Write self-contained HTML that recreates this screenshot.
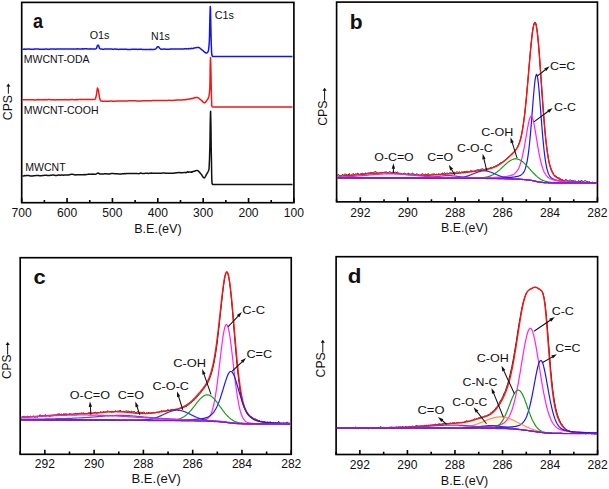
<!DOCTYPE html>
<html><head><meta charset="utf-8"><title>XPS</title>
<style>html,body{margin:0;padding:0;background:#fff;width:609px;height:489px;overflow:hidden}
svg{display:block;font-family:"Liberation Sans",sans-serif}</style></head>
<body>
<svg width="609" height="489" viewBox="0 0 609 489" font-family="Liberation Sans, sans-serif">
<rect x="21.70" y="2.40" width="272.20" height="200.30" fill="none" stroke="#000" stroke-width="1.65"/>
<path d="M21.70 202.70V198.10M67.07 202.70V198.10M112.43 202.70V198.10M157.80 202.70V198.10M203.17 202.70V198.10M248.53 202.70V198.10M293.90 202.70V198.10M44.38 202.70V200.00M89.75 202.70V200.00M135.12 202.70V200.00M180.48 202.70V200.00M225.85 202.70V200.00M271.22 202.70V200.00" stroke="#000" stroke-width="1.6" fill="none"/>
<text x="21.70" y="216.70" font-size="12.10" text-anchor="middle" fill="#111" >700</text>
<text x="67.07" y="216.70" font-size="12.10" text-anchor="middle" fill="#111" >600</text>
<text x="112.43" y="216.70" font-size="12.10" text-anchor="middle" fill="#111" >500</text>
<text x="157.80" y="216.70" font-size="12.10" text-anchor="middle" fill="#111" >400</text>
<text x="203.17" y="216.70" font-size="12.10" text-anchor="middle" fill="#111" >300</text>
<text x="248.53" y="216.70" font-size="12.10" text-anchor="middle" fill="#111" >200</text>
<text x="293.90" y="216.70" font-size="12.10" text-anchor="middle" fill="#111" >100</text>
<text x="134.17" y="232.90" font-size="12.20" textLength="47.51" lengthAdjust="spacingAndGlyphs" fill="#111">B.E.(eV)</text>
<text x="33.07" y="27.60" font-size="20.00" textLength="10.01" lengthAdjust="spacingAndGlyphs" font-weight="bold" fill="#111">a</text>
<text transform="translate(11.50 120.20) rotate(-90)" font-size="11.9" textLength="25.20" lengthAdjust="spacingAndGlyphs" fill="#111">CPS</text>
<path d="M8.35 93.70V85.40" stroke="#111" stroke-width="1.0"/>
<path d="M8.35 83.40L6.25 86.40L10.45 86.40Z" fill="#111"/>
<text x="214.65" y="18.60" font-size="10.80" textLength="19.14" lengthAdjust="spacingAndGlyphs" fill="#111">C1s</text>
<text x="89.69" y="39.30" font-size="10.80" textLength="19.80" lengthAdjust="spacingAndGlyphs" fill="#111">O1s</text>
<text x="151.04" y="40.00" font-size="10.60" textLength="18.75" lengthAdjust="spacingAndGlyphs" fill="#111">N1s</text>
<text x="23.75" y="62.50" font-size="10.20" textLength="65.87" lengthAdjust="spacingAndGlyphs" fill="#111">MWCNT-ODA</text>
<text x="23.74" y="113.70" font-size="10.20" textLength="74.81" lengthAdjust="spacingAndGlyphs" fill="#111">MWCNT-COOH</text>
<text x="25.34" y="170.60" font-size="10.20" textLength="40.30" lengthAdjust="spacingAndGlyphs" fill="#111">MWCNT</text>
<path d="M22.5 49.2L23.5 49.2L24.5 49.1L25.5 49.2L26.5 49.2L27.5 49.1L28.5 49.1L29.5 49.1L30.5 49.3L31.5 49.3L32.5 49.3L33.5 49.2L34.5 49.1L35.5 49.1L36.5 49.1L37.5 49.1L38.5 49.1L39.5 49.2L40.5 49.2L41.5 49.2L42.5 49.2L43.5 49.2L44.5 49.2L45.5 49.1L46.5 49.1L47.5 49.2L48.5 49.2L49.5 49.2L50.5 49.1L51.5 49.1L52.5 49.1L53.5 49.1L54.5 49.1L55.5 49.2L56.5 49.1L57.5 49.0L58.5 49.0L59.5 48.9L60.0 49.0L60.5 48.9L61.5 49.0L62.5 49.1L63.5 49.0L64.5 49.0L65.5 49.0L66.5 49.1L67.5 49.1L68.5 49.1L69.5 49.1L70.5 49.1L71.5 49.0L72.5 49.0L73.5 49.0L74.5 49.0L75.5 49.0L76.5 48.9L77.5 48.8L78.5 48.9L79.5 48.9L80.5 48.9L81.5 48.9L82.5 48.8L83.5 49.0L84.5 48.8L85.5 48.8L86.5 48.8L87.5 49.0L88.5 48.9L89.5 48.9L90.0 48.8L90.5 48.9L91.5 49.0L92.5 48.9L93.5 49.0L94.5 49.0L95.5 49.0L96.5 48.3L97.5 45.3L98.5 45.3L99.5 48.3L100.5 49.0L101.5 49.0L102.5 49.2L103.5 49.2L104.5 49.1L105.5 49.0L106.5 49.0L107.5 49.1L108.5 49.1L109.5 49.1L110.5 49.0L111.5 49.1L112.5 49.2L113.5 49.2L114.5 49.1L115.5 49.1L116.5 49.2L117.5 49.3L118.5 49.4L119.5 49.3L120.0 49.3L120.5 49.2L121.5 49.3L122.5 49.3L123.5 49.3L124.5 49.2L125.5 49.3L126.5 49.3L127.5 49.5L128.5 49.5L129.5 49.6L130.5 49.4L131.5 49.3L132.5 49.2L133.5 49.3L134.5 49.2L135.5 49.3L136.5 49.3L137.5 49.4L138.5 49.3L139.5 49.2L140.5 49.3L141.5 49.3L142.5 49.5L143.5 49.5L144.5 49.5L145.5 49.4L146.5 49.5L147.5 49.5L148.5 49.5L149.5 49.4L150.0 49.4L150.5 49.3L151.5 49.4L152.5 49.4L153.5 49.4L154.5 49.3L155.5 49.0L156.5 48.0L157.5 46.7L158.5 46.7L159.5 48.0L160.5 49.0L161.5 49.2L162.5 49.2L163.5 49.1L164.5 49.1L165.5 49.2L166.5 49.3L167.5 49.3L168.5 49.2L169.5 49.2L170.5 49.1L171.5 49.0L172.5 49.0L173.5 49.0L174.5 49.0L175.5 48.9L176.5 48.9L177.5 49.0L178.5 49.0L179.5 49.0L180.0 49.0L180.5 49.0L181.5 49.1L182.5 48.9L183.5 48.9L184.5 48.7L185.0 48.8L185.2 48.8L185.5 48.9L185.7 48.9L186.0 48.9L186.2 48.9L186.5 48.8L186.7 48.8L187.0 48.8L187.2 48.7L187.5 48.8L187.7 48.8L188.0 49.0L188.2 48.8L188.5 48.8L188.7 48.6L189.0 48.7L189.2 48.6L189.5 48.6L189.7 48.6L190.0 48.7L190.2 48.6L190.5 48.7L190.7 48.5L191.0 48.5L191.2 48.4L191.5 48.3L191.7 48.4L192.0 48.5L192.2 48.5L192.5 48.5L192.7 48.5L193.0 48.5L193.2 48.4L193.5 48.3L193.7 48.1L194.0 48.1L194.2 48.0L194.5 48.0L194.7 47.9L195.0 47.9L195.2 47.9L195.5 47.8L195.7 47.8L196.0 47.7L196.2 47.7L196.5 47.6L196.7 47.6L197.0 47.6L197.2 47.5L197.5 47.5L197.7 47.5L198.0 47.5L198.2 47.5L198.3 47.5L198.5 47.5L198.7 47.5L199.0 47.6L199.2 47.7L199.5 47.8L199.7 48.0L200.0 48.2L200.2 48.4L200.5 48.6L200.7 48.8L201.0 49.0L201.2 49.2L201.5 49.5L201.7 49.7L202.0 49.9L202.2 50.1L202.5 50.3L202.7 50.4L203.0 50.6L203.2 50.9L203.5 51.1L203.7 51.3L204.0 51.5L204.2 51.8L204.5 52.0L204.7 52.2L205.0 52.4L205.2 52.6L205.5 52.7L205.7 52.9L206.0 53.0L206.2 53.0L206.5 53.1L206.7 53.0L207.0 52.9L207.2 52.7L207.5 52.4L207.7 52.0L208.0 51.6L208.2 51.1L208.3 51.0L208.5 50.2L208.7 48.4L209.0 45.8L209.2 42.7L209.3 42.0L209.5 36.7L209.7 25.9L210.0 14.6L210.2 7.3L210.3 6.6L210.5 8.9L210.7 20.0L211.0 33.8L211.2 42.0L211.2 43.3L211.5 50.0L211.7 54.2L211.8 54.6L212.0 55.3L212.2 56.0L212.5 56.3L212.6 56.4L212.7 56.4L213.0 56.4L213.2 56.4L213.5 56.4L213.7 56.4L214.0 56.4L214.2 56.4L214.5 56.4L214.7 56.4L215.5 56.4L216.5 56.4L217.5 56.4L218.5 56.4L219.5 56.4L220.5 56.4L221.5 56.4L222.5 56.4L223.5 56.4L224.5 56.4L225.5 56.4L226.5 56.4L227.5 56.4L228.5 56.4L229.5 56.4L230.5 56.4L231.5 56.4L232.5 56.4L233.5 56.4L234.5 56.4L235.5 56.4L236.5 56.4L237.5 56.4L238.5 56.4L239.5 56.4L240.5 56.4L241.5 56.4L242.5 56.4L243.5 56.4L244.5 56.4L245.5 56.4L246.5 56.4L247.5 56.4L248.5 56.4L249.5 56.4L250.5 56.4L251.5 56.4L252.5 56.4L253.5 56.4L254.5 56.4L255.5 56.4L256.5 56.4L257.5 56.4L258.5 56.4L259.5 56.4L260.5 56.4L261.5 56.4L262.5 56.4L263.5 56.4L264.5 56.4L265.5 56.4L266.5 56.4L267.5 56.4L268.5 56.4L269.5 56.4L270.5 56.4L271.5 56.4L272.5 56.4L273.5 56.4L274.5 56.4L275.5 56.4L276.5 56.4L277.5 56.4L278.5 56.4L279.5 56.4L280.5 56.4L281.5 56.4L282.5 56.4L283.5 56.4L284.5 56.4L285.5 56.4L286.5 56.4L287.5 56.4L288.5 56.4L289.5 56.4L290.5 56.4L291.5 56.4L292.5 56.4" stroke="#1414f0" stroke-width="1.5" fill="none" stroke-linejoin="round"/>
<path d="M22.5 99.8L23.5 99.8L24.5 99.8L25.5 99.8L26.5 99.8L27.5 99.8L28.5 99.7L29.5 99.7L30.5 99.7L31.5 99.7L32.5 99.8L33.5 99.8L34.5 99.9L35.5 99.9L36.5 99.8L37.5 99.7L38.5 99.6L39.5 99.7L40.5 99.8L41.5 99.8L42.5 99.7L43.5 99.7L44.5 99.6L45.5 99.7L46.5 99.7L47.5 99.7L48.5 99.6L49.5 99.6L50.5 99.7L51.5 99.8L52.5 99.7L53.5 99.7L54.5 99.8L55.5 99.9L56.5 99.8L57.5 99.8L58.5 99.8L59.5 99.8L60.0 99.7L60.5 99.7L61.5 99.7L62.5 99.8L63.5 99.7L64.5 99.7L65.5 99.6L66.5 99.7L67.5 99.7L68.5 99.7L69.5 99.7L70.5 99.7L71.5 99.6L72.5 99.6L73.5 99.7L74.5 99.7L75.5 99.7L76.5 99.6L77.5 99.7L78.5 99.6L79.5 99.5L80.5 99.5L81.5 99.5L82.5 99.5L83.5 99.5L84.5 99.6L85.5 99.5L86.5 99.6L87.5 99.5L88.5 99.5L89.5 99.4L90.5 99.4L91.5 99.4L92.5 99.5L93.5 99.5L93.9 99.5L94.5 99.5L95.5 98.8L96.5 94.4L97.0 90.7L97.5 88.0L98.5 90.6L99.5 97.8L100.5 100.8L101.5 101.1L102.5 101.3L103.5 101.3L104.5 101.2L105.5 101.2L106.5 101.2L107.5 101.2L108.5 101.2L109.5 101.2L110.5 101.1L111.5 101.1L112.5 101.2L113.5 101.3L114.5 101.3L115.5 101.2L116.5 100.9L117.5 100.9L118.5 100.9L119.5 101.0L120.5 101.0L121.5 100.9L122.5 100.9L123.5 100.9L124.5 100.9L125.5 100.9L126.5 101.0L127.5 101.0L128.5 100.8L129.5 100.8L130.5 100.8L131.5 100.8L132.5 100.8L133.5 100.8L134.5 100.8L135.5 100.8L136.5 100.9L137.5 100.9L138.5 101.0L139.5 101.0L140.0 100.9L140.5 100.9L141.5 100.9L142.5 100.8L143.5 100.7L144.5 100.7L145.5 100.8L146.5 100.8L147.5 100.8L148.5 100.7L149.5 100.8L150.5 100.7L151.5 100.7L152.5 100.6L153.5 100.6L154.5 100.6L155.5 100.6L156.5 100.6L157.5 100.6L158.5 100.5L159.5 100.5L160.5 100.5L161.5 100.5L162.5 100.4L163.5 100.4L164.5 100.4L165.5 100.4L166.5 100.4L167.5 100.4L168.5 100.3L169.5 100.3L170.5 100.4L171.5 100.4L172.5 100.4L173.5 100.3L174.5 100.2L175.5 100.2L176.5 100.1L177.5 100.1L178.5 100.1L179.5 100.0L180.0 100.0L180.5 100.1L181.5 100.1L182.5 100.0L183.5 99.8L184.5 99.8L185.0 99.6L185.2 99.7L185.5 99.6L185.7 99.7L186.0 99.6L186.2 99.5L186.5 99.4L186.7 99.4L187.0 99.4L187.2 99.3L187.5 99.2L187.7 99.2L188.0 99.2L188.2 99.2L188.5 99.3L188.7 99.2L189.0 99.1L189.2 99.1L189.5 99.1L189.7 99.1L190.0 99.0L190.2 98.7L190.5 98.5L190.7 98.7L191.0 98.7L191.2 98.7L191.5 98.6L191.7 98.6L192.0 98.5L192.2 98.4L192.5 98.4L192.7 98.4L193.0 98.2L193.2 98.2L193.5 98.1L193.7 98.1L194.0 98.1L194.2 98.0L194.5 97.8L194.7 97.6L195.0 97.7L195.2 97.7L195.5 97.6L195.7 97.6L196.0 97.5L196.2 97.5L196.5 97.5L196.7 97.5L197.0 97.5L197.1 97.5L197.2 97.5L197.5 97.5L197.7 97.6L198.0 97.7L198.2 97.8L198.5 98.0L198.7 98.1L199.0 98.3L199.2 98.5L199.5 98.7L199.7 98.9L200.0 99.1L200.2 99.4L200.5 99.6L200.7 99.8L201.0 100.0L201.2 100.2L201.5 100.4L201.7 100.6L202.0 100.9L202.2 101.2L202.5 101.4L202.7 101.7L203.0 102.0L203.2 102.2L203.5 102.4L203.7 102.6L204.0 102.7L204.2 102.7L204.4 102.8L204.5 102.7L204.7 102.7L205.0 102.6L205.2 102.4L205.5 102.2L205.7 101.9L206.0 101.6L206.2 101.3L206.5 100.9L206.7 100.6L207.0 100.2L207.2 99.8L207.5 99.5L207.7 99.1L208.0 98.7L208.2 98.3L208.5 97.7L208.7 97.0L208.9 96.6L209.0 96.2L209.2 94.7L209.5 92.5L209.7 89.4L209.8 88.7L210.0 81.0L210.2 65.8L210.5 57.6L210.7 62.8L211.0 74.6L211.2 86.7L211.3 88.7L211.5 97.1L211.7 105.3L211.8 105.8L212.0 106.3L212.2 106.7L212.5 106.9L212.6 107.0L212.7 107.0L213.0 107.0L213.2 107.0L213.5 107.0L213.7 107.0L214.0 107.0L214.2 107.0L214.5 107.0L214.7 107.0L215.5 107.0L216.5 107.0L217.5 107.0L218.5 107.0L219.5 107.0L220.5 107.0L221.5 107.0L222.5 107.0L223.5 107.0L224.5 107.0L225.5 107.0L226.5 107.0L227.5 107.0L228.5 107.0L229.5 107.0L230.5 107.0L231.5 107.0L232.5 107.0L233.5 107.0L234.5 107.0L235.5 107.0L236.5 107.0L237.5 107.0L238.5 107.0L239.5 107.0L240.5 107.0L241.5 107.0L242.5 107.0L243.5 107.0L244.5 107.0L245.5 107.0L246.5 107.0L247.5 107.0L248.5 107.0L249.5 107.0L250.5 107.0L251.5 107.0L252.5 107.0L253.5 107.0L254.5 107.0L255.5 107.0L256.5 107.0L257.5 107.0L258.5 107.0L259.5 107.0L260.5 107.0L261.5 107.0L262.5 107.0L263.5 107.0L264.5 107.0L265.5 107.0L266.5 107.0L267.5 107.0L268.5 107.0L269.5 107.0L270.5 107.0L271.5 107.0L272.5 107.0L273.5 107.0L274.5 107.0L275.5 107.0L276.5 107.0L277.5 107.0L278.5 107.0L279.5 107.0L280.5 107.0L281.5 107.0L282.5 107.0L283.5 107.0L284.5 107.0L285.5 107.0L286.5 107.0L287.5 107.0L288.5 107.0L289.5 107.0L290.5 107.0L291.5 107.0L292.5 107.0" stroke="#f01818" stroke-width="1.5" fill="none" stroke-linejoin="round"/>
<path d="M22.5 176.0L23.5 176.0L24.5 175.6L25.5 175.7L26.5 175.5L27.5 175.6L28.5 175.6L29.5 175.7L30.5 175.9L31.5 176.0L32.5 176.0L33.5 175.8L34.5 175.7L35.5 175.6L36.5 175.4L37.5 175.4L38.5 175.6L39.5 175.8L40.5 175.7L41.5 175.7L42.5 175.6L43.5 175.6L44.5 175.3L45.5 175.2L46.5 175.2L47.5 175.5L48.5 175.6L49.5 175.5L50.5 175.2L51.5 175.2L52.5 175.1L53.5 175.1L54.5 175.2L55.5 175.4L56.5 175.4L57.5 175.2L58.5 175.0L59.5 175.0L60.0 175.2L60.5 175.2L61.5 175.1L62.5 175.0L63.5 175.2L64.5 175.1L65.5 175.0L66.5 175.0L67.5 175.0L68.5 175.0L69.5 174.7L70.5 174.4L71.5 174.3L72.5 174.3L73.5 174.6L74.5 174.7L75.5 174.9L76.5 174.8L77.5 174.7L78.5 174.8L79.5 174.7L80.5 174.8L81.5 174.7L82.5 174.8L83.5 174.8L84.5 174.6L85.5 174.7L86.5 174.4L87.5 174.4L88.5 174.1L89.5 174.3L90.5 174.2L91.5 174.3L92.5 174.1L93.5 174.3L94.5 174.3L95.5 174.2L96.5 173.9L97.5 173.2L98.5 173.1L99.5 173.8L100.0 174.0L100.5 174.1L101.5 174.1L102.5 174.1L103.5 173.9L104.5 173.7L105.5 173.8L106.5 173.7L107.5 174.0L108.5 174.1L109.5 174.0L110.5 173.7L111.5 173.6L112.5 173.5L113.5 173.6L114.5 173.7L115.5 173.8L116.5 173.7L117.5 173.7L118.5 174.0L119.5 174.1L120.5 174.1L121.5 174.0L122.5 173.8L123.5 173.8L124.5 173.6L125.5 173.7L126.5 173.5L127.5 173.5L128.5 173.4L129.5 173.6L130.5 173.5L131.5 173.5L132.5 173.4L133.5 173.5L134.5 173.5L135.5 173.5L136.5 173.4L137.5 173.6L138.5 173.7L139.5 173.5L140.0 173.2L140.5 173.1L141.5 173.3L142.5 173.6L143.5 173.6L144.5 173.4L145.5 173.3L146.5 173.2L147.5 173.3L148.5 173.5L149.5 173.3L150.5 173.3L151.5 173.1L152.5 173.3L153.5 173.2L154.5 173.3L155.5 173.2L156.5 173.2L157.5 173.2L158.5 173.2L159.5 173.2L160.5 173.2L161.5 173.2L162.5 173.0L163.5 173.0L164.5 172.9L165.5 173.2L166.5 173.2L167.5 173.2L168.5 173.2L169.5 173.3L170.5 173.2L171.5 173.3L172.5 173.2L173.5 173.3L174.5 173.0L175.5 173.0L176.5 172.7L177.5 172.7L178.5 172.6L179.5 172.6L180.0 172.8L180.5 172.6L181.5 172.8L182.5 172.7L183.5 172.6L184.5 172.4L185.0 172.5L185.2 172.5L185.5 172.5L185.7 172.6L186.0 172.8L186.2 172.7L186.5 172.4L186.7 172.4L187.0 172.2L187.2 171.9L187.5 171.8L187.7 171.8L188.0 172.2L188.2 172.3L188.5 172.3L188.7 172.0L189.0 172.0L189.2 172.0L189.5 172.0L189.7 171.9L190.0 172.0L190.2 172.0L190.5 172.0L190.7 172.1L191.0 172.2L191.2 172.0L191.5 172.1L191.7 171.9L192.0 172.2L192.2 171.8L192.5 171.8L192.7 171.6L193.0 171.6L193.2 171.6L193.5 171.6L193.7 171.4L194.0 171.2L194.2 171.2L194.5 171.3L194.7 171.2L195.0 170.9L195.2 170.9L195.5 170.8L195.7 170.7L196.0 170.7L196.2 170.6L196.5 170.6L196.7 170.6L197.0 170.6L197.2 170.6L197.2 170.6L197.5 170.6L197.7 170.7L198.0 170.8L198.2 171.0L198.5 171.2L198.7 171.4L199.0 171.7L199.2 171.9L199.5 172.2L199.7 172.5L200.0 172.8L200.2 173.1L200.5 173.4L200.7 173.7L201.0 174.0L201.2 174.2L201.5 174.6L201.7 175.0L202.0 175.3L202.2 175.8L202.5 176.2L202.7 176.6L203.0 176.9L203.2 177.2L203.5 177.5L203.7 177.7L204.0 177.8L204.2 177.9L204.2 177.9L204.5 177.8L204.7 177.5L205.0 177.2L205.2 176.8L205.5 176.3L205.7 175.9L206.0 175.4L206.2 174.9L206.5 174.5L206.7 174.0L207.0 173.6L207.2 173.2L207.5 172.8L207.7 172.3L208.0 171.8L208.2 171.3L208.5 170.8L208.7 170.1L209.0 169.2L209.2 165.9L209.5 159.5L209.7 151.6L209.8 150.0L210.0 140.3L210.2 124.2L210.5 112.5L210.6 111.2L210.7 114.3L211.0 129.1L211.2 147.8L211.4 157.0L211.5 162.3L211.7 176.1L212.0 183.3L212.2 183.8L212.5 184.2L212.7 184.4L212.8 184.4L213.0 184.4L213.2 184.4L213.5 184.4L213.7 184.4L214.0 184.4L214.2 184.4L214.5 184.4L214.7 184.4L215.5 184.4L216.5 184.4L217.5 184.4L218.5 184.4L219.5 184.4L220.5 184.4L221.5 184.4L222.5 184.4L223.5 184.4L224.5 184.4L225.5 184.4L226.5 184.4L227.5 184.4L228.5 184.4L229.5 184.4L230.5 184.4L231.5 184.4L232.5 184.4L233.5 184.4L234.5 184.4L235.5 184.4L236.5 184.4L237.5 184.4L238.5 184.4L239.5 184.4L240.5 184.4L241.5 184.4L242.5 184.4L243.5 184.4L244.5 184.4L245.5 184.4L246.5 184.4L247.5 184.4L248.5 184.4L249.5 184.4L250.5 184.4L251.5 184.4L252.5 184.4L253.5 184.4L254.5 184.4L255.5 184.4L256.5 184.4L257.5 184.4L258.5 184.4L259.5 184.4L260.5 184.4L261.5 184.4L262.5 184.4L263.5 184.4L264.5 184.4L265.5 184.4L266.5 184.4L267.5 184.4L268.5 184.4L269.5 184.4L270.5 184.4L271.5 184.4L272.5 184.4L273.5 184.4L274.5 184.4L275.5 184.4L276.5 184.4L277.5 184.4L278.5 184.4L279.5 184.4L280.5 184.4L281.5 184.4L282.5 184.4L283.5 184.4L284.5 184.4L285.5 184.4L286.5 184.4L287.5 184.4L288.5 184.4L289.5 184.4L290.5 184.4L291.5 184.4L292.5 184.4" stroke="#111111" stroke-width="1.5" fill="none" stroke-linejoin="round"/>
<rect x="336.60" y="2.10" width="260.85" height="199.75" fill="none" stroke="#000" stroke-width="1.65"/>
<path d="M360.31 201.85V197.25M407.74 201.85V197.25M455.17 201.85V197.25M502.60 201.85V197.25M550.02 201.85V197.25M597.45 201.85V197.25M336.60 201.85V199.15M384.03 201.85V199.15M431.45 201.85V199.15M478.88 201.85V199.15M526.31 201.85V199.15M573.74 201.85V199.15" stroke="#000" stroke-width="1.6" fill="none"/>
<text x="360.31" y="216.70" font-size="12.10" text-anchor="middle" fill="#111" >292</text>
<text x="407.74" y="216.70" font-size="12.10" text-anchor="middle" fill="#111" >290</text>
<text x="455.17" y="216.70" font-size="12.10" text-anchor="middle" fill="#111" >288</text>
<text x="502.60" y="216.70" font-size="12.10" text-anchor="middle" fill="#111" >286</text>
<text x="550.02" y="216.70" font-size="12.10" text-anchor="middle" fill="#111" >284</text>
<text x="597.45" y="216.70" font-size="12.10" text-anchor="middle" fill="#111" >282</text>
<text x="441.08" y="231.90" font-size="12.20" textLength="46.78" lengthAdjust="spacingAndGlyphs" fill="#111">B.E.(eV)</text>
<text x="349.71" y="28.80" font-size="20.00" textLength="12.85" lengthAdjust="spacingAndGlyphs" font-weight="bold" fill="#111">b</text>
<text transform="translate(326.60 125.80) rotate(-90)" font-size="11.9" textLength="25.30" lengthAdjust="spacingAndGlyphs" fill="#111">CPS</text>
<path d="M324.60 100.60V89.80" stroke="#111" stroke-width="1.0"/>
<path d="M324.60 87.80L322.50 90.80L326.70 90.80Z" fill="#111"/>
<path d="M337.4 175.5L337.9 175.1L338.4 174.5L338.9 174.7L339.4 175.5L339.9 176.0L340.4 176.0L340.9 175.9L341.4 175.6L341.9 174.8L342.4 174.5L342.9 174.9L343.4 175.2L343.9 174.8L344.4 174.2L344.9 174.0L345.4 174.2L345.9 174.4L346.4 174.4L346.9 174.5L347.4 174.9L347.9 175.1L348.4 175.0L348.9 174.0L349.4 173.7L349.9 174.8L350.4 175.6L350.9 175.4L351.4 175.0L351.9 174.7L352.4 174.3L352.9 173.7L353.4 173.9L353.9 174.3L354.4 174.5L354.9 174.6L355.4 173.8L355.9 173.9L356.4 174.3L356.9 173.8L357.4 173.2L357.9 173.1L358.4 173.7L358.9 174.4L359.4 174.4L359.9 174.0L360.4 173.8L360.9 174.0L361.4 173.7L361.9 173.2L362.4 173.3L362.9 173.7L363.4 174.0L363.9 173.7L364.4 174.0L364.9 174.1L365.4 173.1L365.9 172.8L366.4 173.4L366.9 173.5L367.4 173.2L367.9 173.1L368.4 173.0L368.9 173.0L369.4 173.0L369.9 172.9L370.4 172.4L370.9 172.3L371.4 172.6L371.9 172.7L372.4 172.8L372.9 172.6L373.4 172.4L373.9 172.4L374.4 172.1L374.9 171.6L375.4 171.6L375.9 171.8L376.4 172.1L376.9 172.5L377.4 172.8L377.9 173.0L378.4 173.3L378.9 173.0L379.4 172.7L379.9 173.0L380.4 172.8L380.9 172.3L381.4 172.4L381.9 172.7L382.4 172.6L382.9 172.6L383.4 172.6L383.9 172.4L384.4 172.2L384.9 172.2L385.4 172.2L385.9 172.0L386.4 171.7L386.9 172.2L387.4 172.8L387.9 172.6L388.4 172.4L388.9 172.3L389.4 171.9L389.9 171.8L390.4 172.0L390.9 172.4L391.4 172.6L391.9 172.5L392.4 172.4L392.9 172.0L393.4 171.9L393.9 172.6L394.4 172.9L394.9 172.2L395.4 171.9L395.9 172.5L396.4 172.6L396.9 172.2L397.4 172.1L397.9 172.5L398.4 173.0L398.9 173.0L399.4 173.0L399.9 173.7L400.4 173.5L400.9 173.2L401.4 173.4L401.9 173.9L402.4 174.4L402.9 174.2L403.4 173.4L403.9 173.2L404.4 173.2L404.9 173.5L405.4 173.7L405.9 173.8L406.4 174.2L406.9 174.0L407.4 173.9L407.9 173.8L408.4 173.1L408.9 173.3L409.4 174.0L409.9 174.1L410.4 174.1L410.9 174.1L411.4 173.9L411.9 173.6L412.4 173.2L412.9 173.4L413.4 174.1L413.9 173.9L414.4 174.0L414.9 174.9L415.4 174.9L415.9 174.2L416.4 174.0L416.9 174.0L417.4 174.1L417.9 174.4L418.4 174.6L418.9 174.6L419.4 174.9L419.9 175.2L420.4 175.6L420.9 175.1L421.4 174.2L421.9 174.2L422.4 173.9L422.9 173.8L423.4 174.3L423.9 174.2L424.4 174.4L424.9 174.6L425.4 174.2L425.9 174.0L426.4 174.6L426.9 175.0L427.4 174.5L427.9 173.7L428.4 173.7L428.9 174.5L429.4 175.2L429.9 175.2L430.4 175.0L430.9 174.8L431.4 174.4L431.9 174.4L432.4 174.2L432.9 173.8L433.4 174.0L433.9 174.1L434.4 173.9L434.9 174.3L435.4 174.6L435.9 174.4L436.4 173.9L436.9 174.1L437.4 174.6L437.9 174.3L438.4 173.7L438.9 174.0L439.4 174.3L439.9 174.0L440.4 174.3L440.9 174.7L441.4 174.1L441.9 173.3L442.4 173.0L442.9 173.4L443.4 173.9L443.9 173.4L444.4 172.8L444.9 172.8L445.4 173.3L445.9 173.5L446.4 173.3L446.9 173.3L447.4 173.2L447.9 173.3L448.4 173.5L448.9 173.4L449.4 173.0L449.9 173.0L450.4 172.9L450.9 172.6L451.4 172.9L451.9 173.3L452.4 173.3L452.9 173.0L453.4 172.8L453.9 172.6L454.4 172.4L454.9 172.6L455.4 172.8L455.9 172.6L456.4 172.2L456.9 171.8L457.4 171.8L457.9 172.3L458.4 172.4L458.9 172.2L459.4 172.0L459.9 172.1L460.4 172.5L460.9 172.4L461.4 172.0L461.9 172.1L462.4 172.0L462.9 171.8L463.4 171.9L463.9 171.8L464.4 171.5L464.9 171.5L465.4 171.7L465.9 171.7L466.4 171.4L466.9 171.1L467.4 171.2L467.9 171.7L468.4 171.8L468.9 171.7L469.4 171.7L469.9 171.2L470.4 170.8L470.9 170.9L471.4 170.8L471.9 171.1L472.4 171.2L472.9 170.8L473.4 171.0L473.9 171.5L474.4 171.1L474.9 170.8L475.4 170.7L475.9 170.5L476.4 170.3L476.9 170.0L477.4 169.7L477.9 170.0L478.4 169.8L478.9 169.6L479.4 169.9L479.9 169.7L480.4 169.4L480.9 169.4L481.4 169.2L481.9 168.9L482.4 168.8L482.9 169.0L483.4 169.3L483.9 169.4L484.4 169.4L484.9 169.4L485.4 169.0L485.9 168.7L486.4 168.9L486.9 169.1L487.4 168.9L487.9 168.6L488.4 168.4L488.9 168.4L489.4 168.3L489.9 168.0L490.4 167.7L490.9 167.4L491.4 167.3L491.9 167.5L492.4 167.6L492.9 167.4L493.4 166.9L493.9 166.6L494.4 166.7L494.9 166.4L495.4 165.9L495.9 166.0L496.4 166.1L496.9 165.7L497.4 164.9L497.9 164.6L498.4 164.5L498.9 164.0L499.4 163.6L499.9 163.3L500.4 162.9L500.9 162.6L501.4 162.6L501.9 162.6L502.4 162.2L502.9 161.7L503.4 161.4L503.9 161.1L504.4 160.8L504.9 160.2L505.4 159.6L505.9 159.2L506.4 158.8L506.9 158.4L507.4 158.0L507.9 157.4L508.4 157.1L508.9 156.8L509.4 156.3L509.9 155.8L510.4 155.2L510.9 154.6L511.4 154.2L511.9 153.9L512.4 153.5L512.9 153.0L513.4 152.3L513.9 151.7L514.4 151.3L514.9 150.6L515.4 149.8L515.9 149.1L516.4 148.6L516.9 147.9L517.4 147.2L517.9 146.2L518.4 144.9L518.9 143.9L519.4 142.6L519.9 141.0L520.4 139.3L520.9 137.5L521.4 135.4L521.9 132.8L522.4 130.0L522.9 127.0L523.4 123.8L523.9 120.2L524.4 116.2L524.9 112.0L525.4 107.3L525.9 102.3L526.4 97.1L526.9 91.7L527.4 86.1L527.9 80.4L528.4 74.5L528.9 68.5L529.4 62.6L529.9 56.9L530.4 51.2L530.9 45.8L531.4 41.0L531.9 36.3L532.4 31.9L532.9 28.6L533.4 26.0L533.9 23.9L534.4 22.6L534.9 22.1L535.4 22.4L535.9 23.6L536.4 25.8L536.9 28.9L537.4 32.8L537.9 37.5L538.4 42.8L538.9 48.7L539.4 55.0L539.9 61.9L540.4 69.2L540.9 76.4L541.4 83.7L541.9 90.9L542.4 98.1L542.9 105.1L543.4 111.8L543.9 118.2L544.4 124.3L544.9 130.1L545.4 135.5L545.9 140.3L546.4 144.7L546.9 148.7L547.4 152.1L547.9 155.4L548.4 158.6L548.9 161.3L549.4 163.4L549.9 165.3L550.4 166.7L550.9 168.1L551.4 169.5L551.9 170.7L552.4 171.8L552.9 172.7L553.4 173.8L553.9 175.1L554.4 175.6L554.9 175.7L555.4 175.9L555.9 175.9L556.4 176.2L556.9 177.2L557.4 177.7L557.9 177.6L558.4 177.9L558.9 177.9L559.4 177.8L559.9 178.5L560.4 179.2L560.9 179.2L561.4 179.4L561.9 179.5L562.4 179.5L562.9 180.2L563.4 180.8L563.9 181.0L564.4 180.7L564.9 180.0L565.4 179.6L565.9 179.6L566.4 179.6L566.9 180.1L567.4 181.1L567.9 181.3L568.4 180.9L568.9 180.7L569.4 180.3L569.9 180.2L570.4 180.0L570.9 180.0L571.4 180.7L571.9 181.0L572.4 180.8L572.9 180.6L573.4 180.6L573.9 180.8L574.4 181.0L574.9 181.0L575.4 180.9L575.9 181.3L576.4 181.9L576.9 182.2L577.4 182.2L577.9 181.6L578.4 180.8L578.9 180.5L579.4 181.4L579.9 182.5L580.4 182.0L580.9 180.6L581.4 180.5L581.9 181.0L582.4 181.0L582.9 181.4L583.4 181.5L583.9 181.3L584.4 181.1L584.9 180.7L585.4 180.6L585.9 181.2L586.4 181.4L586.9 181.0L587.4 181.3L587.9 181.9L588.4 182.0L588.9 181.8L589.4 181.6L589.9 181.9L590.4 182.6L590.9 183.0L591.4 182.8L591.9 182.5L592.4 182.0L592.9 182.1L593.4 182.5L593.9 182.6L594.4 182.6L594.9 182.8L595.4 183.3L595.9 183.1L596.4 181.9" stroke="#111" stroke-width="1.00" fill="none"/>
<path d="M337.4 176.2L337.9 176.1L338.4 176.1L338.9 176.1L339.4 176.1L339.9 176.1L340.4 176.0L340.9 176.0L341.4 176.0L341.9 176.0L342.4 175.9L342.9 175.9L343.4 175.9L343.9 175.8L344.4 175.8L344.9 175.8L345.4 175.8L345.9 175.7L346.4 175.7L346.9 175.7L347.4 175.6L347.9 175.6L348.4 175.6L348.9 175.5L349.4 175.5L349.9 175.5L350.4 175.4L350.9 175.4L351.4 175.4L351.9 175.3L352.4 175.3L352.9 175.2L353.4 175.2L353.9 175.2L354.4 175.1L354.9 175.1L355.4 175.0L355.9 175.0L356.4 175.0L356.9 174.9L357.4 174.9L357.9 174.8L358.4 174.8L358.9 174.7L359.4 174.7L359.9 174.7L360.4 174.6L360.9 174.6L361.4 174.5L361.9 174.5L362.4 174.4L362.9 174.4L363.4 174.3L363.9 174.3L364.4 174.2L364.9 174.2L365.4 174.1L365.9 174.1L366.4 174.0L366.9 174.0L367.4 173.9L367.9 173.9L368.4 173.8L368.9 173.8L369.4 173.8L369.9 173.7L370.4 173.7L370.9 173.6L371.4 173.6L371.9 173.5L372.4 173.5L372.9 173.4L373.4 173.4L373.9 173.4L374.4 173.3L374.9 173.3L375.4 173.3L375.9 173.2L376.4 173.2L376.9 173.2L377.4 173.1L377.9 173.1L378.4 173.1L378.9 173.0L379.4 173.0L379.9 173.0L380.4 173.0L380.9 173.0L381.4 173.0L381.9 172.9L382.4 172.9L382.9 172.9L383.4 172.9L383.9 172.9L384.4 172.9L384.9 172.9L385.4 172.9L385.9 172.9L386.4 173.0L386.9 173.0L387.4 173.0L387.9 173.0L388.4 173.0L388.9 173.0L389.4 173.1L389.9 173.1L390.4 173.1L390.9 173.2L391.4 173.2L391.9 173.2L392.4 173.3L392.9 173.3L393.4 173.3L393.9 173.4L394.4 173.4L394.9 173.5L395.4 173.5L395.9 173.5L396.4 173.6L396.9 173.6L397.4 173.7L397.9 173.7L398.4 173.8L398.9 173.8L399.4 173.9L399.9 173.9L400.4 174.0L400.9 174.0L401.4 174.1L401.9 174.1L402.4 174.2L402.9 174.2L403.4 174.3L403.9 174.3L404.4 174.3L404.9 174.4L405.4 174.4L405.9 174.5L406.4 174.5L406.9 174.6L407.4 174.6L407.9 174.7L408.4 174.7L408.9 174.7L409.4 174.8L409.9 174.8L410.4 174.8L410.9 174.9L411.4 174.9L411.9 174.9L412.4 175.0L412.9 175.0L413.4 175.0L413.9 175.1L414.4 175.1L414.9 175.1L415.4 175.1L415.9 175.2L416.4 175.2L416.9 175.2L417.4 175.2L417.9 175.2L418.4 175.2L418.9 175.3L419.4 175.3L419.9 175.3L420.4 175.3L420.9 175.3L421.4 175.3L421.9 175.3L422.4 175.3L422.9 175.3L423.4 175.3L423.9 175.3L424.4 175.3L424.9 175.3L425.4 175.3L425.9 175.3L426.4 175.2L426.9 175.2L427.4 175.2L427.9 175.2L428.4 175.2L428.9 175.2L429.4 175.2L429.9 175.1L430.4 175.1L430.9 175.1L431.4 175.1L431.9 175.0L432.4 175.0L432.9 175.0L433.4 175.0L433.9 174.9L434.4 174.9L434.9 174.9L435.4 174.8L435.9 174.8L436.4 174.8L436.9 174.7L437.4 174.7L437.9 174.7L438.4 174.6L438.9 174.6L439.4 174.6L439.9 174.5L440.4 174.5L440.9 174.5L441.4 174.4L441.9 174.4L442.4 174.4L442.9 174.3L443.4 174.3L443.9 174.3L444.4 174.2L444.9 174.2L445.4 174.2L445.9 174.1L446.4 174.1L446.9 174.1L447.4 174.0L447.9 174.0L448.4 174.0L448.9 173.9L449.4 173.9L449.9 173.9L450.4 173.8L450.9 173.8L451.4 173.8L451.9 173.7L452.4 173.7L452.9 173.7L453.4 173.6L453.9 173.6L454.4 173.6L454.9 173.5L455.4 173.5L455.9 173.4L456.4 173.4L456.9 173.4L457.4 173.3L457.9 173.3L458.4 173.2L458.9 173.2L459.4 173.1L459.9 173.1L460.4 173.0L460.9 173.0L461.4 172.9L461.9 172.9L462.4 172.8L462.9 172.8L463.4 172.7L463.9 172.7L464.4 172.6L464.9 172.6L465.4 172.5L465.9 172.5L466.4 172.4L466.9 172.3L467.4 172.3L467.9 172.2L468.4 172.1L468.9 172.1L469.4 172.0L469.9 171.9L470.4 171.9L470.9 171.8L471.4 171.7L471.9 171.7L472.4 171.6L472.9 171.5L473.4 171.5L473.9 171.4L474.4 171.3L474.9 171.3L475.4 171.2L475.9 171.1L476.4 171.1L476.9 171.0L477.4 170.9L477.9 170.9L478.4 170.8L478.9 170.7L479.4 170.6L479.9 170.6L480.4 170.5L480.9 170.4L481.4 170.3L481.9 170.3L482.4 170.2L482.9 170.1L483.4 170.0L483.9 169.9L484.4 169.9L484.9 169.8L485.4 169.7L485.9 169.6L486.4 169.5L486.9 169.4L487.4 169.3L487.9 169.2L488.4 169.1L488.9 168.9L489.4 168.8L489.9 168.7L490.4 168.5L490.9 168.4L491.4 168.2L491.9 168.1L492.4 167.9L492.9 167.7L493.4 167.5L493.9 167.3L494.4 167.1L494.9 166.9L495.4 166.7L495.9 166.5L496.4 166.2L496.9 166.0L497.4 165.7L497.9 165.4L498.4 165.1L498.9 164.8L499.4 164.5L499.9 164.2L500.4 163.9L500.9 163.5L501.4 163.2L501.9 162.8L502.4 162.5L502.9 162.1L503.4 161.7L503.9 161.3L504.4 160.9L504.9 160.5L505.4 160.1L505.9 159.6L506.4 159.2L506.9 158.8L507.4 158.3L507.9 157.9L508.4 157.4L508.9 157.0L509.4 156.5L509.9 156.1L510.4 155.6L510.9 155.1L511.4 154.7L511.9 154.2L512.4 153.7L512.9 153.2L513.4 152.7L513.9 152.2L514.4 151.7L514.9 151.1L515.4 150.5L515.9 149.8L516.4 149.1L516.9 148.3L517.4 147.5L517.9 146.5L518.4 145.5L518.9 144.3L519.4 142.9L519.9 141.4L520.4 139.7L520.9 137.8L521.4 135.6L521.9 133.2L522.4 130.5L522.9 127.5L523.4 124.2L523.9 120.5L524.4 116.6L524.9 112.3L525.4 107.8L525.9 102.9L526.4 97.7L526.9 92.3L527.4 86.7L527.9 81.0L528.4 75.1L528.9 69.2L529.4 63.3L529.9 57.6L530.4 52.0L530.9 46.6L531.4 41.7L531.9 37.1L532.4 33.0L532.9 29.6L533.4 26.8L533.9 24.7L534.4 23.4L534.9 22.9L535.4 23.2L535.9 24.5L536.4 26.6L536.9 29.7L537.4 33.5L537.9 38.1L538.4 43.4L538.9 49.4L539.4 55.8L539.9 62.6L540.4 69.7L540.9 76.9L541.4 84.3L541.9 91.5L542.4 98.7L542.9 105.7L543.4 112.4L543.9 118.8L544.4 124.8L544.9 130.5L545.4 135.7L545.9 140.6L546.4 145.0L546.9 149.0L547.4 152.6L547.9 155.9L548.4 158.8L548.9 161.4L549.4 163.7L549.9 165.7L550.4 167.4L550.9 169.0L551.4 170.3L551.9 171.5L552.4 172.5L552.9 173.4L553.4 174.2L553.9 174.9L554.4 175.5L554.9 176.0L555.4 176.5L555.9 176.9L556.4 177.3L556.9 177.7L557.4 178.0L557.9 178.3L558.4 178.6L558.9 178.9L559.4 179.1L559.9 179.3L560.4 179.5L560.9 179.7L561.4 179.9L561.9 180.1L562.4 180.2L562.9 180.4L563.4 180.5L563.9 180.7L564.4 180.8L564.9 180.9L565.4 181.0L565.9 181.1L566.4 181.2L566.9 181.3L567.4 181.4L567.9 181.5L568.4 181.6L568.9 181.7L569.4 181.7L569.9 181.8L570.4 181.8L570.9 181.9L571.4 181.9L571.9 182.0L572.4 182.0L572.9 182.1L573.4 182.1L573.9 182.2L574.4 182.2L574.9 182.2L575.4 182.2L575.9 182.3L576.4 182.3L576.9 182.3L577.4 182.3L577.9 182.4L578.4 182.4L578.9 182.4L579.4 182.4L579.9 182.4L580.4 182.5L580.9 182.5L581.4 182.5L581.9 182.5L582.4 182.5L582.9 182.5L583.4 182.5L583.9 182.5L584.4 182.6L584.9 182.6L585.4 182.6L585.9 182.6L586.4 182.6L586.9 182.6L587.4 182.6L587.9 182.6L588.4 182.6L588.9 182.6L589.4 182.6L589.9 182.6L590.4 182.6L590.9 182.6L591.4 182.6L591.9 182.7L592.4 182.7L592.9 182.7L593.4 182.7L593.9 182.7L594.4 182.7L594.9 182.7L595.4 182.7L595.9 182.7L596.4 182.7" stroke="#ff1212" stroke-width="1.4" fill="none"/>
<path d="M337.4 177.7L337.9 177.7L338.4 177.7L338.9 177.7L339.4 177.7L339.9 177.7L340.4 177.7L340.9 177.7L341.4 177.7L341.9 177.7L342.4 177.7L342.9 177.7L343.4 177.7L343.9 177.7L344.4 177.7L344.9 177.7L345.4 177.7L345.9 177.7L346.4 177.7L346.9 177.7L347.4 177.7L347.9 177.7L348.4 177.7L348.9 177.7L349.4 177.7L349.9 177.7L350.4 177.7L350.9 177.7L351.4 177.7L351.9 177.7L352.4 177.7L352.9 177.7L353.4 177.7L353.9 177.7L354.4 177.7L354.9 177.7L355.4 177.7L355.9 177.7L356.4 177.8L356.9 177.8L357.4 177.8L357.9 177.8L358.4 177.8L358.9 177.8L359.4 177.8L359.9 177.8L360.4 177.8L360.9 177.8L361.4 177.8L361.9 177.8L362.4 177.8L362.9 177.8L363.4 177.8L363.9 177.8L364.4 177.8L364.9 177.8L365.4 177.8L365.9 177.8L366.4 177.8L366.9 177.8L367.4 177.8L367.9 177.8L368.4 177.8L368.9 177.8L369.4 177.8L369.9 177.8L370.4 177.8L370.9 177.8L371.4 177.8L371.9 177.8L372.4 177.8L372.9 177.8L373.4 177.8L373.9 177.8L374.4 177.8L374.9 177.8L375.4 177.8L375.9 177.8L376.4 177.8L376.9 177.8L377.4 177.8L377.9 177.8L378.4 177.8L378.9 177.8L379.4 177.8L379.9 177.8L380.4 177.8L380.9 177.8L381.4 177.8L381.9 177.8L382.4 177.8L382.9 177.8L383.4 177.8L383.9 177.8L384.4 177.9L384.9 177.9L385.4 177.9L385.9 177.9L386.4 177.9L386.9 177.9L387.4 177.9L387.9 177.9L388.4 177.9L388.9 177.9L389.4 177.9L389.9 177.9L390.4 177.9L390.9 177.9L391.4 177.9L391.9 177.9L392.4 177.9L392.9 177.9L393.4 177.9L393.9 177.9L394.4 177.9L394.9 177.9L395.4 177.9L395.9 177.9L396.4 177.9L396.9 177.9L397.4 177.9L397.9 177.9L398.4 177.9L398.9 177.9L399.4 177.9L399.9 177.9L400.4 177.9L400.9 177.9L401.4 177.9L401.9 177.9L402.4 177.9L402.9 177.9L403.4 177.9L403.9 177.9L404.4 177.9L404.9 178.0L405.4 178.0L405.9 178.0L406.4 178.0L406.9 178.0L407.4 178.0L407.9 178.0L408.4 178.0L408.9 178.0L409.4 178.0L409.9 178.0L410.4 178.0L410.9 178.0L411.4 178.0L411.9 178.0L412.4 178.0L412.9 178.0L413.4 178.0L413.9 178.0L414.4 178.0L414.9 178.0L415.4 178.0L415.9 178.0L416.4 178.0L416.9 178.0L417.4 178.0L417.9 178.0L418.4 178.0L418.9 178.0L419.4 178.0L419.9 178.0L420.4 178.0L420.9 178.0L421.4 178.0L421.9 178.0L422.4 178.0L422.9 178.0L423.4 178.0L423.9 178.0L424.4 178.0L424.9 178.0L425.4 178.0L425.9 178.0L426.4 178.0L426.9 178.0L427.4 178.0L427.9 178.0L428.4 178.0L428.9 178.0L429.4 178.0L429.9 178.0L430.4 178.0L430.9 178.0L431.4 178.0L431.9 178.0L432.4 178.0L432.9 178.0L433.4 178.0L433.9 178.0L434.4 178.0L434.9 178.0L435.4 178.0L435.9 178.0L436.4 178.0L436.9 178.0L437.4 178.0L437.9 178.0L438.4 178.0L438.9 178.0L439.4 178.0L439.9 178.0L440.4 178.0L440.9 178.0L441.4 178.0L441.9 178.0L442.4 178.0L442.9 178.0L443.4 178.0L443.9 178.0L444.4 178.0L444.9 178.0L445.4 178.0L445.9 178.0L446.4 178.0L446.9 178.0L447.4 178.0L447.9 178.0L448.4 178.0L448.9 178.0L449.4 178.1L449.9 178.1L450.4 178.1L450.9 178.1L451.4 178.1L451.9 178.1L452.4 178.1L452.9 178.1L453.4 178.1L453.9 178.1L454.4 178.1L454.9 178.1L455.4 178.1L455.9 178.1L456.4 178.1L456.9 178.1L457.4 178.1L457.9 178.1L458.4 178.1L458.9 178.1L459.4 178.1L459.9 178.1L460.4 178.1L460.9 178.1L461.4 178.1L461.9 178.1L462.4 178.1L462.9 178.1L463.4 178.1L463.9 178.0L464.4 178.0L464.9 178.0L465.4 178.0L465.9 178.0L466.4 178.0L466.9 178.0L467.4 178.0L467.9 178.0L468.4 178.0L468.9 178.0L469.4 178.0L469.9 178.0L470.4 178.0L470.9 178.0L471.4 178.0L471.9 178.0L472.4 178.0L472.9 178.0L473.4 178.0L473.9 178.0L474.4 178.0L474.9 178.0L475.4 178.0L475.9 178.0L476.4 178.0L476.9 178.0L477.4 178.0L477.9 178.0L478.4 178.0L478.9 178.0L479.4 178.0L479.9 178.0L480.4 178.0L480.9 178.0L481.4 178.0L481.9 178.0L482.4 178.0L482.9 178.0L483.4 178.0L483.9 178.0L484.4 178.0L484.9 178.0L485.4 178.0L485.9 178.0L486.4 178.0L486.9 178.0L487.4 178.0L487.9 178.0L488.4 178.0L488.9 178.0L489.4 178.0L489.9 178.0L490.4 178.0L490.9 178.0L491.4 178.0L491.9 178.0L492.4 178.0L492.9 178.0L493.4 178.0L493.9 178.0L494.4 178.0L494.9 178.0L495.4 178.0L495.9 177.9L496.4 177.9L496.9 177.9L497.4 177.9L497.9 177.9L498.4 177.9L498.9 177.9L499.4 177.9L499.9 177.9L500.4 177.9L500.9 177.8L501.4 177.8L501.9 177.8L502.4 177.8L502.9 177.8L503.4 177.8L503.9 177.7L504.4 177.7L504.9 177.7L505.4 177.7L505.9 177.7L506.4 177.6L506.9 177.6L507.4 177.6L507.9 177.6L508.4 177.5L508.9 177.5L509.4 177.5L509.9 177.4L510.4 177.4L510.9 177.4L511.4 177.3L511.9 177.3L512.4 177.2L512.9 177.2L513.4 177.1L513.9 177.0L514.4 177.0L514.9 176.9L515.4 176.8L515.9 176.7L516.4 176.6L516.9 176.5L517.4 176.4L517.9 176.3L518.4 176.1L518.9 176.0L519.4 175.8L519.9 175.6L520.4 175.4L520.9 175.1L521.4 174.8L521.9 174.4L522.4 173.9L522.9 173.4L523.4 172.7L523.9 171.9L524.4 171.0L524.9 169.8L525.4 168.4L525.9 166.8L526.4 164.8L526.9 162.5L527.4 159.8L527.9 156.7L528.4 153.1L528.9 149.1L529.4 144.7L529.9 139.7L530.4 134.4L530.9 128.6L531.4 122.6L531.9 116.3L532.4 109.8L532.9 103.4L533.4 97.2L533.9 91.3L534.4 86.0L534.9 81.5L535.4 77.9L535.9 75.6L536.4 74.5L536.9 74.9L537.4 76.6L537.9 79.7L538.4 83.8L538.9 88.8L539.4 94.6L539.9 100.8L540.4 107.3L540.9 113.9L541.4 120.4L541.9 126.8L542.4 132.9L542.9 138.6L543.4 143.9L543.9 148.8L544.4 153.2L544.9 157.1L545.4 160.6L545.9 163.6L546.4 166.3L546.9 168.5L547.4 170.4L547.9 172.0L548.4 173.4L548.9 174.5L549.4 175.5L549.9 176.3L550.4 176.9L550.9 177.5L551.4 177.9L551.9 178.3L552.4 178.7L552.9 178.9L553.4 179.2L553.9 179.4L554.4 179.6L554.9 179.8L555.4 180.0L555.9 180.1L556.4 180.2L556.9 180.4L557.4 180.5L557.9 180.6L558.4 180.7L558.9 180.8L559.4 180.9L559.9 181.0L560.4 181.0L560.9 181.1L561.4 181.2L561.9 181.2L562.4 181.3L562.9 181.4L563.4 181.4L563.9 181.5L564.4 181.5L564.9 181.6L565.4 181.6L565.9 181.7L566.4 181.7L566.9 181.7L567.4 181.8L567.9 181.8L568.4 181.8L568.9 181.9L569.4 181.9L569.9 181.9L570.4 182.0L570.9 182.0L571.4 182.0L571.9 182.1L572.4 182.1L572.9 182.1L573.4 182.1L573.9 182.1L574.4 182.2L574.9 182.2L575.4 182.2L575.9 182.2L576.4 182.2L576.9 182.3L577.4 182.3L577.9 182.3L578.4 182.3L578.9 182.3L579.4 182.3L579.9 182.4L580.4 182.4L580.9 182.4L581.4 182.4L581.9 182.4L582.4 182.4L582.9 182.4L583.4 182.4L583.9 182.5L584.4 182.5L584.9 182.5L585.4 182.5L585.9 182.5L586.4 182.5L586.9 182.5L587.4 182.5L587.9 182.5L588.4 182.5L588.9 182.5L589.4 182.6L589.9 182.6L590.4 182.6L590.9 182.6L591.4 182.6L591.9 182.6L592.4 182.6L592.9 182.6L593.4 182.6L593.9 182.6L594.4 182.6L594.9 182.6L595.4 182.6L595.9 182.6L596.4 182.6" stroke="#1a1aee" stroke-width="1.2" fill="none"/>
<path d="M337.4 177.7L337.9 177.7L338.4 177.7L338.9 177.7L339.4 177.7L339.9 177.7L340.4 177.7L340.9 177.7L341.4 177.7L341.9 177.7L342.4 177.7L342.9 177.7L343.4 177.7L343.9 177.7L344.4 177.7L344.9 177.7L345.4 177.7L345.9 177.7L346.4 177.7L346.9 177.7L347.4 177.7L347.9 177.7L348.4 177.7L348.9 177.7L349.4 177.7L349.9 177.7L350.4 177.7L350.9 177.7L351.4 177.7L351.9 177.7L352.4 177.7L352.9 177.7L353.4 177.7L353.9 177.7L354.4 177.7L354.9 177.7L355.4 177.7L355.9 177.7L356.4 177.7L356.9 177.7L357.4 177.7L357.9 177.7L358.4 177.7L358.9 177.7L359.4 177.7L359.9 177.7L360.4 177.7L360.9 177.7L361.4 177.7L361.9 177.7L362.4 177.7L362.9 177.7L363.4 177.7L363.9 177.7L364.4 177.8L364.9 177.8L365.4 177.8L365.9 177.8L366.4 177.8L366.9 177.8L367.4 177.8L367.9 177.8L368.4 177.8L368.9 177.8L369.4 177.8L369.9 177.8L370.4 177.8L370.9 177.8L371.4 177.8L371.9 177.8L372.4 177.8L372.9 177.8L373.4 177.8L373.9 177.8L374.4 177.8L374.9 177.8L375.4 177.8L375.9 177.8L376.4 177.8L376.9 177.8L377.4 177.8L377.9 177.8L378.4 177.8L378.9 177.8L379.4 177.8L379.9 177.8L380.4 177.8L380.9 177.8L381.4 177.8L381.9 177.8L382.4 177.8L382.9 177.8L383.4 177.8L383.9 177.8L384.4 177.8L384.9 177.8L385.4 177.8L385.9 177.8L386.4 177.8L386.9 177.8L387.4 177.8L387.9 177.8L388.4 177.8L388.9 177.8L389.4 177.8L389.9 177.9L390.4 177.9L390.9 177.9L391.4 177.9L391.9 177.9L392.4 177.9L392.9 177.9L393.4 177.9L393.9 177.9L394.4 177.9L394.9 177.9L395.4 177.9L395.9 177.9L396.4 177.9L396.9 177.9L397.4 177.9L397.9 177.9L398.4 177.9L398.9 177.9L399.4 177.9L399.9 177.9L400.4 177.9L400.9 177.9L401.4 177.9L401.9 177.9L402.4 177.9L402.9 177.9L403.4 177.9L403.9 177.9L404.4 177.9L404.9 177.9L405.4 177.9L405.9 177.9L406.4 177.9L406.9 177.9L407.4 177.9L407.9 177.9L408.4 177.9L408.9 177.9L409.4 177.9L409.9 177.9L410.4 177.9L410.9 177.9L411.4 177.9L411.9 177.9L412.4 177.9L412.9 177.9L413.4 177.9L413.9 177.9L414.4 177.9L414.9 177.9L415.4 177.9L415.9 177.9L416.4 177.9L416.9 177.9L417.4 177.9L417.9 178.0L418.4 178.0L418.9 178.0L419.4 178.0L419.9 178.0L420.4 178.0L420.9 178.0L421.4 178.0L421.9 178.0L422.4 178.0L422.9 178.0L423.4 178.0L423.9 178.0L424.4 178.0L424.9 178.0L425.4 178.0L425.9 178.0L426.4 178.0L426.9 178.0L427.4 178.0L427.9 178.0L428.4 178.0L428.9 178.0L429.4 178.0L429.9 178.0L430.4 178.0L430.9 178.0L431.4 178.0L431.9 178.0L432.4 178.0L432.9 178.0L433.4 178.0L433.9 178.0L434.4 178.0L434.9 178.0L435.4 178.0L435.9 178.0L436.4 178.0L436.9 178.0L437.4 178.0L437.9 178.0L438.4 178.0L438.9 178.0L439.4 178.0L439.9 178.0L440.4 178.0L440.9 178.0L441.4 178.0L441.9 178.0L442.4 178.0L442.9 178.0L443.4 178.0L443.9 178.0L444.4 178.0L444.9 178.0L445.4 178.0L445.9 178.0L446.4 178.0L446.9 178.0L447.4 178.0L447.9 178.0L448.4 178.0L448.9 178.0L449.4 178.0L449.9 178.0L450.4 178.0L450.9 178.0L451.4 178.0L451.9 178.0L452.4 178.0L452.9 178.0L453.4 178.0L453.9 178.0L454.4 178.0L454.9 178.0L455.4 178.0L455.9 178.0L456.4 177.9L456.9 177.9L457.4 177.9L457.9 177.9L458.4 177.9L458.9 177.9L459.4 177.9L459.9 177.9L460.4 177.9L460.9 177.9L461.4 177.9L461.9 177.9L462.4 177.9L462.9 177.9L463.4 177.9L463.9 177.9L464.4 177.9L464.9 177.9L465.4 177.9L465.9 177.9L466.4 177.9L466.9 177.9L467.4 177.9L467.9 177.9L468.4 177.9L468.9 177.9L469.4 177.9L469.9 177.9L470.4 177.9L470.9 177.9L471.4 177.9L471.9 177.9L472.4 177.9L472.9 177.9L473.4 177.8L473.9 177.8L474.4 177.8L474.9 177.8L475.4 177.8L475.9 177.8L476.4 177.8L476.9 177.8L477.4 177.8L477.9 177.8L478.4 177.8L478.9 177.8L479.4 177.8L479.9 177.8L480.4 177.8L480.9 177.8L481.4 177.8L481.9 177.8L482.4 177.8L482.9 177.8L483.4 177.7L483.9 177.7L484.4 177.7L484.9 177.7L485.4 177.7L485.9 177.7L486.4 177.7L486.9 177.7L487.4 177.7L487.9 177.7L488.4 177.7L488.9 177.6L489.4 177.6L489.9 177.6L490.4 177.6L490.9 177.6L491.4 177.6L491.9 177.6L492.4 177.5L492.9 177.5L493.4 177.5L493.9 177.5L494.4 177.5L494.9 177.4L495.4 177.4L495.9 177.4L496.4 177.4L496.9 177.3L497.4 177.3L497.9 177.3L498.4 177.3L498.9 177.2L499.4 177.2L499.9 177.2L500.4 177.1L500.9 177.1L501.4 177.0L501.9 177.0L502.4 176.9L502.9 176.9L503.4 176.8L503.9 176.8L504.4 176.7L504.9 176.7L505.4 176.6L505.9 176.5L506.4 176.5L506.9 176.4L507.4 176.3L507.9 176.2L508.4 176.1L508.9 176.0L509.4 175.9L509.9 175.8L510.4 175.6L510.9 175.5L511.4 175.3L511.9 175.1L512.4 174.9L512.9 174.7L513.4 174.4L513.9 174.1L514.4 173.8L514.9 173.4L515.4 172.9L515.9 172.4L516.4 171.9L516.9 171.2L517.4 170.5L517.9 169.6L518.4 168.7L518.9 167.7L519.4 166.5L519.9 165.2L520.4 163.7L520.9 162.1L521.4 160.3L521.9 158.4L522.4 156.3L522.9 154.1L523.4 151.7L523.9 149.2L524.4 146.5L524.9 143.7L525.4 140.9L525.9 137.9L526.4 135.0L526.9 132.0L527.4 129.1L527.9 126.4L528.4 123.8L528.9 121.5L529.4 119.5L529.9 118.0L530.4 116.8L530.9 116.2L531.4 116.2L531.9 116.6L532.4 117.6L532.9 119.1L533.4 121.1L533.9 123.4L534.4 125.9L534.9 128.8L535.4 131.7L535.9 134.8L536.4 137.9L536.9 141.0L537.4 144.1L537.9 147.1L538.4 149.9L538.9 152.7L539.4 155.3L539.9 157.7L540.4 160.0L540.9 162.1L541.4 164.0L541.9 165.8L542.4 167.4L542.9 168.9L543.4 170.2L543.9 171.4L544.4 172.5L544.9 173.4L545.4 174.3L545.9 175.0L546.4 175.7L546.9 176.2L547.4 176.7L547.9 177.2L548.4 177.6L548.9 177.9L549.4 178.3L549.9 178.5L550.4 178.8L550.9 179.0L551.4 179.2L551.9 179.4L552.4 179.6L552.9 179.7L553.4 179.9L553.9 180.0L554.4 180.1L554.9 180.2L555.4 180.3L555.9 180.4L556.4 180.5L556.9 180.6L557.4 180.7L557.9 180.8L558.4 180.9L558.9 180.9L559.4 181.0L559.9 181.1L560.4 181.1L560.9 181.2L561.4 181.2L561.9 181.3L562.4 181.3L562.9 181.4L563.4 181.4L563.9 181.5L564.4 181.5L564.9 181.6L565.4 181.6L565.9 181.6L566.4 181.7L566.9 181.7L567.4 181.7L567.9 181.8L568.4 181.8L568.9 181.8L569.4 181.9L569.9 181.9L570.4 181.9L570.9 181.9L571.4 182.0L571.9 182.0L572.4 182.0L572.9 182.0L573.4 182.1L573.9 182.1L574.4 182.1L574.9 182.1L575.4 182.1L575.9 182.2L576.4 182.2L576.9 182.2L577.4 182.2L577.9 182.2L578.4 182.2L578.9 182.3L579.4 182.3L579.9 182.3L580.4 182.3L580.9 182.3L581.4 182.3L581.9 182.3L582.4 182.3L582.9 182.4L583.4 182.4L583.9 182.4L584.4 182.4L584.9 182.4L585.4 182.4L585.9 182.4L586.4 182.4L586.9 182.4L587.4 182.5L587.9 182.5L588.4 182.5L588.9 182.5L589.4 182.5L589.9 182.5L590.4 182.5L590.9 182.5L591.4 182.5L591.9 182.5L592.4 182.5L592.9 182.5L593.4 182.5L593.9 182.6L594.4 182.6L594.9 182.6L595.4 182.6L595.9 182.6L596.4 182.6" stroke="#ff20ff" stroke-width="1.2" fill="none"/>
<path d="M337.4 177.8L337.9 177.8L338.4 177.8L338.9 177.8L339.4 177.8L339.9 177.8L340.4 177.8L340.9 177.8L341.4 177.8L341.9 177.8L342.4 177.8L342.9 177.8L343.4 177.8L343.9 177.8L344.4 177.8L344.9 177.8L345.4 177.8L345.9 177.8L346.4 177.8L346.9 177.8L347.4 177.8L347.9 177.8L348.4 177.8L348.9 177.8L349.4 177.8L349.9 177.8L350.4 177.8L350.9 177.8L351.4 177.8L351.9 177.8L352.4 177.8L352.9 177.8L353.4 177.8L353.9 177.8L354.4 177.8L354.9 177.8L355.4 177.8L355.9 177.8L356.4 177.8L356.9 177.8L357.4 177.8L357.9 177.8L358.4 177.8L358.9 177.8L359.4 177.8L359.9 177.8L360.4 177.8L360.9 177.8L361.4 177.8L361.9 177.8L362.4 177.8L362.9 177.8L363.4 177.8L363.9 177.8L364.4 177.8L364.9 177.8L365.4 177.8L365.9 177.8L366.4 177.8L366.9 177.8L367.4 177.8L367.9 177.8L368.4 177.8L368.9 177.8L369.4 177.8L369.9 177.8L370.4 177.8L370.9 177.8L371.4 177.8L371.9 177.8L372.4 177.8L372.9 177.8L373.4 177.8L373.9 177.8L374.4 177.8L374.9 177.8L375.4 177.9L375.9 177.9L376.4 177.9L376.9 177.9L377.4 177.9L377.9 177.9L378.4 177.9L378.9 177.9L379.4 177.9L379.9 177.9L380.4 177.9L380.9 177.9L381.4 177.9L381.9 177.9L382.4 177.9L382.9 177.9L383.4 177.9L383.9 177.9L384.4 177.9L384.9 177.9L385.4 177.9L385.9 177.9L386.4 177.9L386.9 177.9L387.4 177.9L387.9 177.9L388.4 177.9L388.9 177.9L389.4 177.9L389.9 177.9L390.4 177.9L390.9 177.9L391.4 177.9L391.9 177.9L392.4 177.9L392.9 177.9L393.4 177.9L393.9 178.0L394.4 178.0L394.9 178.0L395.4 178.0L395.9 178.0L396.4 178.0L396.9 178.0L397.4 178.0L397.9 178.0L398.4 178.0L398.9 178.0L399.4 178.0L399.9 178.0L400.4 178.0L400.9 178.0L401.4 178.0L401.9 178.0L402.4 178.0L402.9 178.0L403.4 178.0L403.9 178.0L404.4 178.0L404.9 178.0L405.4 178.0L405.9 178.0L406.4 178.0L406.9 178.0L407.4 178.0L407.9 178.0L408.4 178.0L408.9 178.0L409.4 178.0L409.9 178.0L410.4 178.0L410.9 178.0L411.4 178.0L411.9 178.0L412.4 178.1L412.9 178.1L413.4 178.1L413.9 178.1L414.4 178.1L414.9 178.1L415.4 178.1L415.9 178.1L416.4 178.1L416.9 178.1L417.4 178.1L417.9 178.1L418.4 178.1L418.9 178.1L419.4 178.1L419.9 178.1L420.4 178.1L420.9 178.1L421.4 178.1L421.9 178.1L422.4 178.1L422.9 178.1L423.4 178.1L423.9 178.1L424.4 178.1L424.9 178.1L425.4 178.1L425.9 178.1L426.4 178.1L426.9 178.1L427.4 178.1L427.9 178.1L428.4 178.1L428.9 178.1L429.4 178.1L429.9 178.1L430.4 178.1L430.9 178.1L431.4 178.1L431.9 178.1L432.4 178.1L432.9 178.1L433.4 178.1L433.9 178.1L434.4 178.1L434.9 178.1L435.4 178.1L435.9 178.1L436.4 178.1L436.9 178.1L437.4 178.1L437.9 178.1L438.4 178.1L438.9 178.1L439.4 178.1L439.9 178.2L440.4 178.2L440.9 178.2L441.4 178.2L441.9 178.2L442.4 178.2L442.9 178.2L443.4 178.2L443.9 178.2L444.4 178.2L444.9 178.2L445.4 178.2L445.9 178.2L446.4 178.2L446.9 178.2L447.4 178.2L447.9 178.2L448.4 178.2L448.9 178.2L449.4 178.2L449.9 178.2L450.4 178.2L450.9 178.2L451.4 178.2L451.9 178.2L452.4 178.2L452.9 178.2L453.4 178.2L453.9 178.2L454.4 178.2L454.9 178.2L455.4 178.2L455.9 178.2L456.4 178.2L456.9 178.2L457.4 178.2L457.9 178.2L458.4 178.2L458.9 178.2L459.4 178.2L459.9 178.2L460.4 178.2L460.9 178.2L461.4 178.2L461.9 178.2L462.4 178.2L462.9 178.2L463.4 178.3L463.9 178.3L464.4 178.3L464.9 178.3L465.4 178.3L465.9 178.3L466.4 178.3L466.9 178.3L467.4 178.3L467.9 178.3L468.4 178.3L468.9 178.3L469.4 178.3L469.9 178.3L470.4 178.3L470.9 178.3L471.4 178.3L471.9 178.3L472.4 178.2L472.9 178.2L473.4 178.2L473.9 178.2L474.4 178.2L474.9 178.2L475.4 178.2L475.9 178.2L476.4 178.2L476.9 178.2L477.4 178.2L477.9 178.1L478.4 178.1L478.9 178.1L479.4 178.1L479.9 178.0L480.4 178.0L480.9 177.9L481.4 177.9L481.9 177.9L482.4 177.8L482.9 177.7L483.4 177.7L483.9 177.6L484.4 177.5L484.9 177.4L485.4 177.3L485.9 177.2L486.4 177.1L486.9 177.0L487.4 176.9L487.9 176.7L488.4 176.6L488.9 176.4L489.4 176.3L489.9 176.1L490.4 175.9L490.9 175.7L491.4 175.4L491.9 175.2L492.4 175.0L492.9 174.7L493.4 174.4L493.9 174.1L494.4 173.8L494.9 173.5L495.4 173.2L495.9 172.8L496.4 172.5L496.9 172.1L497.4 171.7L497.9 171.3L498.4 170.9L498.9 170.5L499.4 170.0L499.9 169.6L500.4 169.1L500.9 168.7L501.4 168.2L501.9 167.8L502.4 167.3L502.9 166.8L503.4 166.3L503.9 165.9L504.4 165.4L504.9 164.9L505.4 164.5L505.9 164.0L506.4 163.6L506.9 163.1L507.4 162.7L507.9 162.3L508.4 161.9L508.9 161.5L509.4 161.2L509.9 160.8L510.4 160.5L510.9 160.2L511.4 160.0L511.9 159.7L512.4 159.5L512.9 159.3L513.4 159.2L513.9 159.0L514.4 158.9L514.9 158.9L515.4 158.8L515.9 158.8L516.4 158.9L516.9 158.9L517.4 159.0L517.9 159.2L518.4 159.3L518.9 159.5L519.4 159.7L519.9 160.0L520.4 160.3L520.9 160.6L521.4 160.9L521.9 161.3L522.4 161.6L522.9 162.0L523.4 162.5L523.9 162.9L524.4 163.4L524.9 163.8L525.4 164.3L525.9 164.8L526.4 165.3L526.9 165.9L527.4 166.4L527.9 166.9L528.4 167.5L528.9 168.0L529.4 168.6L529.9 169.1L530.4 169.7L530.9 170.3L531.4 170.8L531.9 171.4L532.4 171.9L532.9 172.5L533.4 173.0L533.9 173.5L534.4 174.0L534.9 174.5L535.4 175.0L535.9 175.5L536.4 176.0L536.9 176.4L537.4 176.9L537.9 177.3L538.4 177.7L538.9 178.0L539.4 178.4L539.9 178.7L540.4 179.1L540.9 179.4L541.4 179.7L541.9 179.9L542.4 180.2L542.9 180.4L543.4 180.6L543.9 180.8L544.4 181.0L544.9 181.1L545.4 181.3L545.9 181.4L546.4 181.6L546.9 181.7L547.4 181.8L547.9 181.9L548.4 182.0L548.9 182.1L549.4 182.2L549.9 182.2L550.4 182.3L550.9 182.3L551.4 182.4L551.9 182.5L552.4 182.5L552.9 182.5L553.4 182.6L553.9 182.6L554.4 182.6L554.9 182.7L555.4 182.7L555.9 182.7L556.4 182.7L556.9 182.7L557.4 182.8L557.9 182.8L558.4 182.8L558.9 182.8L559.4 182.8L559.9 182.8L560.4 182.8L560.9 182.8L561.4 182.8L561.9 182.9L562.4 182.9L562.9 182.9L563.4 182.9L563.9 182.9L564.4 182.9L564.9 182.9L565.4 182.9L565.9 182.9L566.4 182.9L566.9 182.9L567.4 182.9L567.9 182.9L568.4 182.9L568.9 182.9L569.4 182.9L569.9 182.9L570.4 182.9L570.9 182.9L571.4 182.9L571.9 182.9L572.4 182.9L572.9 182.9L573.4 182.9L573.9 182.9L574.4 182.9L574.9 182.9L575.4 182.9L575.9 182.9L576.4 182.9L576.9 182.9L577.4 182.9L577.9 182.9L578.4 182.9L578.9 182.9L579.4 182.9L579.9 182.9L580.4 182.9L580.9 182.9L581.4 182.9L581.9 182.9L582.4 182.9L582.9 182.9L583.4 182.9L583.9 182.9L584.4 182.9L584.9 182.9L585.4 182.9L585.9 182.9L586.4 182.9L586.9 182.9L587.4 182.9L587.9 182.9L588.4 182.9L588.9 182.9L589.4 182.9L589.9 182.9L590.4 182.9L590.9 182.9L591.4 182.9L591.9 182.9L592.4 183.0L592.9 183.0L593.4 183.0L593.9 183.0L594.4 183.0L594.9 183.0L595.4 183.0L595.9 183.0L596.4 183.0" stroke="#1a9a1a" stroke-width="1.2" fill="none"/>
<path d="M337.4 177.8L337.9 177.8L338.4 177.8L338.9 177.8L339.4 177.8L339.9 177.8L340.4 177.8L340.9 177.8L341.4 177.8L341.9 177.8L342.4 177.8L342.9 177.8L343.4 177.8L343.9 177.8L344.4 177.8L344.9 177.8L345.4 177.8L345.9 177.8L346.4 177.8L346.9 177.8L347.4 177.8L347.9 177.8L348.4 177.8L348.9 177.8L349.4 177.8L349.9 177.8L350.4 177.8L350.9 177.8L351.4 177.8L351.9 177.8L352.4 177.8L352.9 177.8L353.4 177.8L353.9 177.8L354.4 177.8L354.9 177.8L355.4 177.8L355.9 177.8L356.4 177.8L356.9 177.8L357.4 177.8L357.9 177.8L358.4 177.8L358.9 177.8L359.4 177.8L359.9 177.8L360.4 177.8L360.9 177.8L361.4 177.8L361.9 177.8L362.4 177.8L362.9 177.8L363.4 177.8L363.9 177.8L364.4 177.8L364.9 177.8L365.4 177.8L365.9 177.8L366.4 177.8L366.9 177.8L367.4 177.8L367.9 177.8L368.4 177.8L368.9 177.8L369.4 177.8L369.9 177.8L370.4 177.8L370.9 177.8L371.4 177.8L371.9 177.8L372.4 177.8L372.9 177.8L373.4 177.8L373.9 177.8L374.4 177.8L374.9 177.8L375.4 177.9L375.9 177.9L376.4 177.9L376.9 177.9L377.4 177.9L377.9 177.9L378.4 177.9L378.9 177.9L379.4 177.9L379.9 177.9L380.4 177.9L380.9 177.9L381.4 177.9L381.9 177.9L382.4 177.9L382.9 177.9L383.4 177.9L383.9 177.9L384.4 177.9L384.9 177.9L385.4 177.9L385.9 177.9L386.4 177.9L386.9 177.9L387.4 177.9L387.9 177.9L388.4 177.9L388.9 177.9L389.4 177.9L389.9 177.9L390.4 177.9L390.9 177.9L391.4 177.9L391.9 177.9L392.4 177.9L392.9 177.9L393.4 177.9L393.9 178.0L394.4 178.0L394.9 178.0L395.4 178.0L395.9 178.0L396.4 178.0L396.9 178.0L397.4 178.0L397.9 178.0L398.4 178.0L398.9 178.0L399.4 178.0L399.9 178.0L400.4 178.0L400.9 178.0L401.4 178.0L401.9 178.0L402.4 178.0L402.9 178.0L403.4 178.0L403.9 178.0L404.4 178.0L404.9 178.0L405.4 178.0L405.9 178.0L406.4 178.0L406.9 178.0L407.4 178.0L407.9 178.0L408.4 178.0L408.9 178.0L409.4 178.0L409.9 178.0L410.4 178.0L410.9 178.0L411.4 178.0L411.9 178.0L412.4 178.1L412.9 178.1L413.4 178.1L413.9 178.1L414.4 178.1L414.9 178.1L415.4 178.1L415.9 178.1L416.4 178.1L416.9 178.1L417.4 178.1L417.9 178.1L418.4 178.1L418.9 178.1L419.4 178.1L419.9 178.1L420.4 178.1L420.9 178.1L421.4 178.1L421.9 178.1L422.4 178.1L422.9 178.1L423.4 178.1L423.9 178.1L424.4 178.1L424.9 178.1L425.4 178.1L425.9 178.1L426.4 178.1L426.9 178.1L427.4 178.1L427.9 178.1L428.4 178.1L428.9 178.1L429.4 178.1L429.9 178.1L430.4 178.1L430.9 178.1L431.4 178.1L431.9 178.1L432.4 178.1L432.9 178.1L433.4 178.1L433.9 178.1L434.4 178.1L434.9 178.1L435.4 178.1L435.9 178.1L436.4 178.1L436.9 178.1L437.4 178.1L437.9 178.1L438.4 178.1L438.9 178.1L439.4 178.1L439.9 178.2L440.4 178.2L440.9 178.2L441.4 178.2L441.9 178.2L442.4 178.2L442.9 178.2L443.4 178.2L443.9 178.2L444.4 178.2L444.9 178.2L445.4 178.2L445.9 178.2L446.4 178.2L446.9 178.2L447.4 178.2L447.9 178.2L448.4 178.2L448.9 178.2L449.4 178.2L449.9 178.2L450.4 178.1L450.9 178.1L451.4 178.1L451.9 178.1L452.4 178.1L452.9 178.1L453.4 178.1L453.9 178.1L454.4 178.1L454.9 178.0L455.4 178.0L455.9 178.0L456.4 178.0L456.9 177.9L457.4 177.9L457.9 177.9L458.4 177.8L458.9 177.8L459.4 177.7L459.9 177.7L460.4 177.6L460.9 177.5L461.4 177.5L461.9 177.4L462.4 177.3L462.9 177.2L463.4 177.1L463.9 177.0L464.4 176.9L464.9 176.8L465.4 176.7L465.9 176.5L466.4 176.4L466.9 176.2L467.4 176.1L467.9 175.9L468.4 175.8L468.9 175.6L469.4 175.4L469.9 175.2L470.4 175.0L470.9 174.8L471.4 174.6L471.9 174.4L472.4 174.2L472.9 174.0L473.4 173.8L473.9 173.6L474.4 173.4L474.9 173.2L475.4 173.0L475.9 172.8L476.4 172.6L476.9 172.4L477.4 172.2L477.9 172.0L478.4 171.9L478.9 171.7L479.4 171.6L479.9 171.4L480.4 171.3L480.9 171.2L481.4 171.1L481.9 171.0L482.4 171.0L482.9 170.9L483.4 170.9L483.9 170.9L484.4 170.9L484.9 170.9L485.4 170.9L485.9 170.9L486.4 171.0L486.9 171.1L487.4 171.2L487.9 171.3L488.4 171.4L488.9 171.5L489.4 171.7L489.9 171.9L490.4 172.0L490.9 172.2L491.4 172.4L491.9 172.6L492.4 172.8L492.9 173.0L493.4 173.2L493.9 173.4L494.4 173.6L494.9 173.9L495.4 174.1L495.9 174.3L496.4 174.5L496.9 174.7L497.4 175.0L497.9 175.2L498.4 175.4L498.9 175.6L499.4 175.8L499.9 176.0L500.4 176.2L500.9 176.3L501.4 176.5L501.9 176.7L502.4 176.8L502.9 177.0L503.4 177.1L503.9 177.3L504.4 177.4L504.9 177.5L505.4 177.7L505.9 177.8L506.4 177.9L506.9 178.0L507.4 178.1L507.9 178.2L508.4 178.2L508.9 178.3L509.4 178.4L509.9 178.5L510.4 178.5L510.9 178.6L511.4 178.6L511.9 178.7L512.4 178.7L512.9 178.8L513.4 178.8L513.9 178.9L514.4 178.9L514.9 179.0L515.4 179.0L515.9 179.0L516.4 179.1L516.9 179.1L517.4 179.1L517.9 179.2L518.4 179.2L518.9 179.2L519.4 179.2L519.9 179.3L520.4 179.3L520.9 179.3L521.4 179.4L521.9 179.4L522.4 179.4L522.9 179.5L523.4 179.5L523.9 179.5L524.4 179.6L524.9 179.6L525.4 179.7L525.9 179.7L526.4 179.8L526.9 179.8L527.4 179.9L527.9 179.9L528.4 180.0L528.9 180.1L529.4 180.1L529.9 180.2L530.4 180.3L530.9 180.4L531.4 180.4L531.9 180.5L532.4 180.6L532.9 180.7L533.4 180.8L533.9 180.9L534.4 181.0L534.9 181.1L535.4 181.3L535.9 181.4L536.4 181.5L536.9 181.6L537.4 181.7L537.9 181.8L538.4 181.9L538.9 182.0L539.4 182.1L539.9 182.1L540.4 182.2L540.9 182.3L541.4 182.3L541.9 182.4L542.4 182.4L542.9 182.5L543.4 182.5L543.9 182.6L544.4 182.6L544.9 182.6L545.4 182.7L545.9 182.7L546.4 182.7L546.9 182.7L547.4 182.7L547.9 182.7L548.4 182.8L548.9 182.8L549.4 182.8L549.9 182.8L550.4 182.8L550.9 182.8L551.4 182.8L551.9 182.8L552.4 182.8L552.9 182.8L553.4 182.8L553.9 182.8L554.4 182.8L554.9 182.8L555.4 182.8L555.9 182.8L556.4 182.9L556.9 182.9L557.4 182.9L557.9 182.9L558.4 182.9L558.9 182.9L559.4 182.9L559.9 182.9L560.4 182.9L560.9 182.9L561.4 182.9L561.9 182.9L562.4 182.9L562.9 182.9L563.4 182.9L563.9 182.9L564.4 182.9L564.9 182.9L565.4 182.9L565.9 182.9L566.4 182.9L566.9 182.9L567.4 182.9L567.9 182.9L568.4 182.9L568.9 182.9L569.4 182.9L569.9 182.9L570.4 182.9L570.9 182.9L571.4 182.9L571.9 182.9L572.4 182.9L572.9 182.9L573.4 182.9L573.9 182.9L574.4 182.9L574.9 182.9L575.4 182.9L575.9 182.9L576.4 182.9L576.9 182.9L577.4 182.9L577.9 182.9L578.4 182.9L578.9 182.9L579.4 182.9L579.9 182.9L580.4 182.9L580.9 182.9L581.4 182.9L581.9 182.9L582.4 182.9L582.9 182.9L583.4 182.9L583.9 182.9L584.4 182.9L584.9 182.9L585.4 182.9L585.9 182.9L586.4 182.9L586.9 182.9L587.4 182.9L587.9 182.9L588.4 182.9L588.9 182.9L589.4 182.9L589.9 182.9L590.4 182.9L590.9 182.9L591.4 182.9L591.9 182.9L592.4 183.0L592.9 183.0L593.4 183.0L593.9 183.0L594.4 183.0L594.9 183.0L595.4 183.0L595.9 183.0L596.4 183.0" stroke="#3030d8" stroke-width="1.2" fill="none"/>
<path d="M337.4 177.7L337.9 177.7L338.4 177.7L338.9 177.7L339.4 177.7L339.9 177.7L340.4 177.7L340.9 177.7L341.4 177.7L341.9 177.7L342.4 177.7L342.9 177.7L343.4 177.7L343.9 177.7L344.4 177.7L344.9 177.7L345.4 177.8L345.9 177.8L346.4 177.8L346.9 177.8L347.4 177.8L347.9 177.8L348.4 177.8L348.9 177.8L349.4 177.8L349.9 177.8L350.4 177.8L350.9 177.8L351.4 177.8L351.9 177.8L352.4 177.8L352.9 177.8L353.4 177.8L353.9 177.8L354.4 177.8L354.9 177.8L355.4 177.8L355.9 177.8L356.4 177.8L356.9 177.8L357.4 177.8L357.9 177.8L358.4 177.8L358.9 177.8L359.4 177.8L359.9 177.8L360.4 177.8L360.9 177.8L361.4 177.8L361.9 177.8L362.4 177.8L362.9 177.8L363.4 177.8L363.9 177.8L364.4 177.8L364.9 177.8L365.4 177.8L365.9 177.8L366.4 177.8L366.9 177.8L367.4 177.8L367.9 177.8L368.4 177.8L368.9 177.8L369.4 177.8L369.9 177.8L370.4 177.8L370.9 177.8L371.4 177.8L371.9 177.8L372.4 177.8L372.9 177.8L373.4 177.8L373.9 177.8L374.4 177.8L374.9 177.8L375.4 177.8L375.9 177.8L376.4 177.8L376.9 177.8L377.4 177.8L377.9 177.8L378.4 177.8L378.9 177.8L379.4 177.8L379.9 177.8L380.4 177.8L380.9 177.8L381.4 177.8L381.9 177.9L382.4 177.9L382.9 177.9L383.4 177.9L383.9 177.9L384.4 177.9L384.9 177.9L385.4 177.9L385.9 177.9L386.4 177.9L386.9 177.9L387.4 177.9L387.9 177.9L388.4 177.9L388.9 177.9L389.4 177.9L389.9 177.9L390.4 177.9L390.9 177.9L391.4 177.9L391.9 177.9L392.4 177.9L392.9 177.9L393.4 177.9L393.9 177.9L394.4 177.9L394.9 177.9L395.4 177.9L395.9 177.9L396.4 177.9L396.9 177.9L397.4 177.9L397.9 177.9L398.4 177.9L398.9 177.9L399.4 177.9L399.9 177.9L400.4 177.9L400.9 177.9L401.4 177.9L401.9 177.9L402.4 177.9L402.9 177.9L403.4 177.9L403.9 177.9L404.4 177.9L404.9 177.9L405.4 177.9L405.9 177.9L406.4 177.9L406.9 177.9L407.4 177.9L407.9 177.9L408.4 177.9L408.9 177.9L409.4 177.9L409.9 177.9L410.4 177.9L410.9 177.9L411.4 177.9L411.9 177.9L412.4 177.9L412.9 177.9L413.4 177.9L413.9 177.9L414.4 177.9L414.9 177.9L415.4 177.9L415.9 177.9L416.4 177.9L416.9 177.9L417.4 177.9L417.9 177.9L418.4 177.9L418.9 177.8L419.4 177.8L419.9 177.8L420.4 177.8L420.9 177.8L421.4 177.8L421.9 177.8L422.4 177.7L422.9 177.7L423.4 177.7L423.9 177.7L424.4 177.7L424.9 177.6L425.4 177.6L425.9 177.6L426.4 177.6L426.9 177.5L427.4 177.5L427.9 177.4L428.4 177.4L428.9 177.4L429.4 177.3L429.9 177.3L430.4 177.2L430.9 177.2L431.4 177.2L431.9 177.1L432.4 177.1L432.9 177.0L433.4 176.9L433.9 176.9L434.4 176.8L434.9 176.8L435.4 176.7L435.9 176.7L436.4 176.6L436.9 176.5L437.4 176.5L437.9 176.4L438.4 176.4L438.9 176.3L439.4 176.3L439.9 176.2L440.4 176.1L440.9 176.1L441.4 176.0L441.9 176.0L442.4 175.9L442.9 175.9L443.4 175.8L443.9 175.8L444.4 175.8L444.9 175.7L445.4 175.7L445.9 175.7L446.4 175.7L446.9 175.7L447.4 175.6L447.9 175.6L448.4 175.6L448.9 175.6L449.4 175.7L449.9 175.7L450.4 175.7L450.9 175.7L451.4 175.7L451.9 175.8L452.4 175.8L452.9 175.9L453.4 175.9L453.9 176.0L454.4 176.0L454.9 176.1L455.4 176.1L455.9 176.2L456.4 176.2L456.9 176.3L457.4 176.4L457.9 176.4L458.4 176.5L458.9 176.5L459.4 176.6L459.9 176.7L460.4 176.7L460.9 176.8L461.4 176.9L461.9 176.9L462.4 177.0L462.9 177.0L463.4 177.1L463.9 177.2L464.4 177.2L464.9 177.3L465.4 177.3L465.9 177.4L466.4 177.4L466.9 177.5L467.4 177.5L467.9 177.6L468.4 177.6L468.9 177.6L469.4 177.7L469.9 177.7L470.4 177.8L470.9 177.8L471.4 177.8L471.9 177.8L472.4 177.9L472.9 177.9L473.4 177.9L473.9 178.0L474.4 178.0L474.9 178.0L475.4 178.0L475.9 178.1L476.4 178.1L476.9 178.1L477.4 178.1L477.9 178.1L478.4 178.1L478.9 178.2L479.4 178.2L479.9 178.2L480.4 178.2L480.9 178.2L481.4 178.2L481.9 178.3L482.4 178.3L482.9 178.3L483.4 178.3L483.9 178.3L484.4 178.3L484.9 178.3L485.4 178.3L485.9 178.3L486.4 178.4L486.9 178.4L487.4 178.4L487.9 178.4L488.4 178.4L488.9 178.4L489.4 178.4L489.9 178.4L490.4 178.4L490.9 178.4L491.4 178.5L491.9 178.5L492.4 178.5L492.9 178.5L493.4 178.5L493.9 178.5L494.4 178.5L494.9 178.5L495.4 178.5L495.9 178.5L496.4 178.5L496.9 178.6L497.4 178.6L497.9 178.6L498.4 178.6L498.9 178.6L499.4 178.6L499.9 178.6L500.4 178.6L500.9 178.6L501.4 178.7L501.9 178.7L502.4 178.7L502.9 178.7L503.4 178.7L503.9 178.7L504.4 178.7L504.9 178.7L505.4 178.7L505.9 178.8L506.4 178.8L506.9 178.8L507.4 178.8L507.9 178.8L508.4 178.8L508.9 178.9L509.4 178.9L509.9 178.9L510.4 178.9L510.9 178.9L511.4 178.9L511.9 179.0L512.4 179.0L512.9 179.0L513.4 179.0L513.9 179.0L514.4 179.0L514.9 179.1L515.4 179.1L515.9 179.1L516.4 179.1L516.9 179.1L517.4 179.2L517.9 179.2L518.4 179.2L518.9 179.2L519.4 179.3L519.9 179.3L520.4 179.3L520.9 179.3L521.4 179.4L521.9 179.4L522.4 179.4L522.9 179.5L523.4 179.5L523.9 179.5L524.4 179.6L524.9 179.6L525.4 179.6L525.9 179.7L526.4 179.7L526.9 179.8L527.4 179.8L527.9 179.9L528.4 180.0L528.9 180.0L529.4 180.1L529.9 180.2L530.4 180.3L530.9 180.3L531.4 180.4L531.9 180.5L532.4 180.6L532.9 180.7L533.4 180.8L533.9 180.9L534.4 181.0L534.9 181.1L535.4 181.2L535.9 181.3L536.4 181.4L536.9 181.6L537.4 181.7L537.9 181.8L538.4 181.9L538.9 181.9L539.4 182.0L539.9 182.1L540.4 182.2L540.9 182.3L541.4 182.3L541.9 182.4L542.4 182.4L542.9 182.5L543.4 182.5L543.9 182.6L544.4 182.6L544.9 182.6L545.4 182.6L545.9 182.7L546.4 182.7L546.9 182.7L547.4 182.7L547.9 182.7L548.4 182.7L548.9 182.7L549.4 182.8L549.9 182.8L550.4 182.8L550.9 182.8L551.4 182.8L551.9 182.8L552.4 182.8L552.9 182.8L553.4 182.8L553.9 182.8L554.4 182.8L554.9 182.8L555.4 182.8L555.9 182.8L556.4 182.8L556.9 182.8L557.4 182.8L557.9 182.8L558.4 182.9L558.9 182.9L559.4 182.9L559.9 182.9L560.4 182.9L560.9 182.9L561.4 182.9L561.9 182.9L562.4 182.9L562.9 182.9L563.4 182.9L563.9 182.9L564.4 182.9L564.9 182.9L565.4 182.9L565.9 182.9L566.4 182.9L566.9 182.9L567.4 182.9L567.9 182.9L568.4 182.9L568.9 182.9L569.4 182.9L569.9 182.9L570.4 182.9L570.9 182.9L571.4 182.9L571.9 182.9L572.4 182.9L572.9 182.9L573.4 182.9L573.9 182.9L574.4 182.9L574.9 182.9L575.4 182.9L575.9 182.9L576.4 182.9L576.9 182.9L577.4 182.9L577.9 182.9L578.4 182.9L578.9 182.9L579.4 182.9L579.9 182.9L580.4 182.9L580.9 182.9L581.4 182.9L581.9 182.9L582.4 182.9L582.9 182.9L583.4 182.9L583.9 182.9L584.4 182.9L584.9 182.9L585.4 182.9L585.9 182.9L586.4 182.9L586.9 182.9L587.4 182.9L587.9 182.9L588.4 182.9L588.9 182.9L589.4 182.9L589.9 182.9L590.4 182.9L590.9 182.9L591.4 182.9L591.9 182.9L592.4 182.9L592.9 182.9L593.4 182.9L593.9 182.9L594.4 182.9L594.9 182.9L595.4 182.9L595.9 182.9L596.4 182.9" stroke="#8a30e0" stroke-width="1.2" fill="none"/>
<path d="M337.4 177.1L337.9 177.1L338.4 177.1L338.9 177.1L339.4 177.1L339.9 177.1L340.4 177.0L340.9 177.0L341.4 177.0L341.9 177.0L342.4 177.0L342.9 176.9L343.4 176.9L343.9 176.9L344.4 176.9L344.9 176.8L345.4 176.8L345.9 176.8L346.4 176.8L346.9 176.7L347.4 176.7L347.9 176.7L348.4 176.7L348.9 176.6L349.4 176.6L349.9 176.6L350.4 176.5L350.9 176.5L351.4 176.5L351.9 176.4L352.4 176.4L352.9 176.4L353.4 176.3L353.9 176.3L354.4 176.3L354.9 176.2L355.4 176.2L355.9 176.2L356.4 176.1L356.9 176.1L357.4 176.0L357.9 176.0L358.4 176.0L358.9 175.9L359.4 175.9L359.9 175.9L360.4 175.8L360.9 175.8L361.4 175.7L361.9 175.7L362.4 175.6L362.9 175.6L363.4 175.6L363.9 175.5L364.4 175.5L364.9 175.4L365.4 175.4L365.9 175.3L366.4 175.3L366.9 175.3L367.4 175.2L367.9 175.2L368.4 175.1L368.9 175.1L369.4 175.0L369.9 175.0L370.4 174.9L370.9 174.9L371.4 174.9L371.9 174.8L372.4 174.8L372.9 174.7L373.4 174.7L373.9 174.7L374.4 174.6L374.9 174.6L375.4 174.5L375.9 174.5L376.4 174.5L376.9 174.4L377.4 174.4L377.9 174.3L378.4 174.3L378.9 174.3L379.4 174.2L379.9 174.2L380.4 174.2L380.9 174.1L381.4 174.1L381.9 174.1L382.4 174.1L382.9 174.0L383.4 174.0L383.9 174.0L384.4 174.0L384.9 173.9L385.4 173.9L385.9 173.9L386.4 173.9L386.9 173.9L387.4 173.9L387.9 173.9L388.4 173.9L388.9 173.8L389.4 173.8L389.9 173.8L390.4 173.8L390.9 173.8L391.4 173.8L391.9 173.8L392.4 173.8L392.9 173.9L393.4 173.9L393.9 173.9L394.4 173.9L394.9 173.9L395.4 173.9L395.9 173.9L396.4 174.0L396.9 174.0L397.4 174.0L397.9 174.0L398.4 174.0L398.9 174.1L399.4 174.1L399.9 174.1L400.4 174.2L400.9 174.2L401.4 174.2L401.9 174.3L402.4 174.3L402.9 174.3L403.4 174.4L403.9 174.4L404.4 174.4L404.9 174.5L405.4 174.5L405.9 174.6L406.4 174.6L406.9 174.7L407.4 174.7L407.9 174.7L408.4 174.8L408.9 174.8L409.4 174.9L409.9 174.9L410.4 175.0L410.9 175.0L411.4 175.1L411.9 175.1L412.4 175.2L412.9 175.2L413.4 175.3L413.9 175.3L414.4 175.4L414.9 175.4L415.4 175.4L415.9 175.5L416.4 175.5L416.9 175.6L417.4 175.6L417.9 175.7L418.4 175.7L418.9 175.8L419.4 175.8L419.9 175.9L420.4 175.9L420.9 176.0L421.4 176.0L421.9 176.1L422.4 176.1L422.9 176.1L423.4 176.2L423.9 176.2L424.4 176.3L424.9 176.3L425.4 176.4L425.9 176.4L426.4 176.4L426.9 176.5L427.4 176.5L427.9 176.6L428.4 176.6L428.9 176.6L429.4 176.7L429.9 176.7L430.4 176.7L430.9 176.8L431.4 176.8L431.9 176.8L432.4 176.9L432.9 176.9L433.4 176.9L433.9 177.0L434.4 177.0L434.9 177.0L435.4 177.1L435.9 177.1L436.4 177.1L436.9 177.2L437.4 177.2L437.9 177.2L438.4 177.2L438.9 177.3L439.4 177.3L439.9 177.3L440.4 177.3L440.9 177.4L441.4 177.4L441.9 177.4L442.4 177.4L442.9 177.5L443.4 177.5L443.9 177.5L444.4 177.5L444.9 177.5L445.4 177.6L445.9 177.6L446.4 177.6L446.9 177.6L447.4 177.6L447.9 177.7L448.4 177.7L448.9 177.7L449.4 177.7L449.9 177.7L450.4 177.7L450.9 177.8L451.4 177.8L451.9 177.8L452.4 177.8L452.9 177.8L453.4 177.8L453.9 177.8L454.4 177.8L454.9 177.9L455.4 177.9L455.9 177.9L456.4 177.9L456.9 177.9L457.4 177.9L457.9 177.9L458.4 177.9L458.9 177.9L459.4 177.9L459.9 178.0L460.4 178.0L460.9 178.0L461.4 178.0L461.9 178.0L462.4 178.0L462.9 178.0L463.4 178.0L463.9 178.0L464.4 178.0L464.9 178.0L465.4 178.0L465.9 178.0L466.4 178.1L466.9 178.1L467.4 178.1L467.9 178.1L468.4 178.1L468.9 178.1L469.4 178.1L469.9 178.1L470.4 178.1L470.9 178.1L471.4 178.1L471.9 178.1L472.4 178.1L472.9 178.1L473.4 178.1L473.9 178.2L474.4 178.2L474.9 178.2L475.4 178.2L475.9 178.2L476.4 178.2L476.9 178.2L477.4 178.2L477.9 178.2L478.4 178.2L478.9 178.2L479.4 178.2L479.9 178.2L480.4 178.2L480.9 178.3L481.4 178.3L481.9 178.3L482.4 178.3L482.9 178.3L483.4 178.3L483.9 178.3L484.4 178.3L484.9 178.3L485.4 178.3L485.9 178.3L486.4 178.3L486.9 178.4L487.4 178.4L487.9 178.4L488.4 178.4L488.9 178.4L489.4 178.4L489.9 178.4L490.4 178.4L490.9 178.4L491.4 178.4L491.9 178.4L492.4 178.4L492.9 178.5L493.4 178.5L493.9 178.5L494.4 178.5L494.9 178.5L495.4 178.5L495.9 178.5L496.4 178.5L496.9 178.5L497.4 178.5L497.9 178.5L498.4 178.6L498.9 178.6L499.4 178.6L499.9 178.6L500.4 178.6L500.9 178.6L501.4 178.6L501.9 178.6L502.4 178.6L502.9 178.6L503.4 178.7L503.9 178.7L504.4 178.7L504.9 178.7L505.4 178.7L505.9 178.7L506.4 178.7L506.9 178.8L507.4 178.8L507.9 178.8L508.4 178.8L508.9 178.8L509.4 178.8L509.9 178.8L510.4 178.9L510.9 178.9L511.4 178.9L511.9 178.9L512.4 178.9L512.9 179.0L513.4 179.0L513.9 179.0L514.4 179.0L514.9 179.0L515.4 179.0L515.9 179.1L516.4 179.1L516.9 179.1L517.4 179.1L517.9 179.2L518.4 179.2L518.9 179.2L519.4 179.2L519.9 179.2L520.4 179.3L520.9 179.3L521.4 179.3L521.9 179.4L522.4 179.4L522.9 179.4L523.4 179.5L523.9 179.5L524.4 179.5L524.9 179.6L525.4 179.6L525.9 179.7L526.4 179.7L526.9 179.8L527.4 179.8L527.9 179.9L528.4 179.9L528.9 180.0L529.4 180.1L529.9 180.1L530.4 180.2L530.9 180.3L531.4 180.4L531.9 180.5L532.4 180.6L532.9 180.7L533.4 180.8L533.9 180.9L534.4 181.0L534.9 181.1L535.4 181.2L535.9 181.3L536.4 181.4L536.9 181.5L537.4 181.6L537.9 181.7L538.4 181.8L538.9 181.9L539.4 182.0L539.9 182.1L540.4 182.2L540.9 182.2L541.4 182.3L541.9 182.3L542.4 182.4L542.9 182.4L543.4 182.5L543.9 182.5L544.4 182.6L544.9 182.6L545.4 182.6L545.9 182.6L546.4 182.7L546.9 182.7L547.4 182.7L547.9 182.7L548.4 182.7L548.9 182.7L549.4 182.7L549.9 182.7L550.4 182.7L550.9 182.8L551.4 182.8L551.9 182.8L552.4 182.8L552.9 182.8L553.4 182.8L553.9 182.8L554.4 182.8L554.9 182.8L555.4 182.8L555.9 182.8L556.4 182.8L556.9 182.8L557.4 182.8L557.9 182.8L558.4 182.8L558.9 182.8L559.4 182.8L559.9 182.8L560.4 182.8L560.9 182.8L561.4 182.8L561.9 182.8L562.4 182.8L562.9 182.8L563.4 182.9L563.9 182.9L564.4 182.9L564.9 182.9L565.4 182.9L565.9 182.9L566.4 182.9L566.9 182.9L567.4 182.9L567.9 182.9L568.4 182.9L568.9 182.9L569.4 182.9L569.9 182.9L570.4 182.9L570.9 182.9L571.4 182.9L571.9 182.9L572.4 182.9L572.9 182.9L573.4 182.9L573.9 182.9L574.4 182.9L574.9 182.9L575.4 182.9L575.9 182.9L576.4 182.9L576.9 182.9L577.4 182.9L577.9 182.9L578.4 182.9L578.9 182.9L579.4 182.9L579.9 182.9L580.4 182.9L580.9 182.9L581.4 182.9L581.9 182.9L582.4 182.9L582.9 182.9L583.4 182.9L583.9 182.9L584.4 182.9L584.9 182.9L585.4 182.9L585.9 182.9L586.4 182.9L586.9 182.9L587.4 182.9L587.9 182.9L588.4 182.9L588.9 182.9L589.4 182.9L589.9 182.9L590.4 182.9L590.9 182.9L591.4 182.9L591.9 182.9L592.4 182.9L592.9 182.9L593.4 182.9L593.9 182.9L594.4 182.9L594.9 182.9L595.4 182.9L595.9 182.9L596.4 182.9" stroke="#d030e0" stroke-width="1.2" fill="none"/>
<path d="M337.4 177.8L337.9 177.8L338.4 177.8L338.9 177.8L339.4 177.8L339.9 177.8L340.4 177.8L340.9 177.8L341.4 177.8L341.9 177.8L342.4 177.8L342.9 177.8L343.4 177.8L343.9 177.8L344.4 177.8L344.9 177.8L345.4 177.8L345.9 177.8L346.4 177.8L346.9 177.8L347.4 177.8L347.9 177.8L348.4 177.8L348.9 177.8L349.4 177.8L349.9 177.8L350.4 177.8L350.9 177.8L351.4 177.8L351.9 177.8L352.4 177.8L352.9 177.8L353.4 177.8L353.9 177.8L354.4 177.8L354.9 177.8L355.4 177.8L355.9 177.8L356.4 177.8L356.9 177.8L357.4 177.8L357.9 177.8L358.4 177.8L358.9 177.8L359.4 177.8L359.9 177.8L360.4 177.8L360.9 177.8L361.4 177.8L361.9 177.8L362.4 177.8L362.9 177.8L363.4 177.8L363.9 177.8L364.4 177.8L364.9 177.8L365.4 177.8L365.9 177.8L366.4 177.8L366.9 177.8L367.4 177.8L367.9 177.8L368.4 177.8L368.9 177.8L369.4 177.8L369.9 177.8L370.4 177.8L370.9 177.8L371.4 177.8L371.9 177.8L372.4 177.8L372.9 177.8L373.4 177.8L373.9 177.8L374.4 177.8L374.9 177.8L375.4 177.9L375.9 177.9L376.4 177.9L376.9 177.9L377.4 177.9L377.9 177.9L378.4 177.9L378.9 177.9L379.4 177.9L379.9 177.9L380.4 177.9L380.9 177.9L381.4 177.9L381.9 177.9L382.4 177.9L382.9 177.9L383.4 177.9L383.9 177.9L384.4 177.9L384.9 177.9L385.4 177.9L385.9 177.9L386.4 177.9L386.9 177.9L387.4 177.9L387.9 177.9L388.4 177.9L388.9 177.9L389.4 177.9L389.9 177.9L390.4 177.9L390.9 177.9L391.4 177.9L391.9 177.9L392.4 177.9L392.9 177.9L393.4 177.9L393.9 178.0L394.4 178.0L394.9 178.0L395.4 178.0L395.9 178.0L396.4 178.0L396.9 178.0L397.4 178.0L397.9 178.0L398.4 178.0L398.9 178.0L399.4 178.0L399.9 178.0L400.4 178.0L400.9 178.0L401.4 178.0L401.9 178.0L402.4 178.0L402.9 178.0L403.4 178.0L403.9 178.0L404.4 178.0L404.9 178.0L405.4 178.0L405.9 178.0L406.4 178.0L406.9 178.0L407.4 178.0L407.9 178.0L408.4 178.0L408.9 178.0L409.4 178.0L409.9 178.0L410.4 178.0L410.9 178.0L411.4 178.0L411.9 178.0L412.4 178.1L412.9 178.1L413.4 178.1L413.9 178.1L414.4 178.1L414.9 178.1L415.4 178.1L415.9 178.1L416.4 178.1L416.9 178.1L417.4 178.1L417.9 178.1L418.4 178.1L418.9 178.1L419.4 178.1L419.9 178.1L420.4 178.1L420.9 178.1L421.4 178.1L421.9 178.1L422.4 178.1L422.9 178.1L423.4 178.1L423.9 178.1L424.4 178.1L424.9 178.1L425.4 178.1L425.9 178.1L426.4 178.1L426.9 178.1L427.4 178.1L427.9 178.1L428.4 178.1L428.9 178.1L429.4 178.1L429.9 178.1L430.4 178.1L430.9 178.1L431.4 178.1L431.9 178.1L432.4 178.1L432.9 178.1L433.4 178.1L433.9 178.1L434.4 178.1L434.9 178.1L435.4 178.1L435.9 178.1L436.4 178.1L436.9 178.1L437.4 178.1L437.9 178.1L438.4 178.1L438.9 178.1L439.4 178.1L439.9 178.2L440.4 178.2L440.9 178.2L441.4 178.2L441.9 178.2L442.4 178.2L442.9 178.2L443.4 178.2L443.9 178.2L444.4 178.2L444.9 178.2L445.4 178.2L445.9 178.2L446.4 178.2L446.9 178.2L447.4 178.2L447.9 178.2L448.4 178.2L448.9 178.2L449.4 178.2L449.9 178.2L450.4 178.2L450.9 178.2L451.4 178.2L451.9 178.2L452.4 178.2L452.9 178.2L453.4 178.2L453.9 178.2L454.4 178.2L454.9 178.2L455.4 178.2L455.9 178.2L456.4 178.2L456.9 178.2L457.4 178.2L457.9 178.2L458.4 178.2L458.9 178.2L459.4 178.2L459.9 178.2L460.4 178.2L460.9 178.2L461.4 178.2L461.9 178.2L462.4 178.3L462.9 178.3L463.4 178.3L463.9 178.3L464.4 178.3L464.9 178.3L465.4 178.3L465.9 178.3L466.4 178.3L466.9 178.3L467.4 178.3L467.9 178.3L468.4 178.3L468.9 178.3L469.4 178.3L469.9 178.3L470.4 178.3L470.9 178.3L471.4 178.3L471.9 178.3L472.4 178.3L472.9 178.3L473.4 178.3L473.9 178.3L474.4 178.3L474.9 178.3L475.4 178.3L475.9 178.3L476.4 178.3L476.9 178.3L477.4 178.3L477.9 178.4L478.4 178.4L478.9 178.4L479.4 178.4L479.9 178.4L480.4 178.4L480.9 178.4L481.4 178.4L481.9 178.4L482.4 178.4L482.9 178.4L483.4 178.4L483.9 178.4L484.4 178.4L484.9 178.4L485.4 178.4L485.9 178.5L486.4 178.5L486.9 178.5L487.4 178.5L487.9 178.5L488.4 178.5L488.9 178.5L489.4 178.5L489.9 178.5L490.4 178.5L490.9 178.5L491.4 178.5L491.9 178.5L492.4 178.5L492.9 178.6L493.4 178.6L493.9 178.6L494.4 178.6L494.9 178.6L495.4 178.6L495.9 178.6L496.4 178.6L496.9 178.6L497.4 178.6L497.9 178.6L498.4 178.6L498.9 178.7L499.4 178.7L499.9 178.7L500.4 178.7L500.9 178.7L501.4 178.7L501.9 178.7L502.4 178.7L502.9 178.7L503.4 178.7L503.9 178.8L504.4 178.8L504.9 178.8L505.4 178.8L505.9 178.8L506.4 178.8L506.9 178.8L507.4 178.8L507.9 178.9L508.4 178.9L508.9 178.9L509.4 178.9L509.9 178.9L510.4 178.9L510.9 179.0L511.4 179.0L511.9 179.0L512.4 179.0L512.9 179.0L513.4 179.0L513.9 179.1L514.4 179.1L514.9 179.1L515.4 179.1L515.9 179.1L516.4 179.2L516.9 179.2L517.4 179.2L517.9 179.2L518.4 179.2L518.9 179.3L519.4 179.3L519.9 179.3L520.4 179.3L520.9 179.4L521.4 179.4L521.9 179.4L522.4 179.5L522.9 179.5L523.4 179.5L523.9 179.6L524.4 179.6L524.9 179.6L525.4 179.7L525.9 179.7L526.4 179.8L526.9 179.8L527.4 179.9L527.9 179.9L528.4 180.0L528.9 180.1L529.4 180.1L529.9 180.2L530.4 180.3L530.9 180.4L531.4 180.4L531.9 180.5L532.4 180.6L532.9 180.7L533.4 180.8L533.9 180.9L534.4 181.0L534.9 181.1L535.4 181.3L535.9 181.4L536.4 181.5L536.9 181.6L537.4 181.7L537.9 181.8L538.4 181.9L538.9 182.0L539.4 182.1L539.9 182.1L540.4 182.2L540.9 182.3L541.4 182.3L541.9 182.4L542.4 182.4L542.9 182.5L543.4 182.5L543.9 182.6L544.4 182.6L544.9 182.6L545.4 182.7L545.9 182.7L546.4 182.7L546.9 182.7L547.4 182.7L547.9 182.7L548.4 182.8L548.9 182.8L549.4 182.8L549.9 182.8L550.4 182.8L550.9 182.8L551.4 182.8L551.9 182.8L552.4 182.8L552.9 182.8L553.4 182.8L553.9 182.8L554.4 182.8L554.9 182.8L555.4 182.8L555.9 182.8L556.4 182.9L556.9 182.9L557.4 182.9L557.9 182.9L558.4 182.9L558.9 182.9L559.4 182.9L559.9 182.9L560.4 182.9L560.9 182.9L561.4 182.9L561.9 182.9L562.4 182.9L562.9 182.9L563.4 182.9L563.9 182.9L564.4 182.9L564.9 182.9L565.4 182.9L565.9 182.9L566.4 182.9L566.9 182.9L567.4 182.9L567.9 182.9L568.4 182.9L568.9 182.9L569.4 182.9L569.9 182.9L570.4 182.9L570.9 182.9L571.4 182.9L571.9 182.9L572.4 182.9L572.9 182.9L573.4 182.9L573.9 182.9L574.4 182.9L574.9 182.9L575.4 182.9L575.9 182.9L576.4 182.9L576.9 182.9L577.4 182.9L577.9 182.9L578.4 182.9L578.9 182.9L579.4 182.9L579.9 182.9L580.4 182.9L580.9 182.9L581.4 182.9L581.9 182.9L582.4 182.9L582.9 182.9L583.4 182.9L583.9 182.9L584.4 182.9L584.9 182.9L585.4 182.9L585.9 182.9L586.4 182.9L586.9 182.9L587.4 182.9L587.9 182.9L588.4 182.9L588.9 182.9L589.4 182.9L589.9 182.9L590.4 182.9L590.9 182.9L591.4 182.9L591.9 182.9L592.4 183.0L592.9 183.0L593.4 183.0L593.9 183.0L594.4 183.0L594.9 183.0L595.4 183.0L595.9 183.0L596.4 183.0" stroke="#8418cc" stroke-width="1.25" fill="none"/>
<text x="550.07" y="70.00" font-size="11.20" textLength="25.31" lengthAdjust="spacingAndGlyphs" fill="#111">C=C</text>
<text x="554.07" y="110.60" font-size="11.20" textLength="22.00" lengthAdjust="spacingAndGlyphs" fill="#111">C-C</text>
<text x="481.26" y="135.70" font-size="11.20" textLength="31.95" lengthAdjust="spacingAndGlyphs" fill="#111">C-OH</text>
<text x="457.07" y="152.10" font-size="11.20" textLength="35.60" lengthAdjust="spacingAndGlyphs" fill="#111">C-O-C</text>
<text x="427.37" y="161.20" font-size="11.20" textLength="25.82" lengthAdjust="spacingAndGlyphs" fill="#111">C=O</text>
<text x="374.32" y="160.70" font-size="11.20" textLength="39.37" lengthAdjust="spacingAndGlyphs" fill="#111">O-C=O</text>
<path d="M537.20 76.20L545.61 69.48" stroke="#111" stroke-width="1.05" fill="none"/>
<path d="M549.60 66.30L546.28 71.12L544.16 68.47Z" fill="#111"/>
<path d="M533.90 121.90L548.60 111.03" stroke="#111" stroke-width="1.05" fill="none"/>
<path d="M552.70 108.00L549.21 112.70L547.19 109.96Z" fill="#111"/>
<path d="M517.10 158.20L512.04 142.16" stroke="#111" stroke-width="1.05" fill="none"/>
<path d="M510.50 137.30L513.81 142.13L510.57 143.15Z" fill="#111"/>
<path d="M486.80 170.90L483.88 158.66" stroke="#111" stroke-width="1.05" fill="none"/>
<path d="M482.70 153.70L485.65 158.75L482.34 159.54Z" fill="#111"/>
<path d="M454.80 175.00L451.39 169.20" stroke="#111" stroke-width="1.05" fill="none"/>
<path d="M448.80 164.80L453.10 168.76L450.17 170.49Z" fill="#111"/>
<path d="M393.40 172.90L393.40 168.30" stroke="#111" stroke-width="1.05" fill="none"/>
<path d="M393.40 163.20L395.10 168.80L391.70 168.80Z" fill="#111"/>
<rect x="20.20" y="257.70" width="271.05" height="196.60" fill="none" stroke="#000" stroke-width="1.65"/>
<path d="M44.84 454.30V449.70M94.12 454.30V449.70M143.40 454.30V449.70M192.69 454.30V449.70M241.97 454.30V449.70M291.25 454.30V449.70M20.20 454.30V451.60M69.48 454.30V451.60M118.76 454.30V451.60M168.05 454.30V451.60M217.33 454.30V451.60M266.61 454.30V451.60" stroke="#000" stroke-width="1.6" fill="none"/>
<text x="44.84" y="468.40" font-size="12.10" text-anchor="middle" fill="#111" >292</text>
<text x="94.12" y="468.40" font-size="12.10" text-anchor="middle" fill="#111" >290</text>
<text x="143.40" y="468.40" font-size="12.10" text-anchor="middle" fill="#111" >288</text>
<text x="192.69" y="468.40" font-size="12.10" text-anchor="middle" fill="#111" >286</text>
<text x="241.97" y="468.40" font-size="12.10" text-anchor="middle" fill="#111" >284</text>
<text x="291.25" y="468.40" font-size="12.10" text-anchor="middle" fill="#111" >282</text>
<text x="131.53" y="482.70" font-size="12.20" textLength="49.28" lengthAdjust="spacingAndGlyphs" fill="#111">B.E.(eV)</text>
<text x="33.64" y="284.30" font-size="20.00" textLength="12.20" lengthAdjust="spacingAndGlyphs" font-weight="bold" fill="#111">c</text>
<text transform="translate(10.50 379.00) rotate(-90)" font-size="11.9" textLength="24.40" lengthAdjust="spacingAndGlyphs" fill="#111">CPS</text>
<path d="M7.65 354.70V344.10" stroke="#111" stroke-width="1.0"/>
<path d="M7.65 342.10L5.55 345.10L9.75 345.10Z" fill="#111"/>
<path d="M21.0 417.5L21.5 417.4L22.0 417.0L22.5 416.9L23.0 416.8L23.5 416.3L24.0 416.0L24.5 416.3L25.0 416.9L25.5 417.3L26.0 417.3L26.5 416.9L27.0 416.2L27.5 416.0L28.0 416.6L28.5 417.0L29.0 417.2L29.5 417.4L30.0 416.9L30.5 416.2L31.0 415.9L31.5 416.5L32.0 416.6L32.5 416.4L33.0 416.4L33.5 416.1L34.0 416.5L34.5 417.3L35.0 417.3L35.5 417.1L36.0 417.0L36.5 416.8L37.0 417.0L37.5 417.2L38.0 416.8L38.5 416.4L39.0 416.2L39.5 415.5L40.0 414.7L40.5 415.2L41.0 416.5L41.5 416.8L42.0 416.1L42.5 415.9L43.0 415.9L43.5 415.9L44.0 416.1L44.5 415.6L45.0 414.7L45.5 414.8L46.0 415.7L46.5 416.2L47.0 416.0L47.5 415.5L48.0 415.5L48.5 415.6L49.0 415.9L49.5 416.6L50.0 416.8L50.5 416.2L51.0 415.5L51.5 415.7L52.0 416.0L52.5 415.7L53.0 415.5L53.5 415.2L54.0 414.9L54.5 415.2L55.0 415.4L55.5 414.9L56.0 414.9L56.5 414.9L57.0 414.5L57.5 414.2L58.0 414.0L58.5 414.0L59.0 413.9L59.5 414.0L60.0 414.2L60.5 414.4L61.0 414.0L61.5 413.9L62.0 414.6L62.5 414.5L63.0 413.9L63.5 414.0L64.0 414.2L64.5 414.0L65.0 413.9L65.5 414.1L66.0 414.2L66.5 414.1L67.0 414.3L67.5 414.3L68.0 414.4L68.5 414.5L69.0 414.1L69.5 413.7L70.0 413.9L70.5 414.1L71.0 414.0L71.5 414.4L72.0 414.8L72.5 414.5L73.0 414.0L73.5 414.1L74.0 414.2L74.5 413.9L75.0 413.3L75.5 413.3L76.0 413.8L76.5 413.8L77.0 413.2L77.5 413.3L78.0 413.9L78.5 413.9L79.0 413.3L79.5 413.4L80.0 413.7L80.5 413.4L81.0 413.2L81.5 413.0L82.0 413.0L82.5 413.3L83.0 413.3L83.5 413.0L84.0 413.4L84.5 413.8L85.0 413.8L85.5 413.6L86.0 413.5L86.5 413.6L87.0 413.6L87.5 413.7L88.0 413.3L88.5 412.8L89.0 412.7L89.5 412.8L90.0 412.8L90.5 412.8L91.0 413.0L91.5 413.4L92.0 413.4L92.5 413.3L93.0 413.2L93.5 412.7L94.0 412.3L94.5 412.5L95.0 412.7L95.5 412.3L96.0 412.4L96.5 413.3L97.0 413.7L97.5 413.2L98.0 412.5L98.5 412.6L99.0 412.9L99.5 412.5L100.0 412.0L100.5 411.9L101.0 411.7L101.5 412.1L102.0 413.0L102.5 412.7L103.0 411.7L103.5 411.7L104.0 412.1L104.5 412.2L105.0 412.1L105.5 412.0L106.0 411.9L106.5 411.9L107.0 411.4L107.5 411.0L108.0 411.1L108.5 411.4L109.0 411.6L109.5 411.7L110.0 411.8L110.5 411.7L111.0 411.6L111.5 412.2L112.0 412.4L112.5 411.9L113.0 411.8L113.5 411.9L114.0 411.8L114.5 411.5L115.0 411.2L115.5 410.9L116.0 410.9L116.5 411.4L117.0 411.5L117.5 411.0L118.0 411.0L118.5 411.1L119.0 410.9L119.5 410.8L120.0 410.6L120.5 410.5L121.0 410.8L121.5 411.3L122.0 411.8L122.5 411.7L123.0 411.2L123.5 411.3L124.0 411.9L124.5 411.9L125.0 411.5L125.5 411.0L126.0 410.7L126.5 410.9L127.0 411.1L127.5 411.3L128.0 411.5L128.5 411.1L129.0 411.2L129.5 411.6L130.0 412.0L130.5 411.9L131.0 411.3L131.5 411.2L132.0 411.6L132.5 411.8L133.0 411.6L133.5 411.7L134.0 412.0L134.5 411.7L135.0 411.9L135.5 412.7L136.0 413.1L136.5 412.6L137.0 412.0L137.5 411.8L138.0 411.8L138.5 411.8L139.0 412.4L139.5 412.9L140.0 412.7L140.5 412.3L141.0 412.1L141.5 412.4L142.0 412.6L142.5 412.4L143.0 412.3L143.5 412.2L144.0 412.0L144.5 412.4L145.0 413.0L145.5 413.5L146.0 413.7L146.5 412.9L147.0 412.5L147.5 413.1L148.0 413.2L148.5 412.6L149.0 412.5L149.5 413.2L150.0 413.4L150.5 413.0L151.0 412.8L151.5 412.8L152.0 412.7L152.5 412.7L153.0 412.9L153.5 413.0L154.0 412.6L154.5 412.6L155.0 412.8L155.5 412.7L156.0 412.4L156.5 412.4L157.0 412.4L157.5 412.2L158.0 412.5L158.5 412.8L159.0 412.3L159.5 411.6L160.0 411.4L160.5 411.4L161.0 411.1L161.5 410.8L162.0 410.9L162.5 411.1L163.0 411.2L163.5 411.2L164.0 411.3L164.5 411.2L165.0 411.1L165.5 411.2L166.0 411.1L166.5 410.9L167.0 410.3L167.5 409.9L168.0 410.0L168.5 410.0L169.0 410.2L169.5 410.5L170.0 410.3L170.5 409.9L171.0 409.7L171.5 409.8L172.0 409.7L172.5 409.5L173.0 409.6L173.5 409.6L174.0 409.6L174.5 409.7L175.0 409.8L175.5 409.8L176.0 409.5L176.5 409.3L177.0 409.4L177.5 409.6L178.0 409.4L178.5 409.1L179.0 409.0L179.5 408.8L180.0 408.4L180.5 408.2L181.0 408.2L181.5 408.2L182.0 407.9L182.5 407.6L183.0 407.3L183.5 407.3L184.0 407.5L184.5 407.2L185.0 406.6L185.5 406.6L186.0 406.9L186.5 406.5L187.0 405.8L187.5 405.3L188.0 404.9L188.5 404.8L189.0 404.5L189.5 404.0L190.0 403.8L190.5 403.3L191.0 402.8L191.5 402.6L192.0 402.1L192.5 401.6L193.0 401.1L193.5 400.5L194.0 400.0L194.5 399.8L195.0 399.4L195.5 398.8L196.0 398.2L196.5 397.6L197.0 397.0L197.5 396.5L198.0 396.0L198.5 395.4L199.0 394.8L199.5 394.1L200.0 393.5L200.5 393.1L201.0 392.4L201.5 391.6L202.0 391.0L202.5 390.3L203.0 389.7L203.5 389.1L204.0 388.5L204.5 387.7L205.0 387.0L205.5 386.4L206.0 385.6L206.5 384.7L207.0 383.9L207.5 383.2L208.0 382.3L208.5 381.2L209.0 380.1L209.5 379.0L210.0 377.7L210.5 376.3L211.0 374.8L211.5 373.2L212.0 371.3L212.5 369.3L213.0 367.4L213.5 365.3L214.0 362.9L214.5 360.3L215.0 357.5L215.5 354.5L216.0 351.2L216.5 347.6L217.0 344.0L217.5 340.0L218.0 335.8L218.5 331.4L219.0 326.9L219.5 322.2L220.0 317.6L220.5 312.9L221.0 308.1L221.5 303.4L222.0 299.0L222.5 294.4L223.0 290.0L223.5 286.0L224.0 282.5L224.5 279.3L225.0 276.7L225.5 274.6L226.0 273.2L226.5 272.3L227.0 272.2L227.5 272.9L228.0 274.3L228.5 276.3L229.0 278.9L229.5 282.2L230.0 286.0L230.5 290.2L231.0 295.0L231.5 300.3L232.0 305.8L232.5 311.5L233.0 317.6L233.5 323.7L234.0 329.8L234.5 336.1L235.0 342.0L235.5 347.9L236.0 353.7L236.5 359.4L237.0 364.7L237.5 369.6L238.0 374.3L238.5 378.6L239.0 382.7L239.5 386.6L240.0 390.0L240.5 393.0L241.0 395.8L241.5 398.3L242.0 400.7L242.5 402.8L243.0 404.6L243.5 405.9L244.0 407.2L244.5 408.6L245.0 409.7L245.5 410.7L246.0 411.8L246.5 412.8L247.0 413.7L247.5 414.5L248.0 415.2L248.5 415.7L249.0 416.1L249.5 416.5L250.0 416.7L250.5 416.5L251.0 416.5L251.5 417.0L252.0 417.4L252.5 417.4L253.0 417.9L253.5 418.6L254.0 419.1L254.5 419.2L255.0 419.1L255.5 419.0L256.0 419.0L256.5 419.7L257.0 420.0L257.5 419.9L258.0 420.4L258.5 420.8L259.0 420.5L259.5 420.5L260.0 421.1L260.5 421.5L261.0 421.1L261.5 421.1L262.0 421.8L262.5 422.3L263.0 422.2L263.5 422.1L264.0 421.8L264.5 421.9L265.0 422.1L265.5 422.7L266.0 423.4L266.5 422.8L267.0 422.2L267.5 422.2L268.0 422.0L268.5 422.4L269.0 422.6L269.5 422.2L270.0 422.0L270.5 422.0L271.0 422.2L271.5 422.6L272.0 423.3L272.5 423.2L273.0 422.3L273.5 422.4L274.0 423.5L274.5 423.8L275.0 423.2L275.5 422.9L276.0 422.7L276.5 423.0L277.0 423.5L277.5 422.9L278.0 422.0L278.5 421.6L279.0 421.6L279.5 422.7L280.0 423.7L280.5 424.2L281.0 424.0L281.5 423.0L282.0 423.1L282.5 423.6L283.0 423.3L283.5 423.0L284.0 423.2L284.5 423.6L285.0 423.6L285.5 423.1L286.0 422.7L286.5 422.5L287.0 422.4L287.5 422.4L288.0 422.7L288.5 423.1L289.0 423.5L289.5 423.8L290.0 423.8L290.5 423.4" stroke="#111" stroke-width="1.00" fill="none"/>
<path d="M21.0 417.5L21.5 417.5L22.0 417.4L22.5 417.4L23.0 417.4L23.5 417.3L24.0 417.3L24.5 417.3L25.0 417.2L25.5 417.2L26.0 417.2L26.5 417.1L27.0 417.1L27.5 417.0L28.0 417.0L28.5 417.0L29.0 416.9L29.5 416.9L30.0 416.9L30.5 416.8L31.0 416.8L31.5 416.8L32.0 416.7L32.5 416.7L33.0 416.6L33.5 416.6L34.0 416.6L34.5 416.5L35.0 416.5L35.5 416.5L36.0 416.4L36.5 416.4L37.0 416.3L37.5 416.3L38.0 416.3L38.5 416.2L39.0 416.2L39.5 416.2L40.0 416.1L40.5 416.1L41.0 416.0L41.5 416.0L42.0 416.0L42.5 415.9L43.0 415.9L43.5 415.9L44.0 415.8L44.5 415.8L45.0 415.8L45.5 415.7L46.0 415.7L46.5 415.6L47.0 415.6L47.5 415.6L48.0 415.5L48.5 415.5L49.0 415.5L49.5 415.4L50.0 415.4L50.5 415.4L51.0 415.3L51.5 415.3L52.0 415.3L52.5 415.2L53.0 415.2L53.5 415.2L54.0 415.1L54.5 415.1L55.0 415.1L55.5 415.0L56.0 415.0L56.5 415.0L57.0 415.0L57.5 414.9L58.0 414.9L58.5 414.9L59.0 414.8L59.5 414.8L60.0 414.8L60.5 414.8L61.0 414.7L61.5 414.7L62.0 414.7L62.5 414.6L63.0 414.6L63.5 414.6L64.0 414.6L64.5 414.6L65.0 414.5L65.5 414.5L66.0 414.5L66.5 414.5L67.0 414.4L67.5 414.4L68.0 414.4L68.5 414.4L69.0 414.3L69.5 414.3L70.0 414.3L70.5 414.3L71.0 414.3L71.5 414.2L72.0 414.2L72.5 414.2L73.0 414.2L73.5 414.2L74.0 414.1L74.5 414.1L75.0 414.1L75.5 414.1L76.0 414.1L76.5 414.0L77.0 414.0L77.5 414.0L78.0 414.0L78.5 414.0L79.0 413.9L79.5 413.9L80.0 413.9L80.5 413.9L81.0 413.9L81.5 413.8L82.0 413.8L82.5 413.8L83.0 413.8L83.5 413.8L84.0 413.7L84.5 413.7L85.0 413.7L85.5 413.7L86.0 413.6L86.5 413.6L87.0 413.6L87.5 413.5L88.0 413.5L88.5 413.5L89.0 413.5L89.5 413.4L90.0 413.4L90.5 413.4L91.0 413.3L91.5 413.3L92.0 413.3L92.5 413.2L93.0 413.2L93.5 413.1L94.0 413.1L94.5 413.1L95.0 413.0L95.5 413.0L96.0 413.0L96.5 412.9L97.0 412.9L97.5 412.8L98.0 412.8L98.5 412.7L99.0 412.7L99.5 412.7L100.0 412.6L100.5 412.6L101.0 412.5L101.5 412.5L102.0 412.4L102.5 412.4L103.0 412.3L103.5 412.3L104.0 412.3L104.5 412.2L105.0 412.2L105.5 412.1L106.0 412.1L106.5 412.1L107.0 412.0L107.5 412.0L108.0 411.9L108.5 411.9L109.0 411.9L109.5 411.9L110.0 411.8L110.5 411.8L111.0 411.8L111.5 411.8L112.0 411.7L112.5 411.7L113.0 411.7L113.5 411.7L114.0 411.7L114.5 411.7L115.0 411.7L115.5 411.6L116.0 411.6L116.5 411.6L117.0 411.7L117.5 411.7L118.0 411.7L118.5 411.7L119.0 411.7L119.5 411.7L120.0 411.7L120.5 411.8L121.0 411.8L121.5 411.8L122.0 411.8L122.5 411.9L123.0 411.9L123.5 411.9L124.0 412.0L124.5 412.0L125.0 412.1L125.5 412.1L126.0 412.2L126.5 412.2L127.0 412.3L127.5 412.3L128.0 412.4L128.5 412.4L129.0 412.5L129.5 412.5L130.0 412.6L130.5 412.6L131.0 412.7L131.5 412.8L132.0 412.8L132.5 412.9L133.0 412.9L133.5 413.0L134.0 413.0L134.5 413.1L135.0 413.1L135.5 413.2L136.0 413.2L136.5 413.3L137.0 413.3L137.5 413.3L138.0 413.4L138.5 413.4L139.0 413.4L139.5 413.5L140.0 413.5L140.5 413.5L141.0 413.5L141.5 413.6L142.0 413.6L142.5 413.6L143.0 413.6L143.5 413.6L144.0 413.6L144.5 413.6L145.0 413.6L145.5 413.6L146.0 413.5L146.5 413.5L147.0 413.5L147.5 413.5L148.0 413.4L148.5 413.4L149.0 413.4L149.5 413.3L150.0 413.3L150.5 413.2L151.0 413.2L151.5 413.1L152.0 413.0L152.5 413.0L153.0 412.9L153.5 412.9L154.0 412.8L154.5 412.7L155.0 412.7L155.5 412.6L156.0 412.5L156.5 412.4L157.0 412.4L157.5 412.3L158.0 412.2L158.5 412.1L159.0 412.0L159.5 412.0L160.0 411.9L160.5 411.8L161.0 411.7L161.5 411.7L162.0 411.6L162.5 411.5L163.0 411.4L163.5 411.3L164.0 411.3L164.5 411.2L165.0 411.1L165.5 411.0L166.0 411.0L166.5 410.9L167.0 410.8L167.5 410.8L168.0 410.7L168.5 410.6L169.0 410.5L169.5 410.5L170.0 410.4L170.5 410.3L171.0 410.2L171.5 410.2L172.0 410.1L172.5 410.0L173.0 409.9L173.5 409.8L174.0 409.7L174.5 409.6L175.0 409.5L175.5 409.4L176.0 409.3L176.5 409.2L177.0 409.1L177.5 409.0L178.0 408.8L178.5 408.7L179.0 408.5L179.5 408.4L180.0 408.2L180.5 408.0L181.0 407.8L181.5 407.6L182.0 407.4L182.5 407.2L183.0 407.0L183.5 406.7L184.0 406.5L184.5 406.2L185.0 405.9L185.5 405.7L186.0 405.4L186.5 405.0L187.0 404.7L187.5 404.4L188.0 404.0L188.5 403.6L189.0 403.3L189.5 402.9L190.0 402.4L190.5 402.0L191.0 401.6L191.5 401.1L192.0 400.7L192.5 400.2L193.0 399.7L193.5 399.2L194.0 398.7L194.5 398.2L195.0 397.7L195.5 397.2L196.0 396.6L196.5 396.1L197.0 395.6L197.5 395.0L198.0 394.4L198.5 393.8L199.0 393.3L199.5 392.7L200.0 392.1L200.5 391.5L201.0 390.9L201.5 390.3L202.0 389.6L202.5 389.0L203.0 388.4L203.5 387.7L204.0 387.0L204.5 386.3L205.0 385.6L205.5 384.8L206.0 384.0L206.5 383.2L207.0 382.3L207.5 381.3L208.0 380.3L208.5 379.2L209.0 378.1L209.5 376.8L210.0 375.5L210.5 374.0L211.0 372.4L211.5 370.7L212.0 368.8L212.5 366.8L213.0 364.6L213.5 362.2L214.0 359.6L214.5 356.9L215.0 353.9L215.5 350.8L216.0 347.4L216.5 343.8L217.0 340.1L217.5 336.1L218.0 332.0L218.5 327.8L219.0 323.4L219.5 318.9L220.0 314.3L220.5 309.7L221.0 305.1L221.5 300.6L222.0 296.2L222.5 292.0L223.0 288.0L223.5 284.4L224.0 281.1L224.5 278.2L225.0 275.8L225.5 274.0L226.0 272.7L226.5 272.0L227.0 272.0L227.5 272.5L228.0 273.7L228.5 275.6L229.0 278.0L229.5 281.0L230.0 284.5L230.5 288.5L231.0 292.9L231.5 297.8L232.0 302.9L232.5 308.4L233.0 314.0L233.5 319.8L234.0 325.7L234.5 331.6L235.0 337.5L235.5 343.2L236.0 348.9L236.5 354.4L237.0 359.7L237.5 364.7L238.0 369.5L238.5 374.0L239.0 378.2L239.5 382.2L240.0 385.8L240.5 389.2L241.0 392.2L241.5 395.0L242.0 397.5L242.5 399.8L243.0 401.9L243.5 403.8L244.0 405.4L244.5 406.9L245.0 408.2L245.5 409.4L246.0 410.5L246.5 411.5L247.0 412.3L247.5 413.1L248.0 413.8L248.5 414.5L249.0 415.0L249.5 415.6L250.0 416.1L250.5 416.5L251.0 416.9L251.5 417.3L252.0 417.7L252.5 418.0L253.0 418.3L253.5 418.6L254.0 418.9L254.5 419.2L255.0 419.4L255.5 419.7L256.0 419.9L256.5 420.1L257.0 420.3L257.5 420.5L258.0 420.7L258.5 420.9L259.0 421.0L259.5 421.2L260.0 421.3L260.5 421.5L261.0 421.6L261.5 421.7L262.0 421.9L262.5 422.0L263.0 422.1L263.5 422.2L264.0 422.3L264.5 422.3L265.0 422.4L265.5 422.5L266.0 422.6L266.5 422.7L267.0 422.7L267.5 422.8L268.0 422.8L268.5 422.9L269.0 422.9L269.5 423.0L270.0 423.0L270.5 423.1L271.0 423.1L271.5 423.2L272.0 423.2L272.5 423.2L273.0 423.3L273.5 423.3L274.0 423.3L274.5 423.3L275.0 423.4L275.5 423.4L276.0 423.4L276.5 423.4L277.0 423.4L277.5 423.5L278.0 423.5L278.5 423.5L279.0 423.5L279.5 423.5L280.0 423.5L280.5 423.5L281.0 423.6L281.5 423.6L282.0 423.6L282.5 423.6L283.0 423.6L283.5 423.6L284.0 423.6L284.5 423.6L285.0 423.6L285.5 423.6L286.0 423.6L286.5 423.7L287.0 423.7L287.5 423.7L288.0 423.7L288.5 423.7L289.0 423.7L289.5 423.7L290.0 423.7L290.5 423.7" stroke="#ff1212" stroke-width="1.4" fill="none"/>
<path d="M21.0 419.7L21.5 419.7L22.0 419.7L22.5 419.8L23.0 419.8L23.5 419.8L24.0 419.8L24.5 419.8L25.0 419.8L25.5 419.8L26.0 419.8L26.5 419.8L27.0 419.8L27.5 419.8L28.0 419.8L28.5 419.8L29.0 419.8L29.5 419.8L30.0 419.8L30.5 419.8L31.0 419.8L31.5 419.8L32.0 419.8L32.5 419.8L33.0 419.8L33.5 419.8L34.0 419.8L34.5 419.8L35.0 419.8L35.5 419.8L36.0 419.8L36.5 419.8L37.0 419.8L37.5 419.8L38.0 419.8L38.5 419.8L39.0 419.8L39.5 419.8L40.0 419.8L40.5 419.8L41.0 419.8L41.5 419.8L42.0 419.8L42.5 419.8L43.0 419.8L43.5 419.8L44.0 419.8L44.5 419.8L45.0 419.8L45.5 419.8L46.0 419.8L46.5 419.8L47.0 419.8L47.5 419.8L48.0 419.8L48.5 419.8L49.0 419.8L49.5 419.8L50.0 419.8L50.5 419.8L51.0 419.8L51.5 419.8L52.0 419.8L52.5 419.8L53.0 419.8L53.5 419.9L54.0 419.9L54.5 419.9L55.0 419.9L55.5 419.9L56.0 419.9L56.5 419.9L57.0 419.9L57.5 419.9L58.0 419.9L58.5 419.9L59.0 419.9L59.5 419.9L60.0 419.9L60.5 419.9L61.0 419.9L61.5 419.9L62.0 419.9L62.5 419.9L63.0 419.9L63.5 419.9L64.0 419.9L64.5 419.9L65.0 419.9L65.5 419.9L66.0 419.9L66.5 419.9L67.0 419.9L67.5 419.9L68.0 419.9L68.5 419.9L69.0 419.9L69.5 419.9L70.0 419.9L70.5 419.9L71.0 419.9L71.5 419.9L72.0 419.9L72.5 419.9L73.0 419.9L73.5 419.9L74.0 419.9L74.5 420.0L75.0 420.0L75.5 420.0L76.0 420.0L76.5 420.0L77.0 420.0L77.5 420.0L78.0 420.0L78.5 420.0L79.0 420.0L79.5 420.0L80.0 420.0L80.5 420.0L81.0 420.0L81.5 420.0L82.0 420.0L82.5 420.0L83.0 420.0L83.5 420.0L84.0 420.0L84.5 420.0L85.0 420.0L85.5 420.0L86.0 420.0L86.5 420.0L87.0 420.0L87.5 420.0L88.0 420.0L88.5 420.0L89.0 420.0L89.5 420.0L90.0 420.0L90.5 420.0L91.0 420.0L91.5 420.0L92.0 420.1L92.5 420.1L93.0 420.1L93.5 420.1L94.0 420.1L94.5 420.1L95.0 420.1L95.5 420.1L96.0 420.1L96.5 420.1L97.0 420.1L97.5 420.1L98.0 420.1L98.5 420.1L99.0 420.1L99.5 420.1L100.0 420.1L100.5 420.1L101.0 420.1L101.5 420.1L102.0 420.1L102.5 420.1L103.0 420.1L103.5 420.1L104.0 420.1L104.5 420.1L105.0 420.1L105.5 420.1L106.0 420.1L106.5 420.1L107.0 420.2L107.5 420.2L108.0 420.2L108.5 420.2L109.0 420.2L109.5 420.2L110.0 420.2L110.5 420.2L111.0 420.2L111.5 420.2L112.0 420.2L112.5 420.2L113.0 420.2L113.5 420.2L114.0 420.2L114.5 420.2L115.0 420.2L115.5 420.2L116.0 420.2L116.5 420.2L117.0 420.2L117.5 420.2L118.0 420.2L118.5 420.2L119.0 420.2L119.5 420.2L120.0 420.2L120.5 420.2L121.0 420.3L121.5 420.3L122.0 420.3L122.5 420.3L123.0 420.3L123.5 420.3L124.0 420.3L124.5 420.3L125.0 420.3L125.5 420.3L126.0 420.3L126.5 420.3L127.0 420.3L127.5 420.3L128.0 420.3L128.5 420.3L129.0 420.3L129.5 420.3L130.0 420.3L130.5 420.3L131.0 420.3L131.5 420.3L132.0 420.3L132.5 420.3L133.0 420.3L133.5 420.3L134.0 420.3L134.5 420.3L135.0 420.3L135.5 420.3L136.0 420.3L136.5 420.3L137.0 420.3L137.5 420.4L138.0 420.4L138.5 420.4L139.0 420.4L139.5 420.4L140.0 420.4L140.5 420.4L141.0 420.4L141.5 420.4L142.0 420.4L142.5 420.4L143.0 420.4L143.5 420.4L144.0 420.4L144.5 420.4L145.0 420.4L145.5 420.4L146.0 420.4L146.5 420.4L147.0 420.4L147.5 420.4L148.0 420.4L148.5 420.4L149.0 420.4L149.5 420.4L150.0 420.4L150.5 420.4L151.0 420.4L151.5 420.4L152.0 420.4L152.5 420.4L153.0 420.4L153.5 420.4L154.0 420.4L154.5 420.4L155.0 420.4L155.5 420.4L156.0 420.4L156.5 420.4L157.0 420.4L157.5 420.4L158.0 420.4L158.5 420.4L159.0 420.4L159.5 420.5L160.0 420.5L160.5 420.5L161.0 420.5L161.5 420.5L162.0 420.5L162.5 420.5L163.0 420.5L163.5 420.5L164.0 420.5L164.5 420.5L165.0 420.5L165.5 420.5L166.0 420.5L166.5 420.5L167.0 420.5L167.5 420.5L168.0 420.5L168.5 420.5L169.0 420.5L169.5 420.5L170.0 420.5L170.5 420.5L171.0 420.5L171.5 420.5L172.0 420.5L172.5 420.5L173.0 420.5L173.5 420.5L174.0 420.5L174.5 420.5L175.0 420.5L175.5 420.6L176.0 420.6L176.5 420.6L177.0 420.6L177.5 420.6L178.0 420.6L178.5 420.6L179.0 420.6L179.5 420.6L180.0 420.6L180.5 420.6L181.0 420.6L181.5 420.6L182.0 420.6L182.5 420.6L183.0 420.6L183.5 420.6L184.0 420.6L184.5 420.6L185.0 420.6L185.5 420.6L186.0 420.6L186.5 420.6L187.0 420.6L187.5 420.6L188.0 420.6L188.5 420.6L189.0 420.6L189.5 420.6L190.0 420.6L190.5 420.6L191.0 420.6L191.5 420.6L192.0 420.6L192.5 420.6L193.0 420.6L193.5 420.6L194.0 420.6L194.5 420.6L195.0 420.6L195.5 420.6L196.0 420.6L196.5 420.6L197.0 420.6L197.5 420.6L198.0 420.6L198.5 420.6L199.0 420.6L199.5 420.6L200.0 420.6L200.5 420.6L201.0 420.5L201.5 420.5L202.0 420.5L202.5 420.4L203.0 420.4L203.5 420.3L204.0 420.2L204.5 420.1L205.0 420.0L205.5 419.8L206.0 419.6L206.5 419.4L207.0 419.1L207.5 418.7L208.0 418.3L208.5 417.8L209.0 417.2L209.5 416.6L210.0 415.8L210.5 414.8L211.0 413.7L211.5 412.5L212.0 411.1L212.5 409.5L213.0 407.7L213.5 405.7L214.0 403.5L214.5 401.0L215.0 398.3L215.5 395.4L216.0 392.2L216.5 388.9L217.0 385.3L217.5 381.5L218.0 377.5L218.5 373.4L219.0 369.2L219.5 364.9L220.0 360.6L220.5 356.3L221.0 352.0L221.5 347.9L222.0 343.9L222.5 340.2L223.0 336.7L223.5 333.6L224.0 330.9L224.5 328.6L225.0 326.8L225.5 325.5L226.0 324.7L226.5 324.4L227.0 324.8L227.5 325.6L228.0 327.0L228.5 328.9L229.0 331.3L229.5 334.2L230.0 337.4L230.5 340.9L231.0 344.7L231.5 348.8L232.0 353.0L232.5 357.3L233.0 361.7L233.5 366.1L234.0 370.5L234.5 374.8L235.0 379.0L235.5 383.1L236.0 386.9L236.5 390.6L237.0 394.0L237.5 397.3L238.0 400.2L238.5 403.0L239.0 405.5L239.5 407.8L240.0 409.8L240.5 411.7L241.0 413.3L241.5 414.8L242.0 416.1L242.5 417.2L243.0 418.1L243.5 419.0L244.0 419.7L244.5 420.3L245.0 420.8L245.5 421.3L246.0 421.7L246.5 422.0L247.0 422.2L247.5 422.5L248.0 422.6L248.5 422.8L249.0 422.9L249.5 423.0L250.0 423.1L250.5 423.2L251.0 423.2L251.5 423.3L252.0 423.3L252.5 423.4L253.0 423.4L253.5 423.4L254.0 423.5L254.5 423.5L255.0 423.5L255.5 423.5L256.0 423.5L256.5 423.6L257.0 423.6L257.5 423.6L258.0 423.6L258.5 423.6L259.0 423.6L259.5 423.6L260.0 423.6L260.5 423.6L261.0 423.6L261.5 423.7L262.0 423.7L262.5 423.7L263.0 423.7L263.5 423.7L264.0 423.7L264.5 423.7L265.0 423.7L265.5 423.7L266.0 423.7L266.5 423.7L267.0 423.7L267.5 423.7L268.0 423.7L268.5 423.7L269.0 423.8L269.5 423.8L270.0 423.8L270.5 423.8L271.0 423.8L271.5 423.8L272.0 423.8L272.5 423.8L273.0 423.8L273.5 423.8L274.0 423.8L274.5 423.8L275.0 423.8L275.5 423.8L276.0 423.8L276.5 423.8L277.0 423.8L277.5 423.8L278.0 423.8L278.5 423.8L279.0 423.8L279.5 423.8L280.0 423.8L280.5 423.8L281.0 423.8L281.5 423.8L282.0 423.8L282.5 423.8L283.0 423.8L283.5 423.8L284.0 423.8L284.5 423.9L285.0 423.9L285.5 423.9L286.0 423.9L286.5 423.9L287.0 423.9L287.5 423.9L288.0 423.9L288.5 423.9L289.0 423.9L289.5 423.9L290.0 423.9L290.5 423.9" stroke="#ff20ff" stroke-width="1.2" fill="none"/>
<path d="M21.0 419.7L21.5 419.7L22.0 419.7L22.5 419.7L23.0 419.7L23.5 419.7L24.0 419.7L24.5 419.7L25.0 419.7L25.5 419.7L26.0 419.7L26.5 419.7L27.0 419.7L27.5 419.7L28.0 419.7L28.5 419.7L29.0 419.7L29.5 419.7L30.0 419.7L30.5 419.7L31.0 419.7L31.5 419.7L32.0 419.7L32.5 419.7L33.0 419.7L33.5 419.7L34.0 419.7L34.5 419.7L35.0 419.7L35.5 419.7L36.0 419.7L36.5 419.7L37.0 419.7L37.5 419.7L38.0 419.7L38.5 419.7L39.0 419.7L39.5 419.7L40.0 419.7L40.5 419.8L41.0 419.8L41.5 419.8L42.0 419.8L42.5 419.8L43.0 419.8L43.5 419.8L44.0 419.8L44.5 419.8L45.0 419.8L45.5 419.8L46.0 419.8L46.5 419.8L47.0 419.8L47.5 419.8L48.0 419.8L48.5 419.8L49.0 419.8L49.5 419.8L50.0 419.8L50.5 419.8L51.0 419.8L51.5 419.8L52.0 419.8L52.5 419.8L53.0 419.8L53.5 419.8L54.0 419.8L54.5 419.8L55.0 419.8L55.5 419.8L56.0 419.8L56.5 419.8L57.0 419.8L57.5 419.8L58.0 419.8L58.5 419.8L59.0 419.8L59.5 419.8L60.0 419.8L60.5 419.8L61.0 419.8L61.5 419.8L62.0 419.8L62.5 419.8L63.0 419.8L63.5 419.8L64.0 419.8L64.5 419.8L65.0 419.8L65.5 419.8L66.0 419.8L66.5 419.8L67.0 419.8L67.5 419.8L68.0 419.8L68.5 419.9L69.0 419.9L69.5 419.9L70.0 419.9L70.5 419.9L71.0 419.9L71.5 419.9L72.0 419.9L72.5 419.9L73.0 419.9L73.5 419.9L74.0 419.9L74.5 419.9L75.0 419.9L75.5 419.9L76.0 419.9L76.5 419.9L77.0 419.9L77.5 419.9L78.0 419.9L78.5 419.9L79.0 419.9L79.5 419.9L80.0 419.9L80.5 419.9L81.0 419.9L81.5 419.9L82.0 419.9L82.5 419.9L83.0 419.9L83.5 419.9L84.0 419.9L84.5 419.9L85.0 419.9L85.5 419.9L86.0 419.9L86.5 419.9L87.0 419.9L87.5 419.9L88.0 419.9L88.5 419.9L89.0 419.9L89.5 419.9L90.0 419.9L90.5 420.0L91.0 420.0L91.5 420.0L92.0 420.0L92.5 420.0L93.0 420.0L93.5 420.0L94.0 420.0L94.5 420.0L95.0 420.0L95.5 420.0L96.0 420.0L96.5 420.0L97.0 420.0L97.5 420.0L98.0 420.0L98.5 420.0L99.0 420.0L99.5 420.0L100.0 420.0L100.5 420.0L101.0 420.0L101.5 420.0L102.0 420.0L102.5 420.0L103.0 420.0L103.5 420.0L104.0 420.0L104.5 420.0L105.0 420.0L105.5 420.0L106.0 420.0L106.5 420.0L107.0 420.0L107.5 420.0L108.0 420.0L108.5 420.0L109.0 420.0L109.5 420.0L110.0 420.0L110.5 420.1L111.0 420.1L111.5 420.1L112.0 420.1L112.5 420.1L113.0 420.1L113.5 420.1L114.0 420.1L114.5 420.1L115.0 420.1L115.5 420.1L116.0 420.1L116.5 420.1L117.0 420.1L117.5 420.1L118.0 420.1L118.5 420.1L119.0 420.1L119.5 420.1L120.0 420.1L120.5 420.1L121.0 420.1L121.5 420.1L122.0 420.1L122.5 420.1L123.0 420.1L123.5 420.1L124.0 420.1L124.5 420.1L125.0 420.1L125.5 420.1L126.0 420.1L126.5 420.1L127.0 420.1L127.5 420.1L128.0 420.1L128.5 420.1L129.0 420.1L129.5 420.1L130.0 420.1L130.5 420.1L131.0 420.1L131.5 420.1L132.0 420.1L132.5 420.1L133.0 420.1L133.5 420.1L134.0 420.1L134.5 420.1L135.0 420.1L135.5 420.1L136.0 420.1L136.5 420.1L137.0 420.1L137.5 420.1L138.0 420.1L138.5 420.1L139.0 420.1L139.5 420.1L140.0 420.1L140.5 420.1L141.0 420.1L141.5 420.1L142.0 420.1L142.5 420.1L143.0 420.1L143.5 420.1L144.0 420.1L144.5 420.1L145.0 420.1L145.5 420.1L146.0 420.1L146.5 420.1L147.0 420.1L147.5 420.1L148.0 420.1L148.5 420.1L149.0 420.1L149.5 420.1L150.0 420.1L150.5 420.1L151.0 420.1L151.5 420.1L152.0 420.1L152.5 420.1L153.0 420.1L153.5 420.1L154.0 420.1L154.5 420.1L155.0 420.1L155.5 420.1L156.0 420.1L156.5 420.1L157.0 420.1L157.5 420.1L158.0 420.1L158.5 420.1L159.0 420.1L159.5 420.1L160.0 420.1L160.5 420.1L161.0 420.1L161.5 420.1L162.0 420.1L162.5 420.1L163.0 420.1L163.5 420.1L164.0 420.1L164.5 420.1L165.0 420.1L165.5 420.1L166.0 420.1L166.5 420.1L167.0 420.1L167.5 420.1L168.0 420.1L168.5 420.1L169.0 420.0L169.5 420.0L170.0 420.0L170.5 420.0L171.0 420.0L171.5 420.0L172.0 420.0L172.5 420.0L173.0 420.0L173.5 420.0L174.0 420.0L174.5 420.0L175.0 420.0L175.5 420.0L176.0 420.0L176.5 420.0L177.0 420.0L177.5 420.0L178.0 419.9L178.5 419.9L179.0 419.9L179.5 419.9L180.0 419.9L180.5 419.9L181.0 419.9L181.5 419.9L182.0 419.9L182.5 419.9L183.0 419.9L183.5 419.8L184.0 419.8L184.5 419.8L185.0 419.8L185.5 419.8L186.0 419.8L186.5 419.8L187.0 419.7L187.5 419.7L188.0 419.7L188.5 419.7L189.0 419.7L189.5 419.7L190.0 419.6L190.5 419.6L191.0 419.6L191.5 419.6L192.0 419.5L192.5 419.5L193.0 419.5L193.5 419.5L194.0 419.4L194.5 419.4L195.0 419.4L195.5 419.3L196.0 419.3L196.5 419.3L197.0 419.2L197.5 419.2L198.0 419.1L198.5 419.1L199.0 419.0L199.5 419.0L200.0 418.9L200.5 418.9L201.0 418.8L201.5 418.7L202.0 418.7L202.5 418.6L203.0 418.5L203.5 418.4L204.0 418.3L204.5 418.2L205.0 418.1L205.5 417.9L206.0 417.8L206.5 417.6L207.0 417.4L207.5 417.2L208.0 417.0L208.5 416.7L209.0 416.5L209.5 416.2L210.0 415.8L210.5 415.5L211.0 415.1L211.5 414.6L212.0 414.1L212.5 413.6L213.0 413.0L213.5 412.4L214.0 411.8L214.5 411.0L215.0 410.2L215.5 409.4L216.0 408.5L216.5 407.5L217.0 406.5L217.5 405.4L218.0 404.2L218.5 403.0L219.0 401.7L219.5 400.4L220.0 399.0L220.5 397.5L221.0 396.0L221.5 394.4L222.0 392.8L222.5 391.2L223.0 389.6L223.5 387.9L224.0 386.3L224.5 384.6L225.0 383.0L225.5 381.4L226.0 379.9L226.5 378.4L227.0 377.0L227.5 375.8L228.0 374.6L228.5 373.6L229.0 372.8L229.5 372.2L230.0 371.7L230.5 371.5L231.0 371.5L231.5 371.6L232.0 372.0L232.5 372.6L233.0 373.4L233.5 374.3L234.0 375.4L234.5 376.7L235.0 378.0L235.5 379.5L236.0 381.1L236.5 382.7L237.0 384.4L237.5 386.1L238.0 387.9L238.5 389.6L239.0 391.3L239.5 393.0L240.0 394.7L240.5 396.4L241.0 398.0L241.5 399.6L242.0 401.1L242.5 402.5L243.0 403.9L243.5 405.2L244.0 406.5L244.5 407.7L245.0 408.8L245.5 409.9L246.0 410.9L246.5 411.8L247.0 412.7L247.5 413.5L248.0 414.2L248.5 414.9L249.0 415.6L249.5 416.1L250.0 416.7L250.5 417.2L251.0 417.6L251.5 418.1L252.0 418.4L252.5 418.8L253.0 419.1L253.5 419.4L254.0 419.6L254.5 419.9L255.0 420.1L255.5 420.3L256.0 420.5L256.5 420.6L257.0 420.8L257.5 420.9L258.0 421.1L258.5 421.2L259.0 421.3L259.5 421.4L260.0 421.5L260.5 421.6L261.0 421.7L261.5 421.7L262.0 421.8L262.5 421.9L263.0 421.9L263.5 422.0L264.0 422.1L264.5 422.1L265.0 422.2L265.5 422.2L266.0 422.3L266.5 422.3L267.0 422.3L267.5 422.4L268.0 422.4L268.5 422.5L269.0 422.5L269.5 422.5L270.0 422.6L270.5 422.6L271.0 422.6L271.5 422.7L272.0 422.7L272.5 422.7L273.0 422.8L273.5 422.8L274.0 422.8L274.5 422.8L275.0 422.9L275.5 422.9L276.0 422.9L276.5 422.9L277.0 422.9L277.5 423.0L278.0 423.0L278.5 423.0L279.0 423.0L279.5 423.0L280.0 423.1L280.5 423.1L281.0 423.1L281.5 423.1L282.0 423.1L282.5 423.1L283.0 423.2L283.5 423.2L284.0 423.2L284.5 423.2L285.0 423.2L285.5 423.2L286.0 423.2L286.5 423.3L287.0 423.3L287.5 423.3L288.0 423.3L288.5 423.3L289.0 423.3L289.5 423.3L290.0 423.3L290.5 423.3" stroke="#1a1aee" stroke-width="1.2" fill="none"/>
<path d="M21.0 419.8L21.5 419.8L22.0 419.8L22.5 419.8L23.0 419.8L23.5 419.8L24.0 419.8L24.5 419.8L25.0 419.8L25.5 419.8L26.0 419.8L26.5 419.8L27.0 419.8L27.5 419.8L28.0 419.8L28.5 419.8L29.0 419.8L29.5 419.8L30.0 419.8L30.5 419.8L31.0 419.8L31.5 419.8L32.0 419.8L32.5 419.8L33.0 419.8L33.5 419.8L34.0 419.8L34.5 419.8L35.0 419.8L35.5 419.8L36.0 419.8L36.5 419.8L37.0 419.8L37.5 419.8L38.0 419.8L38.5 419.8L39.0 419.8L39.5 419.8L40.0 419.8L40.5 419.8L41.0 419.8L41.5 419.8L42.0 419.8L42.5 419.8L43.0 419.8L43.5 419.8L44.0 419.8L44.5 419.8L45.0 419.8L45.5 419.8L46.0 419.8L46.5 419.8L47.0 419.8L47.5 419.8L48.0 419.8L48.5 419.8L49.0 419.8L49.5 419.8L50.0 419.8L50.5 419.9L51.0 419.9L51.5 419.9L52.0 419.9L52.5 419.9L53.0 419.9L53.5 419.9L54.0 419.9L54.5 419.9L55.0 419.9L55.5 419.9L56.0 419.9L56.5 419.9L57.0 419.9L57.5 419.9L58.0 419.9L58.5 419.9L59.0 419.9L59.5 419.9L60.0 419.9L60.5 419.9L61.0 419.9L61.5 419.9L62.0 419.9L62.5 419.9L63.0 419.9L63.5 419.9L64.0 419.9L64.5 419.9L65.0 419.9L65.5 419.9L66.0 419.9L66.5 419.9L67.0 419.9L67.5 419.9L68.0 419.9L68.5 419.9L69.0 419.9L69.5 419.9L70.0 419.9L70.5 419.9L71.0 419.9L71.5 419.9L72.0 420.0L72.5 420.0L73.0 420.0L73.5 420.0L74.0 420.0L74.5 420.0L75.0 420.0L75.5 420.0L76.0 420.0L76.5 420.0L77.0 420.0L77.5 420.0L78.0 420.0L78.5 420.0L79.0 420.0L79.5 420.0L80.0 420.0L80.5 420.0L81.0 420.0L81.5 420.0L82.0 420.0L82.5 420.0L83.0 420.0L83.5 420.0L84.0 420.0L84.5 420.0L85.0 420.0L85.5 420.0L86.0 420.0L86.5 420.0L87.0 420.0L87.5 420.0L88.0 420.0L88.5 420.0L89.0 420.1L89.5 420.1L90.0 420.1L90.5 420.1L91.0 420.1L91.5 420.1L92.0 420.1L92.5 420.1L93.0 420.1L93.5 420.1L94.0 420.1L94.5 420.1L95.0 420.1L95.5 420.1L96.0 420.1L96.5 420.1L97.0 420.1L97.5 420.1L98.0 420.1L98.5 420.1L99.0 420.1L99.5 420.1L100.0 420.1L100.5 420.1L101.0 420.1L101.5 420.1L102.0 420.1L102.5 420.1L103.0 420.1L103.5 420.2L104.0 420.2L104.5 420.2L105.0 420.2L105.5 420.2L106.0 420.2L106.5 420.2L107.0 420.2L107.5 420.2L108.0 420.2L108.5 420.2L109.0 420.2L109.5 420.2L110.0 420.2L110.5 420.2L111.0 420.2L111.5 420.2L112.0 420.2L112.5 420.2L113.0 420.2L113.5 420.2L114.0 420.2L114.5 420.2L115.0 420.2L115.5 420.2L116.0 420.2L116.5 420.2L117.0 420.3L117.5 420.3L118.0 420.3L118.5 420.3L119.0 420.3L119.5 420.3L120.0 420.3L120.5 420.3L121.0 420.3L121.5 420.3L122.0 420.3L122.5 420.3L123.0 420.3L123.5 420.3L124.0 420.3L124.5 420.3L125.0 420.3L125.5 420.3L126.0 420.3L126.5 420.3L127.0 420.3L127.5 420.3L128.0 420.3L128.5 420.3L129.0 420.3L129.5 420.3L130.0 420.3L130.5 420.3L131.0 420.4L131.5 420.4L132.0 420.4L132.5 420.4L133.0 420.4L133.5 420.4L134.0 420.4L134.5 420.4L135.0 420.4L135.5 420.4L136.0 420.4L136.5 420.4L137.0 420.4L137.5 420.4L138.0 420.4L138.5 420.4L139.0 420.4L139.5 420.4L140.0 420.4L140.5 420.4L141.0 420.4L141.5 420.4L142.0 420.4L142.5 420.4L143.0 420.4L143.5 420.4L144.0 420.4L144.5 420.4L145.0 420.4L145.5 420.4L146.0 420.4L146.5 420.4L147.0 420.4L147.5 420.5L148.0 420.5L148.5 420.5L149.0 420.5L149.5 420.5L150.0 420.5L150.5 420.5L151.0 420.5L151.5 420.5L152.0 420.5L152.5 420.5L153.0 420.5L153.5 420.5L154.0 420.5L154.5 420.5L155.0 420.5L155.5 420.5L156.0 420.5L156.5 420.5L157.0 420.5L157.5 420.5L158.0 420.5L158.5 420.5L159.0 420.5L159.5 420.5L160.0 420.5L160.5 420.5L161.0 420.5L161.5 420.5L162.0 420.5L162.5 420.5L163.0 420.5L163.5 420.5L164.0 420.5L164.5 420.5L165.0 420.5L165.5 420.5L166.0 420.5L166.5 420.5L167.0 420.5L167.5 420.5L168.0 420.5L168.5 420.4L169.0 420.4L169.5 420.4L170.0 420.4L170.5 420.4L171.0 420.3L171.5 420.3L172.0 420.3L172.5 420.2L173.0 420.2L173.5 420.1L174.0 420.1L174.5 420.0L175.0 419.9L175.5 419.8L176.0 419.8L176.5 419.7L177.0 419.6L177.5 419.4L178.0 419.3L178.5 419.2L179.0 419.0L179.5 418.9L180.0 418.7L180.5 418.5L181.0 418.3L181.5 418.0L182.0 417.8L182.5 417.6L183.0 417.3L183.5 417.0L184.0 416.7L184.5 416.3L185.0 416.0L185.5 415.6L186.0 415.2L186.5 414.8L187.0 414.4L187.5 413.9L188.0 413.5L188.5 413.0L189.0 412.5L189.5 412.0L190.0 411.4L190.5 410.9L191.0 410.3L191.5 409.7L192.0 409.1L192.5 408.5L193.0 407.8L193.5 407.2L194.0 406.6L194.5 405.9L195.0 405.3L195.5 404.6L196.0 404.0L196.5 403.3L197.0 402.7L197.5 402.1L198.0 401.4L198.5 400.8L199.0 400.2L199.5 399.7L200.0 399.1L200.5 398.6L201.0 398.1L201.5 397.6L202.0 397.2L202.5 396.8L203.0 396.4L203.5 396.1L204.0 395.8L204.5 395.5L205.0 395.3L205.5 395.1L206.0 395.0L206.5 394.9L207.0 394.9L207.5 394.9L208.0 394.9L208.5 395.0L209.0 395.1L209.5 395.3L210.0 395.5L210.5 395.8L211.0 396.1L211.5 396.5L212.0 396.9L212.5 397.3L213.0 397.7L213.5 398.2L214.0 398.7L214.5 399.3L215.0 399.9L215.5 400.5L216.0 401.1L216.5 401.7L217.0 402.4L217.5 403.0L218.0 403.7L218.5 404.4L219.0 405.1L219.5 405.8L220.0 406.5L220.5 407.2L221.0 407.9L221.5 408.6L222.0 409.3L222.5 409.9L223.0 410.6L223.5 411.3L224.0 411.9L224.5 412.5L225.0 413.2L225.5 413.8L226.0 414.3L226.5 414.9L227.0 415.4L227.5 416.0L228.0 416.5L228.5 417.0L229.0 417.4L229.5 417.9L230.0 418.3L230.5 418.7L231.0 419.1L231.5 419.5L232.0 419.8L232.5 420.1L233.0 420.4L233.5 420.7L234.0 421.0L234.5 421.2L235.0 421.5L235.5 421.7L236.0 421.9L236.5 422.1L237.0 422.2L237.5 422.4L238.0 422.5L238.5 422.7L239.0 422.8L239.5 422.9L240.0 423.0L240.5 423.1L241.0 423.2L241.5 423.2L242.0 423.3L242.5 423.4L243.0 423.4L243.5 423.5L244.0 423.5L244.5 423.6L245.0 423.6L245.5 423.6L246.0 423.7L246.5 423.7L247.0 423.7L247.5 423.7L248.0 423.8L248.5 423.8L249.0 423.8L249.5 423.8L250.0 423.8L250.5 423.8L251.0 423.8L251.5 423.8L252.0 423.9L252.5 423.9L253.0 423.9L253.5 423.9L254.0 423.9L254.5 423.9L255.0 423.9L255.5 423.9L256.0 423.9L256.5 423.9L257.0 423.9L257.5 423.9L258.0 423.9L258.5 423.9L259.0 423.9L259.5 423.9L260.0 423.9L260.5 423.9L261.0 423.9L261.5 423.9L262.0 423.9L262.5 423.9L263.0 423.9L263.5 423.9L264.0 423.9L264.5 423.9L265.0 423.9L265.5 423.9L266.0 423.9L266.5 423.9L267.0 423.9L267.5 423.9L268.0 423.9L268.5 423.9L269.0 423.9L269.5 423.9L270.0 423.9L270.5 423.9L271.0 423.9L271.5 423.9L272.0 423.9L272.5 423.9L273.0 423.9L273.5 423.9L274.0 423.9L274.5 423.9L275.0 423.9L275.5 423.9L276.0 423.9L276.5 423.9L277.0 423.9L277.5 423.9L278.0 423.9L278.5 423.9L279.0 423.9L279.5 423.9L280.0 423.9L280.5 423.9L281.0 423.9L281.5 423.9L282.0 423.9L282.5 423.9L283.0 423.9L283.5 423.9L284.0 423.9L284.5 423.9L285.0 424.0L285.5 424.0L286.0 424.0L286.5 424.0L287.0 424.0L287.5 424.0L288.0 424.0L288.5 424.0L289.0 424.0L289.5 424.0L290.0 424.0L290.5 424.0" stroke="#1a9a1a" stroke-width="1.2" fill="none"/>
<path d="M21.0 419.8L21.5 419.8L22.0 419.8L22.5 419.8L23.0 419.8L23.5 419.8L24.0 419.8L24.5 419.8L25.0 419.8L25.5 419.8L26.0 419.8L26.5 419.8L27.0 419.8L27.5 419.8L28.0 419.8L28.5 419.8L29.0 419.8L29.5 419.8L30.0 419.8L30.5 419.8L31.0 419.8L31.5 419.8L32.0 419.8L32.5 419.8L33.0 419.8L33.5 419.8L34.0 419.8L34.5 419.8L35.0 419.8L35.5 419.8L36.0 419.8L36.5 419.8L37.0 419.8L37.5 419.8L38.0 419.8L38.5 419.8L39.0 419.8L39.5 419.8L40.0 419.8L40.5 419.8L41.0 419.8L41.5 419.8L42.0 419.8L42.5 419.8L43.0 419.8L43.5 419.8L44.0 419.8L44.5 419.8L45.0 419.8L45.5 419.8L46.0 419.8L46.5 419.8L47.0 419.8L47.5 419.8L48.0 419.8L48.5 419.8L49.0 419.8L49.5 419.8L50.0 419.8L50.5 419.9L51.0 419.9L51.5 419.9L52.0 419.9L52.5 419.9L53.0 419.9L53.5 419.9L54.0 419.9L54.5 419.9L55.0 419.9L55.5 419.9L56.0 419.9L56.5 419.9L57.0 419.9L57.5 419.9L58.0 419.9L58.5 419.9L59.0 419.9L59.5 419.9L60.0 419.9L60.5 419.9L61.0 419.9L61.5 419.9L62.0 419.9L62.5 419.9L63.0 419.9L63.5 419.9L64.0 419.9L64.5 419.9L65.0 419.9L65.5 419.9L66.0 419.9L66.5 419.9L67.0 419.9L67.5 419.9L68.0 419.9L68.5 419.9L69.0 419.9L69.5 419.9L70.0 419.9L70.5 419.9L71.0 419.9L71.5 419.9L72.0 420.0L72.5 420.0L73.0 420.0L73.5 420.0L74.0 420.0L74.5 420.0L75.0 420.0L75.5 420.0L76.0 420.0L76.5 420.0L77.0 420.0L77.5 420.0L78.0 420.0L78.5 420.0L79.0 420.0L79.5 420.0L80.0 420.0L80.5 420.0L81.0 420.0L81.5 420.0L82.0 420.0L82.5 420.0L83.0 420.0L83.5 420.0L84.0 420.0L84.5 420.0L85.0 420.0L85.5 420.0L86.0 420.0L86.5 420.0L87.0 420.0L87.5 420.0L88.0 420.0L88.5 420.0L89.0 420.1L89.5 420.1L90.0 420.1L90.5 420.1L91.0 420.1L91.5 420.1L92.0 420.1L92.5 420.1L93.0 420.1L93.5 420.1L94.0 420.1L94.5 420.1L95.0 420.1L95.5 420.1L96.0 420.1L96.5 420.1L97.0 420.1L97.5 420.1L98.0 420.1L98.5 420.1L99.0 420.1L99.5 420.1L100.0 420.1L100.5 420.1L101.0 420.1L101.5 420.1L102.0 420.1L102.5 420.1L103.0 420.1L103.5 420.2L104.0 420.2L104.5 420.2L105.0 420.2L105.5 420.2L106.0 420.2L106.5 420.2L107.0 420.2L107.5 420.2L108.0 420.2L108.5 420.2L109.0 420.2L109.5 420.2L110.0 420.2L110.5 420.2L111.0 420.2L111.5 420.2L112.0 420.2L112.5 420.2L113.0 420.2L113.5 420.2L114.0 420.2L114.5 420.2L115.0 420.2L115.5 420.2L116.0 420.2L116.5 420.2L117.0 420.2L117.5 420.3L118.0 420.3L118.5 420.3L119.0 420.3L119.5 420.3L120.0 420.3L120.5 420.3L121.0 420.3L121.5 420.3L122.0 420.3L122.5 420.3L123.0 420.3L123.5 420.3L124.0 420.3L124.5 420.3L125.0 420.3L125.5 420.3L126.0 420.3L126.5 420.3L127.0 420.3L127.5 420.3L128.0 420.3L128.5 420.3L129.0 420.3L129.5 420.3L130.0 420.3L130.5 420.3L131.0 420.3L131.5 420.3L132.0 420.3L132.5 420.3L133.0 420.3L133.5 420.3L134.0 420.3L134.5 420.3L135.0 420.3L135.5 420.3L136.0 420.3L136.5 420.3L137.0 420.3L137.5 420.3L138.0 420.3L138.5 420.3L139.0 420.2L139.5 420.2L140.0 420.2L140.5 420.2L141.0 420.2L141.5 420.1L142.0 420.1L142.5 420.1L143.0 420.1L143.5 420.0L144.0 420.0L144.5 420.0L145.0 419.9L145.5 419.9L146.0 419.8L146.5 419.8L147.0 419.7L147.5 419.6L148.0 419.6L148.5 419.5L149.0 419.4L149.5 419.3L150.0 419.2L150.5 419.1L151.0 419.0L151.5 418.9L152.0 418.8L152.5 418.7L153.0 418.6L153.5 418.4L154.0 418.3L154.5 418.1L155.0 418.0L155.5 417.8L156.0 417.7L156.5 417.5L157.0 417.3L157.5 417.1L158.0 416.9L158.5 416.7L159.0 416.5L159.5 416.3L160.0 416.1L160.5 415.9L161.0 415.7L161.5 415.4L162.0 415.2L162.5 415.0L163.0 414.7L163.5 414.5L164.0 414.3L164.5 414.0L165.0 413.8L165.5 413.6L166.0 413.3L166.5 413.1L167.0 412.9L167.5 412.7L168.0 412.4L168.5 412.2L169.0 412.0L169.5 411.8L170.0 411.6L170.5 411.5L171.0 411.3L171.5 411.1L172.0 411.0L172.5 410.8L173.0 410.7L173.5 410.6L174.0 410.5L174.5 410.4L175.0 410.3L175.5 410.3L176.0 410.2L176.5 410.2L177.0 410.2L177.5 410.2L178.0 410.2L178.5 410.3L179.0 410.3L179.5 410.4L180.0 410.4L180.5 410.5L181.0 410.6L181.5 410.7L182.0 410.9L182.5 411.0L183.0 411.2L183.5 411.3L184.0 411.5L184.5 411.7L185.0 411.9L185.5 412.1L186.0 412.3L186.5 412.5L187.0 412.7L187.5 413.0L188.0 413.2L188.5 413.5L189.0 413.7L189.5 413.9L190.0 414.2L190.5 414.4L191.0 414.7L191.5 414.9L192.0 415.2L192.5 415.4L193.0 415.7L193.5 415.9L194.0 416.1L194.5 416.4L195.0 416.6L195.5 416.8L196.0 417.1L196.5 417.3L197.0 417.5L197.5 417.7L198.0 417.9L198.5 418.1L199.0 418.3L199.5 418.4L200.0 418.6L200.5 418.8L201.0 418.9L201.5 419.1L202.0 419.2L202.5 419.4L203.0 419.5L203.5 419.6L204.0 419.8L204.5 419.9L205.0 420.0L205.5 420.1L206.0 420.2L206.5 420.3L207.0 420.4L207.5 420.5L208.0 420.5L208.5 420.6L209.0 420.7L209.5 420.8L210.0 420.8L210.5 420.9L211.0 420.9L211.5 421.0L212.0 421.0L212.5 421.1L213.0 421.1L213.5 421.2L214.0 421.2L214.5 421.3L215.0 421.3L215.5 421.4L216.0 421.4L216.5 421.4L217.0 421.5L217.5 421.5L218.0 421.6L218.5 421.6L219.0 421.7L219.5 421.7L220.0 421.8L220.5 421.8L221.0 421.9L221.5 421.9L222.0 422.0L222.5 422.0L223.0 422.1L223.5 422.1L224.0 422.2L224.5 422.2L225.0 422.3L225.5 422.4L226.0 422.4L226.5 422.5L227.0 422.5L227.5 422.6L228.0 422.7L228.5 422.7L229.0 422.8L229.5 422.9L230.0 422.9L230.5 423.0L231.0 423.0L231.5 423.1L232.0 423.1L232.5 423.2L233.0 423.2L233.5 423.3L234.0 423.3L234.5 423.4L235.0 423.4L235.5 423.5L236.0 423.5L236.5 423.5L237.0 423.5L237.5 423.6L238.0 423.6L238.5 423.6L239.0 423.7L239.5 423.7L240.0 423.7L240.5 423.7L241.0 423.7L241.5 423.7L242.0 423.8L242.5 423.8L243.0 423.8L243.5 423.8L244.0 423.8L244.5 423.8L245.0 423.8L245.5 423.8L246.0 423.8L246.5 423.8L247.0 423.8L247.5 423.9L248.0 423.9L248.5 423.9L249.0 423.9L249.5 423.9L250.0 423.9L250.5 423.9L251.0 423.9L251.5 423.9L252.0 423.9L252.5 423.9L253.0 423.9L253.5 423.9L254.0 423.9L254.5 423.9L255.0 423.9L255.5 423.9L256.0 423.9L256.5 423.9L257.0 423.9L257.5 423.9L258.0 423.9L258.5 423.9L259.0 423.9L259.5 423.9L260.0 423.9L260.5 423.9L261.0 423.9L261.5 423.9L262.0 423.9L262.5 423.9L263.0 423.9L263.5 423.9L264.0 423.9L264.5 423.9L265.0 423.9L265.5 423.9L266.0 423.9L266.5 423.9L267.0 423.9L267.5 423.9L268.0 423.9L268.5 423.9L269.0 423.9L269.5 423.9L270.0 423.9L270.5 423.9L271.0 423.9L271.5 423.9L272.0 423.9L272.5 423.9L273.0 423.9L273.5 423.9L274.0 423.9L274.5 423.9L275.0 423.9L275.5 423.9L276.0 423.9L276.5 423.9L277.0 423.9L277.5 423.9L278.0 423.9L278.5 423.9L279.0 423.9L279.5 423.9L280.0 423.9L280.5 423.9L281.0 423.9L281.5 423.9L282.0 423.9L282.5 423.9L283.0 423.9L283.5 423.9L284.0 423.9L284.5 423.9L285.0 424.0L285.5 424.0L286.0 424.0L286.5 424.0L287.0 424.0L287.5 424.0L288.0 424.0L288.5 424.0L289.0 424.0L289.5 424.0L290.0 424.0L290.5 424.0" stroke="#3030d8" stroke-width="1.2" fill="none"/>
<path d="M21.0 419.2L21.5 419.2L22.0 419.2L22.5 419.2L23.0 419.2L23.5 419.2L24.0 419.2L24.5 419.2L25.0 419.2L25.5 419.2L26.0 419.2L26.5 419.2L27.0 419.2L27.5 419.2L28.0 419.1L28.5 419.1L29.0 419.1L29.5 419.1L30.0 419.1L30.5 419.1L31.0 419.1L31.5 419.1L32.0 419.1L32.5 419.1L33.0 419.1L33.5 419.1L34.0 419.1L34.5 419.1L35.0 419.1L35.5 419.1L36.0 419.1L36.5 419.1L37.0 419.1L37.5 419.1L38.0 419.0L38.5 419.0L39.0 419.0L39.5 419.0L40.0 419.0L40.5 419.0L41.0 419.0L41.5 419.0L42.0 419.0L42.5 419.0L43.0 419.0L43.5 419.0L44.0 419.0L44.5 419.0L45.0 418.9L45.5 418.9L46.0 418.9L46.5 418.9L47.0 418.9L47.5 418.9L48.0 418.9L48.5 418.9L49.0 418.9L49.5 418.9L50.0 418.9L50.5 418.9L51.0 418.8L51.5 418.8L52.0 418.8L52.5 418.8L53.0 418.8L53.5 418.8L54.0 418.8L54.5 418.8L55.0 418.8L55.5 418.8L56.0 418.7L56.5 418.7L57.0 418.7L57.5 418.7L58.0 418.7L58.5 418.7L59.0 418.7L59.5 418.7L60.0 418.6L60.5 418.6L61.0 418.6L61.5 418.6L62.0 418.6L62.5 418.6L63.0 418.6L63.5 418.6L64.0 418.5L64.5 418.5L65.0 418.5L65.5 418.5L66.0 418.5L66.5 418.5L67.0 418.4L67.5 418.4L68.0 418.4L68.5 418.4L69.0 418.4L69.5 418.4L70.0 418.3L70.5 418.3L71.0 418.3L71.5 418.3L72.0 418.3L72.5 418.2L73.0 418.2L73.5 418.2L74.0 418.2L74.5 418.2L75.0 418.1L75.5 418.1L76.0 418.1L76.5 418.1L77.0 418.0L77.5 418.0L78.0 418.0L78.5 418.0L79.0 417.9L79.5 417.9L80.0 417.9L80.5 417.9L81.0 417.8L81.5 417.8L82.0 417.8L82.5 417.8L83.0 417.7L83.5 417.7L84.0 417.7L84.5 417.6L85.0 417.6L85.5 417.6L86.0 417.5L86.5 417.5L87.0 417.5L87.5 417.4L88.0 417.4L88.5 417.4L89.0 417.3L89.5 417.3L90.0 417.3L90.5 417.2L91.0 417.2L91.5 417.2L92.0 417.1L92.5 417.1L93.0 417.1L93.5 417.0L94.0 417.0L94.5 416.9L95.0 416.9L95.5 416.9L96.0 416.8L96.5 416.8L97.0 416.7L97.5 416.7L98.0 416.7L98.5 416.6L99.0 416.6L99.5 416.5L100.0 416.5L100.5 416.5L101.0 416.4L101.5 416.4L102.0 416.3L102.5 416.3L103.0 416.2L103.5 416.2L104.0 416.2L104.5 416.1L105.0 416.1L105.5 416.0L106.0 416.0L106.5 416.0L107.0 415.9L107.5 415.9L108.0 415.9L108.5 415.8L109.0 415.8L109.5 415.8L110.0 415.7L110.5 415.7L111.0 415.7L111.5 415.6L112.0 415.6L112.5 415.6L113.0 415.6L113.5 415.5L114.0 415.5L114.5 415.5L115.0 415.5L115.5 415.5L116.0 415.4L116.5 415.4L117.0 415.4L117.5 415.4L118.0 415.4L118.5 415.4L119.0 415.4L119.5 415.4L120.0 415.4L120.5 415.4L121.0 415.4L121.5 415.4L122.0 415.4L122.5 415.4L123.0 415.4L123.5 415.4L124.0 415.4L124.5 415.5L125.0 415.5L125.5 415.5L126.0 415.5L126.5 415.5L127.0 415.6L127.5 415.6L128.0 415.6L128.5 415.7L129.0 415.7L129.5 415.7L130.0 415.7L130.5 415.8L131.0 415.8L131.5 415.9L132.0 415.9L132.5 415.9L133.0 416.0L133.5 416.0L134.0 416.1L134.5 416.1L135.0 416.1L135.5 416.2L136.0 416.2L136.5 416.3L137.0 416.3L137.5 416.4L138.0 416.4L138.5 416.5L139.0 416.5L139.5 416.6L140.0 416.6L140.5 416.7L141.0 416.7L141.5 416.7L142.0 416.8L142.5 416.8L143.0 416.9L143.5 416.9L144.0 417.0L144.5 417.0L145.0 417.1L145.5 417.1L146.0 417.2L146.5 417.2L147.0 417.3L147.5 417.3L148.0 417.4L148.5 417.4L149.0 417.4L149.5 417.5L150.0 417.5L150.5 417.6L151.0 417.6L151.5 417.7L152.0 417.7L152.5 417.7L153.0 417.8L153.5 417.8L154.0 417.9L154.5 417.9L155.0 417.9L155.5 418.0L156.0 418.0L156.5 418.1L157.0 418.1L157.5 418.1L158.0 418.2L158.5 418.2L159.0 418.2L159.5 418.3L160.0 418.3L160.5 418.3L161.0 418.4L161.5 418.4L162.0 418.4L162.5 418.5L163.0 418.5L163.5 418.5L164.0 418.6L164.5 418.6L165.0 418.6L165.5 418.7L166.0 418.7L166.5 418.7L167.0 418.8L167.5 418.8L168.0 418.8L168.5 418.8L169.0 418.9L169.5 418.9L170.0 418.9L170.5 419.0L171.0 419.0L171.5 419.0L172.0 419.0L172.5 419.1L173.0 419.1L173.5 419.1L174.0 419.1L174.5 419.2L175.0 419.2L175.5 419.2L176.0 419.2L176.5 419.3L177.0 419.3L177.5 419.3L178.0 419.3L178.5 419.4L179.0 419.4L179.5 419.4L180.0 419.4L180.5 419.5L181.0 419.5L181.5 419.5L182.0 419.5L182.5 419.5L183.0 419.6L183.5 419.6L184.0 419.6L184.5 419.6L185.0 419.6L185.5 419.7L186.0 419.7L186.5 419.7L187.0 419.7L187.5 419.7L188.0 419.8L188.5 419.8L189.0 419.8L189.5 419.8L190.0 419.8L190.5 419.9L191.0 419.9L191.5 419.9L192.0 419.9L192.5 419.9L193.0 420.0L193.5 420.0L194.0 420.0L194.5 420.0L195.0 420.0L195.5 420.1L196.0 420.1L196.5 420.1L197.0 420.1L197.5 420.1L198.0 420.2L198.5 420.2L199.0 420.2L199.5 420.2L200.0 420.2L200.5 420.3L201.0 420.3L201.5 420.3L202.0 420.3L202.5 420.3L203.0 420.4L203.5 420.4L204.0 420.4L204.5 420.4L205.0 420.4L205.5 420.5L206.0 420.5L206.5 420.5L207.0 420.5L207.5 420.5L208.0 420.6L208.5 420.6L209.0 420.6L209.5 420.6L210.0 420.7L210.5 420.7L211.0 420.7L211.5 420.7L212.0 420.7L212.5 420.8L213.0 420.8L213.5 420.8L214.0 420.8L214.5 420.9L215.0 420.9L215.5 420.9L216.0 421.0L216.5 421.0L217.0 421.0L217.5 421.1L218.0 421.1L218.5 421.1L219.0 421.2L219.5 421.2L220.0 421.3L220.5 421.3L221.0 421.4L221.5 421.4L222.0 421.5L222.5 421.5L223.0 421.6L223.5 421.6L224.0 421.7L224.5 421.7L225.0 421.8L225.5 421.9L226.0 421.9L226.5 422.0L227.0 422.1L227.5 422.1L228.0 422.2L228.5 422.3L229.0 422.3L229.5 422.4L230.0 422.4L230.5 422.5L231.0 422.6L231.5 422.6L232.0 422.7L232.5 422.7L233.0 422.8L233.5 422.8L234.0 422.9L234.5 422.9L235.0 423.0L235.5 423.0L236.0 423.1L236.5 423.1L237.0 423.1L237.5 423.2L238.0 423.2L238.5 423.2L239.0 423.2L239.5 423.3L240.0 423.3L240.5 423.3L241.0 423.3L241.5 423.4L242.0 423.4L242.5 423.4L243.0 423.4L243.5 423.4L244.0 423.4L244.5 423.4L245.0 423.4L245.5 423.5L246.0 423.5L246.5 423.5L247.0 423.5L247.5 423.5L248.0 423.5L248.5 423.5L249.0 423.5L249.5 423.5L250.0 423.5L250.5 423.5L251.0 423.5L251.5 423.5L252.0 423.5L252.5 423.6L253.0 423.6L253.5 423.6L254.0 423.6L254.5 423.6L255.0 423.6L255.5 423.6L256.0 423.6L256.5 423.6L257.0 423.6L257.5 423.6L258.0 423.6L258.5 423.6L259.0 423.6L259.5 423.6L260.0 423.6L260.5 423.6L261.0 423.6L261.5 423.6L262.0 423.6L262.5 423.6L263.0 423.6L263.5 423.6L264.0 423.6L264.5 423.6L265.0 423.6L265.5 423.6L266.0 423.6L266.5 423.7L267.0 423.7L267.5 423.7L268.0 423.7L268.5 423.7L269.0 423.7L269.5 423.7L270.0 423.7L270.5 423.7L271.0 423.7L271.5 423.7L272.0 423.7L272.5 423.7L273.0 423.7L273.5 423.7L274.0 423.7L274.5 423.7L275.0 423.7L275.5 423.7L276.0 423.7L276.5 423.7L277.0 423.7L277.5 423.7L278.0 423.7L278.5 423.7L279.0 423.7L279.5 423.7L280.0 423.7L280.5 423.7L281.0 423.7L281.5 423.7L282.0 423.7L282.5 423.7L283.0 423.7L283.5 423.7L284.0 423.7L284.5 423.7L285.0 423.7L285.5 423.7L286.0 423.7L286.5 423.7L287.0 423.7L287.5 423.7L288.0 423.7L288.5 423.7L289.0 423.7L289.5 423.7L290.0 423.7L290.5 423.7" stroke="#8a30e0" stroke-width="1.2" fill="none"/>
<path d="M21.0 417.4L21.5 417.4L22.0 417.4L22.5 417.3L23.0 417.3L23.5 417.3L24.0 417.3L24.5 417.2L25.0 417.2L25.5 417.2L26.0 417.2L26.5 417.1L27.0 417.1L27.5 417.1L28.0 417.0L28.5 417.0L29.0 417.0L29.5 417.0L30.0 416.9L30.5 416.9L31.0 416.9L31.5 416.9L32.0 416.8L32.5 416.8L33.0 416.8L33.5 416.7L34.0 416.7L34.5 416.7L35.0 416.7L35.5 416.6L36.0 416.6L36.5 416.6L37.0 416.6L37.5 416.5L38.0 416.5L38.5 416.5L39.0 416.5L39.5 416.4L40.0 416.4L40.5 416.4L41.0 416.3L41.5 416.3L42.0 416.3L42.5 416.3L43.0 416.2L43.5 416.2L44.0 416.2L44.5 416.2L45.0 416.1L45.5 416.1L46.0 416.1L46.5 416.1L47.0 416.0L47.5 416.0L48.0 416.0L48.5 416.0L49.0 415.9L49.5 415.9L50.0 415.9L50.5 415.9L51.0 415.8L51.5 415.8L52.0 415.8L52.5 415.8L53.0 415.8L53.5 415.7L54.0 415.7L54.5 415.7L55.0 415.7L55.5 415.6L56.0 415.6L56.5 415.6L57.0 415.6L57.5 415.6L58.0 415.5L58.5 415.5L59.0 415.5L59.5 415.5L60.0 415.5L60.5 415.4L61.0 415.4L61.5 415.4L62.0 415.4L62.5 415.4L63.0 415.4L63.5 415.3L64.0 415.3L64.5 415.3L65.0 415.3L65.5 415.3L66.0 415.3L66.5 415.3L67.0 415.2L67.5 415.2L68.0 415.2L68.5 415.2L69.0 415.2L69.5 415.2L70.0 415.2L70.5 415.2L71.0 415.1L71.5 415.1L72.0 415.1L72.5 415.1L73.0 415.1L73.5 415.1L74.0 415.1L74.5 415.1L75.0 415.1L75.5 415.1L76.0 415.1L76.5 415.1L77.0 415.1L77.5 415.0L78.0 415.0L78.5 415.0L79.0 415.0L79.5 415.0L80.0 415.0L80.5 415.0L81.0 415.0L81.5 415.0L82.0 415.0L82.5 415.0L83.0 415.0L83.5 415.0L84.0 415.0L84.5 415.0L85.0 415.0L85.5 415.0L86.0 415.0L86.5 415.0L87.0 415.0L87.5 415.0L88.0 415.0L88.5 415.1L89.0 415.1L89.5 415.1L90.0 415.1L90.5 415.1L91.0 415.1L91.5 415.1L92.0 415.1L92.5 415.1L93.0 415.1L93.5 415.1L94.0 415.1L94.5 415.2L95.0 415.2L95.5 415.2L96.0 415.2L96.5 415.2L97.0 415.2L97.5 415.2L98.0 415.2L98.5 415.3L99.0 415.3L99.5 415.3L100.0 415.3L100.5 415.3L101.0 415.3L101.5 415.3L102.0 415.4L102.5 415.4L103.0 415.4L103.5 415.4L104.0 415.4L104.5 415.5L105.0 415.5L105.5 415.5L106.0 415.5L106.5 415.5L107.0 415.6L107.5 415.6L108.0 415.6L108.5 415.6L109.0 415.6L109.5 415.7L110.0 415.7L110.5 415.7L111.0 415.7L111.5 415.8L112.0 415.8L112.5 415.8L113.0 415.8L113.5 415.9L114.0 415.9L114.5 415.9L115.0 415.9L115.5 416.0L116.0 416.0L116.5 416.0L117.0 416.0L117.5 416.1L118.0 416.1L118.5 416.1L119.0 416.2L119.5 416.2L120.0 416.2L120.5 416.2L121.0 416.3L121.5 416.3L122.0 416.3L122.5 416.4L123.0 416.4L123.5 416.4L124.0 416.4L124.5 416.5L125.0 416.5L125.5 416.5L126.0 416.6L126.5 416.6L127.0 416.6L127.5 416.7L128.0 416.7L128.5 416.7L129.0 416.8L129.5 416.8L130.0 416.8L130.5 416.9L131.0 416.9L131.5 416.9L132.0 416.9L132.5 417.0L133.0 417.0L133.5 417.0L134.0 417.1L134.5 417.1L135.0 417.1L135.5 417.2L136.0 417.2L136.5 417.2L137.0 417.3L137.5 417.3L138.0 417.3L138.5 417.4L139.0 417.4L139.5 417.4L140.0 417.5L140.5 417.5L141.0 417.5L141.5 417.5L142.0 417.6L142.5 417.6L143.0 417.6L143.5 417.7L144.0 417.7L144.5 417.7L145.0 417.8L145.5 417.8L146.0 417.8L146.5 417.9L147.0 417.9L147.5 417.9L148.0 418.0L148.5 418.0L149.0 418.0L149.5 418.0L150.0 418.1L150.5 418.1L151.0 418.1L151.5 418.2L152.0 418.2L152.5 418.2L153.0 418.3L153.5 418.3L154.0 418.3L154.5 418.3L155.0 418.4L155.5 418.4L156.0 418.4L156.5 418.5L157.0 418.5L157.5 418.5L158.0 418.6L158.5 418.6L159.0 418.6L159.5 418.6L160.0 418.7L160.5 418.7L161.0 418.7L161.5 418.8L162.0 418.8L162.5 418.8L163.0 418.8L163.5 418.9L164.0 418.9L164.5 418.9L165.0 418.9L165.5 419.0L166.0 419.0L166.5 419.0L167.0 419.1L167.5 419.1L168.0 419.1L168.5 419.1L169.0 419.2L169.5 419.2L170.0 419.2L170.5 419.2L171.0 419.3L171.5 419.3L172.0 419.3L172.5 419.3L173.0 419.4L173.5 419.4L174.0 419.4L174.5 419.5L175.0 419.5L175.5 419.5L176.0 419.5L176.5 419.6L177.0 419.6L177.5 419.6L178.0 419.6L178.5 419.6L179.0 419.7L179.5 419.7L180.0 419.7L180.5 419.7L181.0 419.8L181.5 419.8L182.0 419.8L182.5 419.8L183.0 419.9L183.5 419.9L184.0 419.9L184.5 419.9L185.0 419.9L185.5 420.0L186.0 420.0L186.5 420.0L187.0 420.0L187.5 420.1L188.0 420.1L188.5 420.1L189.0 420.1L189.5 420.1L190.0 420.2L190.5 420.2L191.0 420.2L191.5 420.2L192.0 420.2L192.5 420.3L193.0 420.3L193.5 420.3L194.0 420.3L194.5 420.4L195.0 420.4L195.5 420.4L196.0 420.4L196.5 420.4L197.0 420.5L197.5 420.5L198.0 420.5L198.5 420.5L199.0 420.5L199.5 420.6L200.0 420.6L200.5 420.6L201.0 420.6L201.5 420.6L202.0 420.7L202.5 420.7L203.0 420.7L203.5 420.7L204.0 420.8L204.5 420.8L205.0 420.8L205.5 420.8L206.0 420.8L206.5 420.9L207.0 420.9L207.5 420.9L208.0 420.9L208.5 420.9L209.0 421.0L209.5 421.0L210.0 421.0L210.5 421.0L211.0 421.1L211.5 421.1L212.0 421.1L212.5 421.1L213.0 421.2L213.5 421.2L214.0 421.2L214.5 421.2L215.0 421.3L215.5 421.3L216.0 421.3L216.5 421.4L217.0 421.4L217.5 421.4L218.0 421.5L218.5 421.5L219.0 421.5L219.5 421.6L220.0 421.6L220.5 421.7L221.0 421.7L221.5 421.8L222.0 421.8L222.5 421.9L223.0 421.9L223.5 422.0L224.0 422.0L224.5 422.1L225.0 422.2L225.5 422.2L226.0 422.3L226.5 422.4L227.0 422.4L227.5 422.5L228.0 422.5L228.5 422.6L229.0 422.7L229.5 422.7L230.0 422.8L230.5 422.9L231.0 422.9L231.5 423.0L232.0 423.0L232.5 423.1L233.0 423.1L233.5 423.2L234.0 423.2L234.5 423.3L235.0 423.3L235.5 423.4L236.0 423.4L236.5 423.4L237.0 423.5L237.5 423.5L238.0 423.5L238.5 423.6L239.0 423.6L239.5 423.6L240.0 423.6L240.5 423.6L241.0 423.7L241.5 423.7L242.0 423.7L242.5 423.7L243.0 423.7L243.5 423.7L244.0 423.7L244.5 423.8L245.0 423.8L245.5 423.8L246.0 423.8L246.5 423.8L247.0 423.8L247.5 423.8L248.0 423.8L248.5 423.8L249.0 423.8L249.5 423.8L250.0 423.8L250.5 423.8L251.0 423.8L251.5 423.8L252.0 423.9L252.5 423.9L253.0 423.9L253.5 423.9L254.0 423.9L254.5 423.9L255.0 423.9L255.5 423.9L256.0 423.9L256.5 423.9L257.0 423.9L257.5 423.9L258.0 423.9L258.5 423.9L259.0 423.9L259.5 423.9L260.0 423.9L260.5 423.9L261.0 423.9L261.5 423.9L262.0 423.9L262.5 423.9L263.0 423.9L263.5 423.9L264.0 423.9L264.5 423.9L265.0 423.9L265.5 423.9L266.0 423.9L266.5 423.9L267.0 423.9L267.5 423.9L268.0 423.9L268.5 423.9L269.0 423.9L269.5 423.9L270.0 423.9L270.5 423.9L271.0 423.9L271.5 423.9L272.0 423.9L272.5 423.9L273.0 423.9L273.5 423.9L274.0 423.9L274.5 423.9L275.0 423.9L275.5 423.9L276.0 423.9L276.5 423.9L277.0 423.9L277.5 423.9L278.0 423.9L278.5 423.9L279.0 423.9L279.5 423.9L280.0 423.9L280.5 423.9L281.0 423.9L281.5 423.9L282.0 423.9L282.5 423.9L283.0 423.9L283.5 423.9L284.0 423.9L284.5 423.9L285.0 423.9L285.5 423.9L286.0 423.9L286.5 423.9L287.0 423.9L287.5 423.9L288.0 423.9L288.5 424.0L289.0 424.0L289.5 424.0L290.0 424.0L290.5 424.0" stroke="#d030e0" stroke-width="1.2" fill="none"/>
<path d="M21.0 419.8L21.5 419.8L22.0 419.8L22.5 419.8L23.0 419.8L23.5 419.8L24.0 419.8L24.5 419.8L25.0 419.8L25.5 419.8L26.0 419.8L26.5 419.8L27.0 419.8L27.5 419.8L28.0 419.8L28.5 419.8L29.0 419.8L29.5 419.8L30.0 419.8L30.5 419.8L31.0 419.8L31.5 419.8L32.0 419.8L32.5 419.8L33.0 419.8L33.5 419.8L34.0 419.8L34.5 419.8L35.0 419.8L35.5 419.8L36.0 419.8L36.5 419.8L37.0 419.8L37.5 419.8L38.0 419.8L38.5 419.8L39.0 419.8L39.5 419.8L40.0 419.8L40.5 419.8L41.0 419.8L41.5 419.8L42.0 419.8L42.5 419.8L43.0 419.8L43.5 419.8L44.0 419.8L44.5 419.8L45.0 419.8L45.5 419.8L46.0 419.8L46.5 419.8L47.0 419.8L47.5 419.8L48.0 419.8L48.5 419.8L49.0 419.8L49.5 419.8L50.0 419.8L50.5 419.9L51.0 419.9L51.5 419.9L52.0 419.9L52.5 419.9L53.0 419.9L53.5 419.9L54.0 419.9L54.5 419.9L55.0 419.9L55.5 419.9L56.0 419.9L56.5 419.9L57.0 419.9L57.5 419.9L58.0 419.9L58.5 419.9L59.0 419.9L59.5 419.9L60.0 419.9L60.5 419.9L61.0 419.9L61.5 419.9L62.0 419.9L62.5 419.9L63.0 419.9L63.5 419.9L64.0 419.9L64.5 419.9L65.0 419.9L65.5 419.9L66.0 419.9L66.5 419.9L67.0 419.9L67.5 419.9L68.0 419.9L68.5 419.9L69.0 419.9L69.5 419.9L70.0 419.9L70.5 419.9L71.0 419.9L71.5 419.9L72.0 420.0L72.5 420.0L73.0 420.0L73.5 420.0L74.0 420.0L74.5 420.0L75.0 420.0L75.5 420.0L76.0 420.0L76.5 420.0L77.0 420.0L77.5 420.0L78.0 420.0L78.5 420.0L79.0 420.0L79.5 420.0L80.0 420.0L80.5 420.0L81.0 420.0L81.5 420.0L82.0 420.0L82.5 420.0L83.0 420.0L83.5 420.0L84.0 420.0L84.5 420.0L85.0 420.0L85.5 420.0L86.0 420.0L86.5 420.0L87.0 420.0L87.5 420.0L88.0 420.0L88.5 420.0L89.0 420.1L89.5 420.1L90.0 420.1L90.5 420.1L91.0 420.1L91.5 420.1L92.0 420.1L92.5 420.1L93.0 420.1L93.5 420.1L94.0 420.1L94.5 420.1L95.0 420.1L95.5 420.1L96.0 420.1L96.5 420.1L97.0 420.1L97.5 420.1L98.0 420.1L98.5 420.1L99.0 420.1L99.5 420.1L100.0 420.1L100.5 420.1L101.0 420.1L101.5 420.1L102.0 420.1L102.5 420.1L103.0 420.1L103.5 420.2L104.0 420.2L104.5 420.2L105.0 420.2L105.5 420.2L106.0 420.2L106.5 420.2L107.0 420.2L107.5 420.2L108.0 420.2L108.5 420.2L109.0 420.2L109.5 420.2L110.0 420.2L110.5 420.2L111.0 420.2L111.5 420.2L112.0 420.2L112.5 420.2L113.0 420.2L113.5 420.2L114.0 420.2L114.5 420.2L115.0 420.2L115.5 420.2L116.0 420.2L116.5 420.2L117.0 420.3L117.5 420.3L118.0 420.3L118.5 420.3L119.0 420.3L119.5 420.3L120.0 420.3L120.5 420.3L121.0 420.3L121.5 420.3L122.0 420.3L122.5 420.3L123.0 420.3L123.5 420.3L124.0 420.3L124.5 420.3L125.0 420.3L125.5 420.3L126.0 420.3L126.5 420.3L127.0 420.3L127.5 420.3L128.0 420.3L128.5 420.3L129.0 420.3L129.5 420.3L130.0 420.3L130.5 420.3L131.0 420.4L131.5 420.4L132.0 420.4L132.5 420.4L133.0 420.4L133.5 420.4L134.0 420.4L134.5 420.4L135.0 420.4L135.5 420.4L136.0 420.4L136.5 420.4L137.0 420.4L137.5 420.4L138.0 420.4L138.5 420.4L139.0 420.4L139.5 420.4L140.0 420.4L140.5 420.4L141.0 420.4L141.5 420.4L142.0 420.4L142.5 420.4L143.0 420.4L143.5 420.4L144.0 420.4L144.5 420.4L145.0 420.4L145.5 420.4L146.0 420.4L146.5 420.4L147.0 420.4L147.5 420.5L148.0 420.5L148.5 420.5L149.0 420.5L149.5 420.5L150.0 420.5L150.5 420.5L151.0 420.5L151.5 420.5L152.0 420.5L152.5 420.5L153.0 420.5L153.5 420.5L154.0 420.5L154.5 420.5L155.0 420.5L155.5 420.5L156.0 420.5L156.5 420.5L157.0 420.5L157.5 420.5L158.0 420.5L158.5 420.5L159.0 420.5L159.5 420.5L160.0 420.5L160.5 420.5L161.0 420.5L161.5 420.5L162.0 420.5L162.5 420.5L163.0 420.6L163.5 420.6L164.0 420.6L164.5 420.6L165.0 420.6L165.5 420.6L166.0 420.6L166.5 420.6L167.0 420.6L167.5 420.6L168.0 420.6L168.5 420.6L169.0 420.6L169.5 420.6L170.0 420.6L170.5 420.6L171.0 420.6L171.5 420.6L172.0 420.6L172.5 420.6L173.0 420.6L173.5 420.7L174.0 420.7L174.5 420.7L175.0 420.7L175.5 420.7L176.0 420.7L176.5 420.7L177.0 420.7L177.5 420.7L178.0 420.7L178.5 420.7L179.0 420.7L179.5 420.7L180.0 420.7L180.5 420.7L181.0 420.7L181.5 420.8L182.0 420.8L182.5 420.8L183.0 420.8L183.5 420.8L184.0 420.8L184.5 420.8L185.0 420.8L185.5 420.8L186.0 420.8L186.5 420.8L187.0 420.8L187.5 420.8L188.0 420.8L188.5 420.8L189.0 420.9L189.5 420.9L190.0 420.9L190.5 420.9L191.0 420.9L191.5 420.9L192.0 420.9L192.5 420.9L193.0 420.9L193.5 420.9L194.0 420.9L194.5 420.9L195.0 421.0L195.5 421.0L196.0 421.0L196.5 421.0L197.0 421.0L197.5 421.0L198.0 421.0L198.5 421.0L199.0 421.0L199.5 421.1L200.0 421.1L200.5 421.1L201.0 421.1L201.5 421.1L202.0 421.1L202.5 421.1L203.0 421.1L203.5 421.1L204.0 421.2L204.5 421.2L205.0 421.2L205.5 421.2L206.0 421.2L206.5 421.2L207.0 421.2L207.5 421.3L208.0 421.3L208.5 421.3L209.0 421.3L209.5 421.3L210.0 421.3L210.5 421.3L211.0 421.4L211.5 421.4L212.0 421.4L212.5 421.4L213.0 421.4L213.5 421.4L214.0 421.5L214.5 421.5L215.0 421.5L215.5 421.5L216.0 421.6L216.5 421.6L217.0 421.6L217.5 421.6L218.0 421.7L218.5 421.7L219.0 421.7L219.5 421.8L220.0 421.8L220.5 421.9L221.0 421.9L221.5 421.9L222.0 422.0L222.5 422.0L223.0 422.1L223.5 422.1L224.0 422.2L224.5 422.3L225.0 422.3L225.5 422.4L226.0 422.4L226.5 422.5L227.0 422.6L227.5 422.6L228.0 422.7L228.5 422.7L229.0 422.8L229.5 422.9L230.0 422.9L230.5 423.0L231.0 423.0L231.5 423.1L232.0 423.1L232.5 423.2L233.0 423.2L233.5 423.3L234.0 423.3L234.5 423.4L235.0 423.4L235.5 423.5L236.0 423.5L236.5 423.5L237.0 423.6L237.5 423.6L238.0 423.6L238.5 423.6L239.0 423.7L239.5 423.7L240.0 423.7L240.5 423.7L241.0 423.7L241.5 423.7L242.0 423.8L242.5 423.8L243.0 423.8L243.5 423.8L244.0 423.8L244.5 423.8L245.0 423.8L245.5 423.8L246.0 423.8L246.5 423.8L247.0 423.8L247.5 423.9L248.0 423.9L248.5 423.9L249.0 423.9L249.5 423.9L250.0 423.9L250.5 423.9L251.0 423.9L251.5 423.9L252.0 423.9L252.5 423.9L253.0 423.9L253.5 423.9L254.0 423.9L254.5 423.9L255.0 423.9L255.5 423.9L256.0 423.9L256.5 423.9L257.0 423.9L257.5 423.9L258.0 423.9L258.5 423.9L259.0 423.9L259.5 423.9L260.0 423.9L260.5 423.9L261.0 423.9L261.5 423.9L262.0 423.9L262.5 423.9L263.0 423.9L263.5 423.9L264.0 423.9L264.5 423.9L265.0 423.9L265.5 423.9L266.0 423.9L266.5 423.9L267.0 423.9L267.5 423.9L268.0 423.9L268.5 423.9L269.0 423.9L269.5 423.9L270.0 423.9L270.5 423.9L271.0 423.9L271.5 423.9L272.0 423.9L272.5 423.9L273.0 423.9L273.5 423.9L274.0 423.9L274.5 423.9L275.0 423.9L275.5 423.9L276.0 423.9L276.5 423.9L277.0 423.9L277.5 423.9L278.0 423.9L278.5 423.9L279.0 423.9L279.5 423.9L280.0 423.9L280.5 423.9L281.0 423.9L281.5 423.9L282.0 423.9L282.5 423.9L283.0 423.9L283.5 423.9L284.0 423.9L284.5 423.9L285.0 424.0L285.5 424.0L286.0 424.0L286.5 424.0L287.0 424.0L287.5 424.0L288.0 424.0L288.5 424.0L289.0 424.0L289.5 424.0L290.0 424.0L290.5 424.0" stroke="#8418cc" stroke-width="1.25" fill="none"/>
<text x="242.15" y="314.40" font-size="11.20" textLength="22.84" lengthAdjust="spacingAndGlyphs" fill="#111">C-C</text>
<text x="246.46" y="358.40" font-size="11.20" textLength="25.73" lengthAdjust="spacingAndGlyphs" fill="#111">C=C</text>
<text x="173.25" y="367.00" font-size="11.20" textLength="32.90" lengthAdjust="spacingAndGlyphs" fill="#111">C-OH</text>
<text x="152.46" y="389.60" font-size="11.20" textLength="36.52" lengthAdjust="spacingAndGlyphs" fill="#111">C-O-C</text>
<text x="117.76" y="399.40" font-size="11.20" textLength="26.24" lengthAdjust="spacingAndGlyphs" fill="#111">C=O</text>
<text x="69.70" y="399.40" font-size="11.20" textLength="40.30" lengthAdjust="spacingAndGlyphs" fill="#111">O-C=O</text>
<path d="M228.00 326.90L238.41 315.82" stroke="#111" stroke-width="1.05" fill="none"/>
<path d="M241.90 312.10L239.31 317.35L236.83 315.02Z" fill="#111"/>
<path d="M232.30 371.00L242.30 361.51" stroke="#111" stroke-width="1.05" fill="none"/>
<path d="M246.00 358.00L243.11 363.09L240.77 360.62Z" fill="#111"/>
<path d="M211.00 394.30L203.88 373.82" stroke="#111" stroke-width="1.05" fill="none"/>
<path d="M202.20 369.00L205.65 373.73L202.43 374.85Z" fill="#111"/>
<path d="M182.80 409.80L178.53 396.26" stroke="#111" stroke-width="1.05" fill="none"/>
<path d="M177.00 391.40L180.30 396.23L177.06 397.25Z" fill="#111"/>
<path d="M139.70 414.70L136.90 406.24" stroke="#111" stroke-width="1.05" fill="none"/>
<path d="M135.30 401.40L138.67 406.18L135.44 407.25Z" fill="#111"/>
<path d="M90.90 414.70L90.34 406.49" stroke="#111" stroke-width="1.05" fill="none"/>
<path d="M90.00 401.40L92.07 406.87L88.68 407.10Z" fill="#111"/>
<rect x="336.10" y="256.70" width="261.50" height="197.80" fill="none" stroke="#000" stroke-width="1.65"/>
<path d="M359.87 454.50V449.90M407.42 454.50V449.90M454.96 454.50V449.90M502.51 454.50V449.90M550.05 454.50V449.90M597.60 454.50V449.90M336.10 454.50V451.80M383.65 454.50V451.80M431.19 454.50V451.80M478.74 454.50V451.80M526.28 454.50V451.80M573.83 454.50V451.80" stroke="#000" stroke-width="1.6" fill="none"/>
<text x="359.87" y="469.00" font-size="12.10" text-anchor="middle" fill="#111" >292</text>
<text x="407.42" y="469.00" font-size="12.10" text-anchor="middle" fill="#111" >290</text>
<text x="454.96" y="469.00" font-size="12.10" text-anchor="middle" fill="#111" >288</text>
<text x="502.51" y="469.00" font-size="12.10" text-anchor="middle" fill="#111" >286</text>
<text x="550.05" y="469.00" font-size="12.10" text-anchor="middle" fill="#111" >284</text>
<text x="597.60" y="469.00" font-size="12.10" text-anchor="middle" fill="#111" >282</text>
<text x="440.77" y="485.20" font-size="12.20" textLength="47.51" lengthAdjust="spacingAndGlyphs" fill="#111">B.E.(eV)</text>
<text x="347.78" y="282.90" font-size="20.00" textLength="13.70" lengthAdjust="spacingAndGlyphs" font-weight="bold" fill="#111">d</text>
<text transform="translate(324.80 377.40) rotate(-90)" font-size="11.9" textLength="25.10" lengthAdjust="spacingAndGlyphs" fill="#111">CPS</text>
<path d="M322.80 352.70V341.80" stroke="#111" stroke-width="1.0"/>
<path d="M322.80 339.80L320.70 342.80L324.90 342.80Z" fill="#111"/>
<path d="M455.9 427.8L456.4 427.8L456.9 427.7L457.4 427.7L457.9 427.7L458.4 427.6L458.9 427.6L459.4 427.6L459.9 427.5L460.4 427.5L460.9 427.5L461.4 427.4L461.9 427.4L462.4 427.3L462.9 427.2L463.4 427.2L463.9 427.1L464.4 427.1L464.9 427.0L465.4 426.9L465.9 426.8L466.4 426.8L466.9 426.7L467.4 426.6L467.9 426.5L468.4 426.4L468.9 426.3L469.4 426.2L469.9 426.1L470.4 426.0L470.9 425.8L471.4 425.7L471.9 425.6L472.4 425.5L472.9 425.3L473.4 425.2L473.9 425.0L474.4 424.9L474.9 424.7L475.4 424.6L475.9 424.4L476.4 424.2L476.9 424.1L477.4 423.9L477.9 423.7L478.4 423.5L478.9 423.3L479.4 423.1L479.9 422.9L480.4 422.7L480.9 422.6L481.4 422.3L481.9 422.1L482.4 421.9L482.9 421.7L483.4 421.5L483.9 421.3L484.4 421.1L484.9 420.9L485.4 420.7L485.9 420.5L486.4 420.3L486.9 420.1L487.4 419.9L487.9 419.7L488.4 419.5L488.9 419.3L489.4 419.1L489.9 419.0L490.4 418.8L490.9 418.6L491.4 418.4L491.9 418.3L492.4 418.1L492.9 418.0L493.4 417.9L493.9 417.7L494.4 417.6L494.9 417.5L495.4 417.4L495.9 417.3L496.4 417.2L496.9 417.1L497.4 417.1L497.9 417.0L498.4 417.0L498.9 416.9L499.4 416.9L499.9 416.9L500.4 416.9L500.9 416.9L501.4 416.9L501.9 416.9L502.4 417.0L502.9 417.0L503.4 417.1L503.9 417.2L504.4 417.2L504.9 417.3L505.4 417.4L505.9 417.5L506.4 417.7L506.9 417.8L507.4 417.9L507.9 418.1L508.4 418.2L508.9 418.4L509.4 418.6L509.9 418.8L510.4 419.0L510.9 419.2L511.4 419.4L511.9 419.6L512.4 419.8L512.9 420.0L513.4 420.3L513.9 420.5L514.4 420.7L514.9 421.0L515.4 421.2L515.9 421.5L516.4 421.7L516.9 422.0L517.4 422.2L517.9 422.5L518.4 422.7L518.9 423.0L519.4 423.2L519.9 423.5L520.4 423.8L520.9 424.0L521.4 424.3L521.9 424.5L522.4 424.8L522.9 425.0L523.4 425.3L523.9 425.5L524.4 425.8L524.9 426.0L525.4 426.3L525.9 426.5L526.4 426.7L526.9 427.0L527.4 427.2L527.9 427.4L528.4 427.6L528.9 427.8L529.4 428.1L529.9 428.3L530.4 428.5L530.9 428.7L531.4 428.9L531.9 429.0L532.4 429.2L532.9 429.4L533.4 429.6L533.9 429.8L534.4 429.9L534.9 430.1L535.4 430.2L535.9 430.4L536.4 430.6L536.9 430.7L537.4 430.8L537.9 431.0L538.4 431.1L538.9 431.2L539.4 431.4L539.9 431.5L540.4 431.6L540.9 431.7L541.4 431.8L541.9 431.9L542.4 432.0L542.9 432.1L543.4 432.2L543.9 432.3L544.4 432.4L544.9 432.5L545.4 432.5L545.9 432.6L545.90 432.96L545.40 432.91L544.90 432.87L544.40 432.82L543.90 432.77L543.40 432.71L542.90 432.66L542.40 432.60L541.90 432.54L541.40 432.48L540.90 432.42L540.40 432.36L539.90 432.29L539.40 432.22L538.90 432.16L538.40 432.09L537.90 432.02L537.40 431.95L536.90 431.88L536.40 431.81L535.90 431.73L535.40 431.66L534.90 431.59L534.40 431.52L533.90 431.45L533.40 431.37L532.90 431.30L532.40 431.23L531.90 431.16L531.40 431.09L530.90 431.01L530.40 430.94L529.90 430.87L529.40 430.80L528.90 430.73L528.40 430.66L527.90 430.60L527.40 430.53L526.90 430.46L526.40 430.40L525.90 430.33L525.40 430.27L524.90 430.20L524.40 430.14L523.90 430.08L523.40 430.02L522.90 429.96L522.40 429.91L521.90 429.85L521.40 429.80L520.90 429.74L520.40 429.69L519.90 429.64L519.40 429.59L518.90 429.54L518.40 429.50L517.90 429.45L517.40 429.41L516.90 429.36L516.40 429.32L515.90 429.28L515.40 429.24L514.90 429.21L514.40 429.17L513.90 429.14L513.40 429.10L512.90 429.07L512.40 429.04L511.90 429.01L511.40 428.98L510.90 428.95L510.40 428.93L509.90 428.90L509.40 428.88L508.90 428.86L508.40 428.84L507.90 428.81L507.40 428.79L506.90 428.78L506.40 428.76L505.90 428.74L505.40 428.72L504.90 428.71L504.40 428.69L503.90 428.68L503.40 428.66L502.90 428.65L502.40 428.64L501.90 428.62L501.40 428.61L500.90 428.60L500.40 428.59L499.90 428.58L499.40 428.56L498.90 428.55L498.40 428.54L497.90 428.53L497.40 428.52L496.90 428.51L496.40 428.50L495.90 428.50L495.40 428.49L494.90 428.48L494.40 428.47L493.90 428.46L493.40 428.45L492.90 428.44L492.40 428.43L491.90 428.43L491.40 428.42L490.90 428.41L490.40 428.40L489.90 428.40L489.40 428.39L488.90 428.38L488.40 428.37L487.90 428.37L487.40 428.36L486.90 428.35L486.40 428.35L485.90 428.34L485.40 428.33L484.90 428.33L484.40 428.32L483.90 428.32L483.40 428.31L482.90 428.30L482.40 428.30L481.90 428.29L481.40 428.29L480.90 428.28L480.40 428.28L479.90 428.27L479.40 428.27L478.90 428.26L478.40 428.26L477.90 428.25L477.40 428.25L476.90 428.25L476.40 428.24L475.90 428.24L475.40 428.23L474.90 428.23L474.40 428.23L473.90 428.22L473.40 428.22L472.90 428.22L472.40 428.21L471.90 428.21L471.40 428.21L470.90 428.20L470.40 428.20L469.90 428.20L469.40 428.19L468.90 428.19L468.40 428.19L467.90 428.19L467.40 428.18L466.90 428.18L466.40 428.18L465.90 428.18L465.40 428.17L464.90 428.17L464.40 428.17L463.90 428.17L463.40 428.16L462.90 428.16L462.40 428.16L461.90 428.16L461.40 428.16L460.90 428.15L460.40 428.15L459.90 428.15L459.40 428.15L458.90 428.14L458.40 428.14L457.90 428.14L457.40 428.14L456.90 428.14L456.40 428.13L455.90 428.13Z" fill="#fff9e2" stroke="none"/>
<path d="M336.9 427.8L337.4 428.3L337.9 428.3L338.4 427.7L338.9 427.4L339.4 427.5L339.9 427.6L340.4 427.7L340.9 427.8L341.4 427.9L341.9 427.7L342.4 427.8L342.9 427.7L343.4 427.8L343.9 428.2L344.4 428.3L344.9 428.2L345.4 428.1L345.9 428.3L346.4 428.3L346.9 427.8L347.4 427.6L347.9 428.1L348.4 428.4L348.9 428.2L349.4 428.2L349.9 428.1L350.4 428.0L350.9 427.8L351.4 427.9L351.9 428.0L352.4 427.7L352.9 427.9L353.4 428.5L353.9 428.4L354.4 427.9L354.9 427.4L355.4 426.9L355.9 427.2L356.4 427.9L356.9 428.1L357.4 427.5L357.9 427.8L358.4 428.6L358.9 428.6L359.4 428.4L359.9 428.4L360.4 428.1L360.9 428.0L361.4 428.3L361.9 428.2L362.4 428.0L362.9 428.0L363.4 427.6L363.9 428.0L364.4 428.7L364.9 428.4L365.4 427.9L365.9 427.7L366.4 427.6L366.9 427.6L367.4 427.8L367.9 428.4L368.4 428.7L368.9 428.7L369.4 428.5L369.9 428.3L370.4 428.4L370.9 428.5L371.4 428.4L371.9 428.0L372.4 428.0L372.9 428.4L373.4 428.3L373.9 427.9L374.4 427.7L374.9 427.8L375.4 428.1L375.9 428.1L376.4 427.8L376.9 427.8L377.4 427.8L377.9 427.7L378.4 428.0L378.9 428.0L379.4 427.4L379.9 426.9L380.4 426.8L380.9 427.2L381.4 427.3L381.9 427.4L382.4 427.8L382.9 427.8L383.4 427.4L383.9 427.3L384.4 427.8L384.9 428.0L385.4 427.8L385.9 427.6L386.4 427.7L386.9 427.9L387.4 428.0L387.9 428.0L388.4 428.1L388.9 427.9L389.4 427.3L389.9 427.3L390.4 427.8L390.9 427.6L391.4 427.2L391.9 427.2L392.4 427.4L392.9 427.3L393.4 427.4L393.9 427.8L394.4 428.0L394.9 428.0L395.4 427.4L395.9 427.1L396.4 427.0L396.9 427.0L397.4 427.3L397.9 427.4L398.4 427.2L398.9 427.1L399.4 427.1L399.9 427.1L400.4 427.0L400.9 427.1L401.4 427.3L401.9 426.8L402.4 426.5L402.9 427.0L403.4 427.0L403.9 427.2L404.4 427.7L404.9 427.2L405.4 426.6L405.9 426.7L406.4 427.0L406.9 427.1L407.4 427.4L407.9 427.3L408.4 426.8L408.9 426.9L409.4 427.0L409.9 426.7L410.4 426.7L410.9 427.0L411.4 426.8L411.9 426.3L412.4 426.2L412.9 426.4L413.4 426.4L413.9 426.5L414.4 426.6L414.9 426.2L415.4 426.0L415.9 426.0L416.4 425.6L416.9 425.8L417.4 426.1L417.9 425.8L418.4 425.9L418.9 426.4L419.4 426.4L419.9 426.2L420.4 426.0L420.9 425.9L421.4 425.9L421.9 426.2L422.4 426.6L422.9 426.3L423.4 425.8L423.9 425.7L424.4 425.5L424.9 425.2L425.4 425.4L425.9 425.7L426.4 425.3L426.9 425.3L427.4 425.8L427.9 425.8L428.4 425.4L428.9 425.5L429.4 425.6L429.9 425.6L430.4 425.5L430.9 425.2L431.4 425.3L431.9 425.1L432.4 425.1L432.9 425.3L433.4 425.2L433.9 425.0L434.4 424.5L434.9 424.0L435.4 424.1L435.9 424.5L436.4 425.0L436.9 425.1L437.4 424.7L437.9 424.2L438.4 424.0L438.9 424.2L439.4 424.1L439.9 423.9L440.4 424.4L440.9 424.9L441.4 424.7L441.9 424.1L442.4 423.9L442.9 423.8L443.4 423.5L443.9 423.4L444.4 423.6L444.9 423.9L445.4 424.1L445.9 424.1L446.4 423.6L446.9 423.3L447.4 423.6L447.9 423.8L448.4 423.9L448.9 423.9L449.4 423.6L449.9 423.5L450.4 423.3L450.9 423.4L451.4 423.6L451.9 423.4L452.4 423.2L452.9 422.9L453.4 423.0L453.9 423.0L454.4 422.8L454.9 423.1L455.4 423.6L455.9 423.3L456.4 422.8L456.9 422.8L457.4 422.8L457.9 422.4L458.4 422.5L458.9 422.8L459.4 422.7L459.9 422.6L460.4 422.4L460.9 422.4L461.4 422.5L461.9 422.4L462.4 422.4L462.9 422.4L463.4 422.4L463.9 422.1L464.4 421.8L464.9 421.7L465.4 421.5L465.9 421.1L466.4 420.8L466.9 421.0L467.4 421.2L467.9 421.0L468.4 421.2L468.9 421.6L469.4 421.3L469.9 420.7L470.4 420.5L470.9 420.5L471.4 420.3L471.9 420.3L472.4 420.3L472.9 420.0L473.4 419.7L473.9 419.4L474.4 419.0L474.9 419.0L475.4 419.3L475.9 418.9L476.4 418.5L476.9 418.5L477.4 418.5L477.9 418.2L478.4 418.0L478.9 417.8L479.4 417.8L479.9 417.9L480.4 417.8L480.9 417.7L481.4 417.4L481.9 417.0L482.4 417.1L482.9 417.2L483.4 416.7L483.9 416.5L484.4 416.2L484.9 416.0L485.4 416.1L485.9 416.1L486.4 415.9L486.9 415.6L487.4 415.2L487.9 414.8L488.4 414.7L488.9 414.5L489.4 414.0L489.9 413.6L490.4 413.3L490.9 413.0L491.4 412.4L491.9 411.9L492.4 411.5L492.9 411.1L493.4 410.8L493.9 410.4L494.4 409.7L494.9 409.2L495.4 408.7L495.9 407.8L496.4 407.2L496.9 406.8L497.4 406.3L497.9 405.5L498.4 404.5L498.9 403.6L499.4 402.8L499.9 401.8L500.4 400.8L500.9 400.0L501.4 399.3L501.9 398.4L502.4 397.3L502.9 396.3L503.4 395.2L503.9 393.8L504.4 392.6L504.9 391.8L505.4 390.7L505.9 389.2L506.4 387.6L506.9 386.1L507.4 384.7L507.9 383.1L508.4 381.4L508.9 379.4L509.4 377.2L509.9 375.2L510.4 373.2L510.9 370.9L511.4 368.7L511.9 366.4L512.4 363.7L512.9 361.1L513.4 358.5L513.9 355.6L514.4 352.6L514.9 349.6L515.4 346.8L515.9 343.9L516.4 340.7L516.9 337.3L517.4 333.9L517.9 330.8L518.4 327.7L518.9 324.6L519.4 321.7L519.9 318.9L520.4 316.0L520.9 313.1L521.4 310.5L521.9 308.0L522.4 305.5L522.9 303.4L523.4 301.5L523.9 299.6L524.4 298.0L524.9 296.7L525.4 295.5L525.9 294.1L526.4 292.7L526.9 292.0L527.4 291.5L527.9 291.0L528.4 290.6L528.9 290.4L529.4 289.8L529.9 289.2L530.4 288.7L530.9 288.6L531.4 288.7L531.9 288.4L532.4 288.0L532.9 287.6L533.4 287.5L533.9 287.5L534.4 287.4L534.9 287.2L535.4 287.4L535.9 287.7L536.4 287.5L536.9 287.5L537.4 287.8L537.9 288.2L538.4 288.5L538.9 288.8L539.4 289.0L539.9 289.4L540.4 289.7L540.9 290.1L541.4 290.9L541.9 291.4L542.4 291.8L542.9 293.0L543.4 294.9L543.9 297.2L544.4 299.7L544.9 302.5L545.4 306.3L545.9 311.1L546.4 316.4L546.9 321.9L547.4 328.0L547.9 334.4L548.4 340.7L548.9 346.9L549.4 353.3L549.9 359.5L550.4 365.5L550.9 371.3L551.4 376.7L551.9 381.7L552.4 386.3L552.9 390.7L553.4 394.6L553.9 397.8L554.4 401.0L554.9 403.9L555.4 406.4L555.9 408.9L556.4 410.9L556.9 412.7L557.4 414.5L557.9 416.1L558.4 417.4L558.9 418.7L559.4 420.0L559.9 420.9L560.4 422.0L560.9 423.2L561.4 423.8L561.9 424.1L562.4 424.9L562.9 425.8L563.4 426.5L563.9 427.3L564.4 427.8L564.9 428.2L565.4 428.8L565.9 429.4L566.4 429.6L566.9 429.7L567.4 430.3L567.9 430.6L568.4 430.6L568.9 430.5L569.4 430.6L569.9 431.1L570.4 431.8L570.9 432.1L571.4 432.0L571.9 432.0L572.4 432.1L572.9 432.0L573.4 432.0L573.9 432.3L574.4 432.7L574.9 432.6L575.4 432.4L575.9 432.8L576.4 433.3L576.9 433.3L577.4 433.1L577.9 433.4L578.4 433.7L578.9 433.2L579.4 433.0L579.9 433.2L580.4 433.1L580.9 433.1L581.4 433.0L581.9 433.1L582.4 433.4L582.9 433.2L583.4 432.9L583.9 433.1L584.4 433.3L584.9 433.6L585.4 433.9L585.9 433.9L586.4 433.2L586.9 432.9L587.4 432.8L587.9 433.3L588.4 433.5L588.9 433.2L589.4 432.9L589.9 432.8L590.4 432.9L590.9 433.7L591.4 433.9L591.9 433.6L592.4 433.8L592.9 433.5L593.4 433.1L593.9 433.5L594.4 433.8L594.9 433.7L595.4 433.7L595.9 433.9L596.4 433.7L596.9 433.6" stroke="#111" stroke-width="1.00" fill="none"/>
<path d="M336.9 427.8L337.4 427.8L337.9 427.8L338.4 427.8L338.9 427.8L339.4 427.8L339.9 427.8L340.4 427.8L340.9 427.8L341.4 427.8L341.9 427.8L342.4 427.8L342.9 427.8L343.4 427.8L343.9 427.8L344.4 427.8L344.9 427.8L345.4 427.8L345.9 427.8L346.4 427.8L346.9 427.8L347.4 427.8L347.9 427.8L348.4 427.8L348.9 427.8L349.4 427.8L349.9 427.8L350.4 427.8L350.9 427.8L351.4 427.8L351.9 427.8L352.4 427.8L352.9 427.8L353.4 427.8L353.9 427.8L354.4 427.8L354.9 427.8L355.4 427.8L355.9 427.8L356.4 427.8L356.9 427.8L357.4 427.8L357.9 427.8L358.4 427.8L358.9 427.8L359.4 427.8L359.9 427.8L360.4 427.8L360.9 427.8L361.4 427.8L361.9 427.8L362.4 427.8L362.9 427.8L363.4 427.8L363.9 427.8L364.4 427.8L364.9 427.8L365.4 427.8L365.9 427.8L366.4 427.8L366.9 427.8L367.4 427.8L367.9 427.8L368.4 427.8L368.9 427.8L369.4 427.8L369.9 427.7L370.4 427.7L370.9 427.7L371.4 427.7L371.9 427.7L372.4 427.7L372.9 427.7L373.4 427.7L373.9 427.7L374.4 427.7L374.9 427.7L375.4 427.7L375.9 427.7L376.4 427.7L376.9 427.7L377.4 427.7L377.9 427.7L378.4 427.7L378.9 427.7L379.4 427.7L379.9 427.7L380.4 427.7L380.9 427.7L381.4 427.7L381.9 427.7L382.4 427.6L382.9 427.6L383.4 427.6L383.9 427.6L384.4 427.6L384.9 427.6L385.4 427.6L385.9 427.6L386.4 427.6L386.9 427.6L387.4 427.6L387.9 427.6L388.4 427.6L388.9 427.6L389.4 427.5L389.9 427.5L390.4 427.5L390.9 427.5L391.4 427.5L391.9 427.5L392.4 427.5L392.9 427.5L393.4 427.5L393.9 427.5L394.4 427.4L394.9 427.4L395.4 427.4L395.9 427.4L396.4 427.4L396.9 427.4L397.4 427.4L397.9 427.4L398.4 427.3L398.9 427.3L399.4 427.3L399.9 427.3L400.4 427.3L400.9 427.3L401.4 427.2L401.9 427.2L402.4 427.2L402.9 427.2L403.4 427.2L403.9 427.1L404.4 427.1L404.9 427.1L405.4 427.1L405.9 427.1L406.4 427.0L406.9 427.0L407.4 427.0L407.9 427.0L408.4 426.9L408.9 426.9L409.4 426.9L409.9 426.9L410.4 426.8L410.9 426.8L411.4 426.8L411.9 426.7L412.4 426.7L412.9 426.7L413.4 426.7L413.9 426.6L414.4 426.6L414.9 426.6L415.4 426.5L415.9 426.5L416.4 426.5L416.9 426.4L417.4 426.4L417.9 426.4L418.4 426.3L418.9 426.3L419.4 426.2L419.9 426.2L420.4 426.2L420.9 426.1L421.4 426.1L421.9 426.0L422.4 426.0L422.9 426.0L423.4 425.9L423.9 425.9L424.4 425.8L424.9 425.8L425.4 425.7L425.9 425.7L426.4 425.7L426.9 425.6L427.4 425.6L427.9 425.5L428.4 425.5L428.9 425.4L429.4 425.4L429.9 425.3L430.4 425.3L430.9 425.2L431.4 425.2L431.9 425.1L432.4 425.1L432.9 425.0L433.4 425.0L433.9 424.9L434.4 424.9L434.9 424.8L435.4 424.8L435.9 424.7L436.4 424.7L436.9 424.6L437.4 424.6L437.9 424.5L438.4 424.5L438.9 424.4L439.4 424.4L439.9 424.4L440.4 424.3L440.9 424.3L441.4 424.2L441.9 424.2L442.4 424.1L442.9 424.1L443.4 424.0L443.9 424.0L444.4 423.9L444.9 423.9L445.4 423.9L445.9 423.8L446.4 423.8L446.9 423.7L447.4 423.7L447.9 423.7L448.4 423.6L448.9 423.6L449.4 423.5L449.9 423.5L450.4 423.5L450.9 423.4L451.4 423.4L451.9 423.4L452.4 423.3L452.9 423.3L453.4 423.3L453.9 423.2L454.4 423.2L454.9 423.2L455.4 423.1L455.9 423.1L456.4 423.1L456.9 423.0L457.4 423.0L457.9 423.0L458.4 422.9L458.9 422.9L459.4 422.9L459.9 422.8L460.4 422.8L460.9 422.7L461.4 422.7L461.9 422.6L462.4 422.6L462.9 422.5L463.4 422.4L463.9 422.4L464.4 422.3L464.9 422.2L465.4 422.1L465.9 422.0L466.4 421.9L466.9 421.8L467.4 421.7L467.9 421.6L468.4 421.5L468.9 421.4L469.4 421.3L469.9 421.1L470.4 421.0L470.9 420.9L471.4 420.7L471.9 420.6L472.4 420.4L472.9 420.3L473.4 420.1L473.9 420.0L474.4 419.8L474.9 419.6L475.4 419.5L475.9 419.3L476.4 419.2L476.9 419.0L477.4 418.9L477.9 418.7L478.4 418.6L478.9 418.4L479.4 418.3L479.9 418.1L480.4 418.0L480.9 417.8L481.4 417.7L481.9 417.6L482.4 417.4L482.9 417.3L483.4 417.1L483.9 417.0L484.4 416.8L484.9 416.7L485.4 416.5L485.9 416.4L486.4 416.2L486.9 416.0L487.4 415.8L487.9 415.6L488.4 415.4L488.9 415.1L489.4 414.8L489.9 414.6L490.4 414.3L490.9 413.9L491.4 413.6L491.9 413.2L492.4 412.8L492.9 412.4L493.4 411.9L493.9 411.5L494.4 410.9L494.9 410.4L495.4 409.9L495.9 409.3L496.4 408.7L496.9 408.0L497.4 407.4L497.9 406.7L498.4 406.0L498.9 405.2L499.4 404.5L499.9 403.7L500.4 402.9L500.9 402.0L501.4 401.2L501.9 400.2L502.4 399.3L502.9 398.3L503.4 397.3L503.9 396.3L504.4 395.2L504.9 394.0L505.4 392.8L505.9 391.6L506.4 390.2L506.9 388.8L507.4 387.3L507.9 385.8L508.4 384.1L508.9 382.4L509.4 380.6L509.9 378.6L510.4 376.6L510.9 374.5L511.4 372.2L511.9 369.8L512.4 367.4L512.9 364.8L513.4 362.1L513.9 359.3L514.4 356.4L514.9 353.4L515.4 350.3L515.9 347.2L516.4 344.0L516.9 340.8L517.4 337.6L517.9 334.3L518.4 331.0L518.9 327.8L519.4 324.6L519.9 321.5L520.4 318.4L520.9 315.5L521.4 312.6L521.9 309.9L522.4 307.4L522.9 305.0L523.4 302.8L523.9 300.7L524.4 298.9L524.9 297.2L525.4 295.7L525.9 294.5L526.4 293.4L526.9 292.4L527.4 291.7L527.9 291.0L528.4 290.5L528.9 290.0L529.4 289.7L529.9 289.4L530.4 289.1L530.9 288.8L531.4 288.6L531.9 288.3L532.4 288.1L532.9 287.9L533.4 287.6L533.9 287.5L534.4 287.4L534.9 287.3L535.4 287.3L535.9 287.4L536.4 287.5L536.9 287.7L537.4 288.0L537.9 288.3L538.4 288.6L538.9 288.9L539.4 289.2L539.9 289.5L540.4 289.8L540.9 290.2L541.4 290.7L541.9 291.4L542.4 292.3L542.9 293.7L543.4 295.5L543.9 297.9L544.4 301.0L544.9 304.8L545.4 309.3L545.9 314.4L546.4 320.1L546.9 326.1L547.4 332.5L547.9 339.1L548.4 345.7L548.9 352.2L549.4 358.6L549.9 364.8L550.4 370.7L550.9 376.2L551.4 381.4L551.9 386.2L552.4 390.6L552.9 394.5L553.4 398.1L553.9 401.4L554.4 404.3L554.9 406.9L555.4 409.2L555.9 411.3L556.4 413.2L556.9 414.9L557.4 416.5L557.9 417.9L558.4 419.1L558.9 420.3L559.4 421.3L559.9 422.3L560.4 423.2L560.9 424.1L561.4 424.8L561.9 425.5L562.4 426.2L562.9 426.8L563.4 427.3L563.9 427.9L564.4 428.3L564.9 428.8L565.4 429.2L565.9 429.5L566.4 429.9L566.9 430.2L567.4 430.5L567.9 430.7L568.4 431.0L568.9 431.2L569.4 431.4L569.9 431.6L570.4 431.7L570.9 431.9L571.4 432.0L571.9 432.1L572.4 432.2L572.9 432.3L573.4 432.4L573.9 432.5L574.4 432.6L574.9 432.6L575.4 432.7L575.9 432.8L576.4 432.8L576.9 432.8L577.4 432.9L577.9 432.9L578.4 433.0L578.9 433.0L579.4 433.0L579.9 433.0L580.4 433.1L580.9 433.1L581.4 433.1L581.9 433.1L582.4 433.1L582.9 433.1L583.4 433.2L583.9 433.2L584.4 433.2L584.9 433.2L585.4 433.2L585.9 433.2L586.4 433.2L586.9 433.2L587.4 433.2L587.9 433.2L588.4 433.2L588.9 433.3L589.4 433.3L589.9 433.3L590.4 433.3L590.9 433.3L591.4 433.3L591.9 433.3L592.4 433.3L592.9 433.3L593.4 433.3L593.9 433.3L594.4 433.3L594.9 433.3L595.4 433.3L595.9 433.3L596.4 433.3L596.9 433.3" stroke="#ff1212" stroke-width="1.4" fill="none"/>
<path d="M336.9 427.9L337.4 427.9L337.9 427.9L338.4 427.9L338.9 427.9L339.4 427.9L339.9 427.9L340.4 427.9L340.9 427.9L341.4 427.9L341.9 427.9L342.4 427.9L342.9 427.9L343.4 427.9L343.9 427.9L344.4 427.9L344.9 427.9L345.4 427.9L345.9 427.9L346.4 427.9L346.9 427.9L347.4 427.9L347.9 427.9L348.4 427.9L348.9 427.9L349.4 427.9L349.9 427.9L350.4 427.9L350.9 427.9L351.4 427.9L351.9 427.9L352.4 427.9L352.9 427.8L353.4 427.8L353.9 427.8L354.4 427.8L354.9 427.8L355.4 427.8L355.9 427.8L356.4 427.8L356.9 427.8L357.4 427.8L357.9 427.8L358.4 427.8L358.9 427.8L359.4 427.8L359.9 427.8L360.4 427.8L360.9 427.8L361.4 427.8L361.9 427.8L362.4 427.8L362.9 427.8L363.4 427.8L363.9 427.8L364.4 427.8L364.9 427.8L365.4 427.8L365.9 427.8L366.4 427.8L366.9 427.8L367.4 427.8L367.9 427.8L368.4 427.8L368.9 427.8L369.4 427.8L369.9 427.8L370.4 427.8L370.9 427.8L371.4 427.8L371.9 427.8L372.4 427.8L372.9 427.8L373.4 427.8L373.9 427.8L374.4 427.8L374.9 427.8L375.4 427.8L375.9 427.8L376.4 427.8L376.9 427.8L377.4 427.8L377.9 427.8L378.4 427.8L378.9 427.8L379.4 427.8L379.9 427.8L380.4 427.8L380.9 427.8L381.4 427.8L381.9 427.8L382.4 427.8L382.9 427.8L383.4 427.8L383.9 427.8L384.4 427.8L384.9 427.8L385.4 427.8L385.9 427.8L386.4 427.8L386.9 427.8L387.4 427.8L387.9 427.8L388.4 427.8L388.9 427.8L389.4 427.8L389.9 427.8L390.4 427.8L390.9 427.8L391.4 427.8L391.9 427.8L392.4 427.8L392.9 427.8L393.4 427.8L393.9 427.8L394.4 427.8L394.9 427.8L395.4 427.8L395.9 427.8L396.4 427.8L396.9 427.8L397.4 427.8L397.9 427.8L398.4 427.8L398.9 427.8L399.4 427.8L399.9 427.8L400.4 427.8L400.9 427.8L401.4 427.8L401.9 427.8L402.4 427.8L402.9 427.8L403.4 427.8L403.9 427.8L404.4 427.8L404.9 427.8L405.4 427.8L405.9 427.8L406.4 427.8L406.9 427.8L407.4 427.7L407.9 427.7L408.4 427.7L408.9 427.7L409.4 427.7L409.9 427.7L410.4 427.7L410.9 427.7L411.4 427.7L411.9 427.7L412.4 427.7L412.9 427.7L413.4 427.7L413.9 427.7L414.4 427.7L414.9 427.7L415.4 427.7L415.9 427.7L416.4 427.7L416.9 427.7L417.4 427.7L417.9 427.7L418.4 427.7L418.9 427.7L419.4 427.7L419.9 427.7L420.4 427.7L420.9 427.7L421.4 427.7L421.9 427.7L422.4 427.7L422.9 427.7L423.4 427.7L423.9 427.7L424.4 427.7L424.9 427.7L425.4 427.7L425.9 427.7L426.4 427.7L426.9 427.7L427.4 427.7L427.9 427.7L428.4 427.7L428.9 427.7L429.4 427.7L429.9 427.7L430.4 427.7L430.9 427.7L431.4 427.7L431.9 427.7L432.4 427.7L432.9 427.7L433.4 427.7L433.9 427.7L434.4 427.6L434.9 427.6L435.4 427.6L435.9 427.6L436.4 427.6L436.9 427.6L437.4 427.6L437.9 427.6L438.4 427.6L438.9 427.6L439.4 427.6L439.9 427.6L440.4 427.6L440.9 427.6L441.4 427.6L441.9 427.6L442.4 427.6L442.9 427.6L443.4 427.6L443.9 427.6L444.4 427.6L444.9 427.6L445.4 427.6L445.9 427.6L446.4 427.6L446.9 427.6L447.4 427.6L447.9 427.6L448.4 427.6L448.9 427.6L449.4 427.6L449.9 427.5L450.4 427.5L450.9 427.5L451.4 427.5L451.9 427.5L452.4 427.5L452.9 427.5L453.4 427.5L453.9 427.5L454.4 427.5L454.9 427.5L455.4 427.5L455.9 427.5L456.4 427.5L456.9 427.5L457.4 427.5L457.9 427.5L458.4 427.5L458.9 427.4L459.4 427.4L459.9 427.4L460.4 427.4L460.9 427.4L461.4 427.4L461.9 427.4L462.4 427.4L462.9 427.4L463.4 427.4L463.9 427.4L464.4 427.4L464.9 427.4L465.4 427.3L465.9 427.3L466.4 427.3L466.9 427.3L467.4 427.3L467.9 427.3L468.4 427.3L468.9 427.3L469.4 427.3L469.9 427.3L470.4 427.2L470.9 427.2L471.4 427.2L471.9 427.2L472.4 427.2L472.9 427.2L473.4 427.2L473.9 427.2L474.4 427.1L474.9 427.1L475.4 427.1L475.9 427.1L476.4 427.1L476.9 427.1L477.4 427.0L477.9 427.0L478.4 427.0L478.9 427.0L479.4 427.0L479.9 427.0L480.4 426.9L480.9 426.9L481.4 426.9L481.9 426.9L482.4 426.8L482.9 426.8L483.4 426.8L483.9 426.8L484.4 426.8L484.9 426.7L485.4 426.7L485.9 426.7L486.4 426.6L486.9 426.6L487.4 426.6L487.9 426.6L488.4 426.5L488.9 426.5L489.4 426.4L489.9 426.4L490.4 426.4L490.9 426.3L491.4 426.3L491.9 426.2L492.4 426.2L492.9 426.1L493.4 426.1L493.9 426.0L494.4 426.0L494.9 425.9L495.4 425.8L495.9 425.7L496.4 425.7L496.9 425.6L497.4 425.5L497.9 425.4L498.4 425.3L498.9 425.1L499.4 425.0L499.9 424.8L500.4 424.7L500.9 424.5L501.4 424.3L501.9 424.1L502.4 423.8L502.9 423.5L503.4 423.2L503.9 422.9L504.4 422.5L504.9 422.1L505.4 421.7L505.9 421.2L506.4 420.6L506.9 420.0L507.4 419.4L507.9 418.7L508.4 417.9L508.9 417.0L509.4 416.1L509.9 415.0L510.4 413.9L510.9 412.8L511.4 411.5L511.9 410.1L512.4 408.6L512.9 407.0L513.4 405.3L513.9 403.5L514.4 401.6L514.9 399.6L515.4 397.4L515.9 395.2L516.4 392.8L516.9 390.4L517.4 387.8L517.9 385.2L518.4 382.4L518.9 379.6L519.4 376.8L519.9 373.8L520.4 370.8L520.9 367.8L521.4 364.7L521.9 361.7L522.4 358.7L522.9 355.6L523.4 352.7L523.9 349.8L524.4 347.0L524.9 344.3L525.4 341.7L525.9 339.3L526.4 337.1L526.9 335.1L527.4 333.3L527.9 331.8L528.4 330.5L528.9 329.5L529.4 328.8L529.9 328.4L530.4 328.3L530.9 328.6L531.4 329.1L531.9 330.0L532.4 331.1L532.9 332.5L533.4 334.2L533.9 336.2L534.4 338.3L534.9 340.7L535.4 343.2L535.9 345.9L536.4 348.8L536.9 351.7L537.4 354.7L537.9 357.8L538.4 361.0L538.9 364.1L539.4 367.3L539.9 370.5L540.4 373.6L540.9 376.7L541.4 379.8L541.9 382.8L542.4 385.7L542.9 388.5L543.4 391.3L543.9 393.9L544.4 396.4L544.9 398.9L545.4 401.2L545.9 403.4L546.4 405.5L546.9 407.5L547.4 409.4L547.9 411.1L548.4 412.8L548.9 414.3L549.4 415.7L549.9 417.1L550.4 418.3L550.9 419.5L551.4 420.5L551.9 421.5L552.4 422.4L552.9 423.2L553.4 424.0L553.9 424.7L554.4 425.3L554.9 425.9L555.4 426.4L555.9 426.9L556.4 427.3L556.9 427.7L557.4 428.0L557.9 428.4L558.4 428.6L558.9 428.9L559.4 429.2L559.9 429.4L560.4 429.6L560.9 429.8L561.4 429.9L561.9 430.1L562.4 430.2L562.9 430.3L563.4 430.5L563.9 430.6L564.4 430.7L564.9 430.8L565.4 430.9L565.9 430.9L566.4 431.0L566.9 431.1L567.4 431.2L567.9 431.2L568.4 431.3L568.9 431.3L569.4 431.4L569.9 431.5L570.4 431.5L570.9 431.6L571.4 431.6L571.9 431.6L572.4 431.7L572.9 431.7L573.4 431.8L573.9 431.8L574.4 431.9L574.9 431.9L575.4 431.9L575.9 432.0L576.4 432.0L576.9 432.0L577.4 432.1L577.9 432.1L578.4 432.1L578.9 432.1L579.4 432.2L579.9 432.2L580.4 432.2L580.9 432.3L581.4 432.3L581.9 432.3L582.4 432.3L582.9 432.3L583.4 432.4L583.9 432.4L584.4 432.4L584.9 432.4L585.4 432.5L585.9 432.5L586.4 432.5L586.9 432.5L587.4 432.5L587.9 432.5L588.4 432.6L588.9 432.6L589.4 432.6L589.9 432.6L590.4 432.6L590.9 432.6L591.4 432.7L591.9 432.7L592.4 432.7L592.9 432.7L593.4 432.7L593.9 432.7L594.4 432.7L594.9 432.8L595.4 432.8L595.9 432.8L596.4 432.8L596.9 432.8" stroke="#ff20ff" stroke-width="1.2" fill="none"/>
<path d="M336.9 427.9L337.4 427.9L337.9 427.9L338.4 427.9L338.9 427.9L339.4 427.9L339.9 427.9L340.4 427.9L340.9 427.9L341.4 427.9L341.9 427.9L342.4 427.9L342.9 427.9L343.4 427.9L343.9 427.9L344.4 427.9L344.9 427.9L345.4 427.9L345.9 427.9L346.4 427.9L346.9 427.9L347.4 427.9L347.9 427.9L348.4 427.9L348.9 427.9L349.4 427.9L349.9 427.9L350.4 427.9L350.9 427.9L351.4 427.9L351.9 427.9L352.4 427.9L352.9 427.9L353.4 427.9L353.9 427.9L354.4 427.9L354.9 427.9L355.4 427.9L355.9 427.9L356.4 427.9L356.9 427.9L357.4 427.9L357.9 427.9L358.4 427.9L358.9 427.9L359.4 427.9L359.9 427.9L360.4 427.9L360.9 427.9L361.4 427.9L361.9 427.9L362.4 427.9L362.9 427.9L363.4 427.9L363.9 427.9L364.4 427.9L364.9 427.9L365.4 427.9L365.9 427.9L366.4 427.9L366.9 427.9L367.4 427.9L367.9 427.9L368.4 427.9L368.9 427.9L369.4 427.9L369.9 427.9L370.4 427.9L370.9 427.9L371.4 427.9L371.9 427.9L372.4 427.9L372.9 427.9L373.4 427.9L373.9 427.9L374.4 427.9L374.9 427.9L375.4 427.9L375.9 427.9L376.4 427.9L376.9 427.9L377.4 427.9L377.9 427.9L378.4 427.9L378.9 427.9L379.4 427.9L379.9 427.9L380.4 427.9L380.9 427.9L381.4 427.9L381.9 427.9L382.4 427.9L382.9 427.9L383.4 427.9L383.9 427.9L384.4 427.9L384.9 427.9L385.4 427.9L385.9 427.9L386.4 427.9L386.9 427.9L387.4 427.9L387.9 427.9L388.4 427.9L388.9 427.9L389.4 427.9L389.9 427.9L390.4 427.9L390.9 427.9L391.4 427.9L391.9 427.9L392.4 427.9L392.9 427.9L393.4 427.9L393.9 427.9L394.4 427.9L394.9 427.9L395.4 427.9L395.9 427.9L396.4 427.9L396.9 427.9L397.4 427.9L397.9 427.9L398.4 427.9L398.9 427.9L399.4 427.9L399.9 427.9L400.4 427.9L400.9 427.9L401.4 427.9L401.9 427.9L402.4 427.9L402.9 427.9L403.4 427.9L403.9 427.9L404.4 427.9L404.9 427.9L405.4 427.9L405.9 427.9L406.4 427.9L406.9 427.9L407.4 427.9L407.9 427.9L408.4 427.9L408.9 427.9L409.4 427.9L409.9 427.9L410.4 427.9L410.9 427.9L411.4 427.9L411.9 427.9L412.4 427.9L412.9 427.9L413.4 427.9L413.9 427.9L414.4 427.9L414.9 427.9L415.4 427.9L415.9 427.9L416.4 427.9L416.9 427.9L417.4 427.9L417.9 427.9L418.4 427.9L418.9 427.9L419.4 427.9L419.9 427.9L420.4 427.9L420.9 427.9L421.4 427.9L421.9 427.9L422.4 427.9L422.9 427.9L423.4 427.8L423.9 427.8L424.4 427.8L424.9 427.8L425.4 427.8L425.9 427.8L426.4 427.8L426.9 427.8L427.4 427.8L427.9 427.8L428.4 427.8L428.9 427.8L429.4 427.8L429.9 427.8L430.4 427.8L430.9 427.8L431.4 427.8L431.9 427.8L432.4 427.8L432.9 427.8L433.4 427.8L433.9 427.8L434.4 427.8L434.9 427.8L435.4 427.8L435.9 427.8L436.4 427.8L436.9 427.8L437.4 427.8L437.9 427.8L438.4 427.8L438.9 427.8L439.4 427.8L439.9 427.8L440.4 427.8L440.9 427.8L441.4 427.8L441.9 427.8L442.4 427.8L442.9 427.8L443.4 427.8L443.9 427.8L444.4 427.8L444.9 427.8L445.4 427.8L445.9 427.8L446.4 427.8L446.9 427.8L447.4 427.8L447.9 427.8L448.4 427.8L448.9 427.8L449.4 427.8L449.9 427.8L450.4 427.8L450.9 427.8L451.4 427.8L451.9 427.8L452.4 427.8L452.9 427.8L453.4 427.8L453.9 427.8L454.4 427.8L454.9 427.8L455.4 427.8L455.9 427.8L456.4 427.8L456.9 427.8L457.4 427.8L457.9 427.8L458.4 427.8L458.9 427.8L459.4 427.8L459.9 427.8L460.4 427.8L460.9 427.8L461.4 427.8L461.9 427.8L462.4 427.8L462.9 427.8L463.4 427.8L463.9 427.8L464.4 427.8L464.9 427.8L465.4 427.8L465.9 427.8L466.4 427.8L466.9 427.8L467.4 427.8L467.9 427.8L468.4 427.8L468.9 427.8L469.4 427.8L469.9 427.8L470.4 427.8L470.9 427.8L471.4 427.8L471.9 427.8L472.4 427.8L472.9 427.8L473.4 427.8L473.9 427.7L474.4 427.7L474.9 427.7L475.4 427.7L475.9 427.7L476.4 427.7L476.9 427.7L477.4 427.7L477.9 427.7L478.4 427.7L478.9 427.7L479.4 427.7L479.9 427.7L480.4 427.7L480.9 427.7L481.4 427.7L481.9 427.7L482.4 427.7L482.9 427.7L483.4 427.7L483.9 427.7L484.4 427.7L484.9 427.7L485.4 427.7L485.9 427.7L486.4 427.7L486.9 427.7L487.4 427.6L487.9 427.6L488.4 427.6L488.9 427.6L489.4 427.6L489.9 427.6L490.4 427.6L490.9 427.6L491.4 427.6L491.9 427.6L492.4 427.6L492.9 427.6L493.4 427.6L493.9 427.6L494.4 427.5L494.9 427.5L495.4 427.5L495.9 427.5L496.4 427.5L496.9 427.5L497.4 427.5L497.9 427.5L498.4 427.5L498.9 427.4L499.4 427.4L499.9 427.4L500.4 427.4L500.9 427.4L501.4 427.4L501.9 427.3L502.4 427.3L502.9 427.3L503.4 427.3L503.9 427.3L504.4 427.3L504.9 427.2L505.4 427.2L505.9 427.2L506.4 427.2L506.9 427.1L507.4 427.1L507.9 427.1L508.4 427.1L508.9 427.0L509.4 427.0L509.9 427.0L510.4 426.9L510.9 426.9L511.4 426.8L511.9 426.8L512.4 426.8L512.9 426.7L513.4 426.7L513.9 426.6L514.4 426.5L514.9 426.5L515.4 426.4L515.9 426.3L516.4 426.2L516.9 426.1L517.4 426.0L517.9 425.8L518.4 425.6L518.9 425.5L519.4 425.3L519.9 425.0L520.4 424.7L520.9 424.4L521.4 424.1L521.9 423.7L522.4 423.2L522.9 422.7L523.4 422.1L523.9 421.5L524.4 420.7L524.9 419.9L525.4 419.0L525.9 418.0L526.4 416.9L526.9 415.7L527.4 414.3L527.9 412.9L528.4 411.3L528.9 409.6L529.4 407.8L529.9 405.8L530.4 403.7L530.9 401.5L531.4 399.2L531.9 396.8L532.4 394.3L532.9 391.7L533.4 389.1L533.9 386.4L534.4 383.7L534.9 381.0L535.4 378.3L535.9 375.7L536.4 373.1L536.9 370.7L537.4 368.5L537.9 366.5L538.4 364.7L538.9 363.1L539.4 361.9L539.9 361.1L540.4 360.6L540.9 360.5L541.4 360.7L541.9 361.4L542.4 362.4L542.9 363.7L543.4 365.4L543.9 367.3L544.4 369.5L544.9 371.9L545.4 374.4L545.9 377.1L546.4 379.8L546.9 382.6L547.4 385.4L547.9 388.2L548.4 391.0L548.9 393.8L549.4 396.4L549.9 399.0L550.4 401.5L550.9 403.9L551.4 406.2L551.9 408.4L552.4 410.4L552.9 412.3L553.4 414.1L553.9 415.7L554.4 417.3L554.9 418.7L555.4 420.0L555.9 421.2L556.4 422.2L556.9 423.2L557.4 424.1L557.9 424.9L558.4 425.6L558.9 426.2L559.4 426.8L559.9 427.3L560.4 427.8L560.9 428.2L561.4 428.6L561.9 428.9L562.4 429.2L562.9 429.4L563.4 429.7L563.9 429.9L564.4 430.1L564.9 430.2L565.4 430.4L565.9 430.5L566.4 430.7L566.9 430.8L567.4 430.9L567.9 431.0L568.4 431.1L568.9 431.2L569.4 431.3L569.9 431.3L570.4 431.4L570.9 431.5L571.4 431.5L571.9 431.6L572.4 431.7L572.9 431.7L573.4 431.8L573.9 431.8L574.4 431.9L574.9 431.9L575.4 432.0L575.9 432.0L576.4 432.0L576.9 432.1L577.4 432.1L577.9 432.2L578.4 432.2L578.9 432.2L579.4 432.3L579.9 432.3L580.4 432.3L580.9 432.4L581.4 432.4L581.9 432.4L582.4 432.4L582.9 432.5L583.4 432.5L583.9 432.5L584.4 432.5L584.9 432.6L585.4 432.6L585.9 432.6L586.4 432.6L586.9 432.6L587.4 432.7L587.9 432.7L588.4 432.7L588.9 432.7L589.4 432.7L589.9 432.8L590.4 432.8L590.9 432.8L591.4 432.8L591.9 432.8L592.4 432.8L592.9 432.8L593.4 432.9L593.9 432.9L594.4 432.9L594.9 432.9L595.4 432.9L595.9 432.9L596.4 432.9L596.9 432.9" stroke="#1a1aee" stroke-width="1.2" fill="none"/>
<path d="M336.9 428.0L337.4 428.0L337.9 428.0L338.4 428.0L338.9 428.0L339.4 428.0L339.9 428.0L340.4 428.0L340.9 428.0L341.4 428.0L341.9 428.0L342.4 428.0L342.9 428.0L343.4 428.0L343.9 428.0L344.4 428.0L344.9 428.0L345.4 428.0L345.9 428.0L346.4 428.0L346.9 428.0L347.4 428.0L347.9 428.0L348.4 428.0L348.9 428.0L349.4 428.0L349.9 428.0L350.4 428.0L350.9 428.0L351.4 428.0L351.9 428.0L352.4 428.0L352.9 428.0L353.4 428.0L353.9 428.0L354.4 428.0L354.9 428.0L355.4 428.0L355.9 428.0L356.4 428.0L356.9 428.0L357.4 428.0L357.9 428.0L358.4 428.0L358.9 428.0L359.4 428.0L359.9 428.0L360.4 428.0L360.9 428.0L361.4 428.0L361.9 428.0L362.4 428.0L362.9 428.0L363.4 428.0L363.9 428.0L364.4 428.0L364.9 428.0L365.4 428.0L365.9 428.0L366.4 428.0L366.9 428.0L367.4 428.0L367.9 428.0L368.4 428.0L368.9 428.0L369.4 428.0L369.9 428.0L370.4 428.0L370.9 428.0L371.4 428.0L371.9 428.0L372.4 428.0L372.9 428.0L373.4 428.0L373.9 428.0L374.4 428.0L374.9 428.0L375.4 428.0L375.9 428.0L376.4 428.0L376.9 428.0L377.4 428.0L377.9 428.0L378.4 428.0L378.9 428.0L379.4 428.0L379.9 428.0L380.4 428.0L380.9 428.0L381.4 428.0L381.9 428.0L382.4 428.0L382.9 428.0L383.4 428.0L383.9 428.0L384.4 428.0L384.9 428.0L385.4 428.0L385.9 428.0L386.4 428.0L386.9 428.0L387.4 428.0L387.9 428.0L388.4 428.0L388.9 428.0L389.4 428.0L389.9 428.0L390.4 428.0L390.9 428.0L391.4 428.0L391.9 428.0L392.4 428.0L392.9 428.0L393.4 428.0L393.9 428.0L394.4 428.0L394.9 428.0L395.4 428.0L395.9 428.0L396.4 428.0L396.9 428.0L397.4 428.0L397.9 428.0L398.4 428.0L398.9 428.0L399.4 428.0L399.9 428.0L400.4 428.0L400.9 428.0L401.4 428.0L401.9 428.0L402.4 428.0L402.9 428.0L403.4 428.0L403.9 428.0L404.4 428.0L404.9 428.0L405.4 428.0L405.9 428.0L406.4 428.0L406.9 428.0L407.4 428.0L407.9 428.0L408.4 428.0L408.9 428.0L409.4 428.0L409.9 428.0L410.4 428.0L410.9 428.0L411.4 428.0L411.9 428.0L412.4 428.0L412.9 428.0L413.4 428.0L413.9 428.0L414.4 428.0L414.9 428.0L415.4 428.0L415.9 428.0L416.4 428.0L416.9 428.0L417.4 428.0L417.9 428.0L418.4 428.0L418.9 428.0L419.4 428.0L419.9 428.0L420.4 428.0L420.9 428.0L421.4 428.0L421.9 428.0L422.4 428.0L422.9 428.0L423.4 428.0L423.9 428.0L424.4 428.0L424.9 428.0L425.4 428.0L425.9 428.0L426.4 428.0L426.9 428.0L427.4 428.0L427.9 428.0L428.4 428.0L428.9 428.0L429.4 428.0L429.9 428.0L430.4 428.0L430.9 428.0L431.4 428.0L431.9 428.0L432.4 428.0L432.9 428.0L433.4 428.0L433.9 428.0L434.4 428.0L434.9 428.0L435.4 428.0L435.9 428.0L436.4 428.0L436.9 428.0L437.4 428.0L437.9 428.0L438.4 428.0L438.9 428.0L439.4 428.0L439.9 428.0L440.4 428.0L440.9 428.0L441.4 428.0L441.9 428.0L442.4 428.0L442.9 428.0L443.4 428.0L443.9 428.0L444.4 428.0L444.9 428.0L445.4 428.0L445.9 428.0L446.4 428.1L446.9 428.1L447.4 428.1L447.9 428.1L448.4 428.1L448.9 428.1L449.4 428.1L449.9 428.1L450.4 428.1L450.9 428.1L451.4 428.1L451.9 428.1L452.4 428.1L452.9 428.1L453.4 428.1L453.9 428.1L454.4 428.1L454.9 428.1L455.4 428.1L455.9 428.1L456.4 428.1L456.9 428.1L457.4 428.1L457.9 428.1L458.4 428.1L458.9 428.1L459.4 428.1L459.9 428.1L460.4 428.1L460.9 428.1L461.4 428.1L461.9 428.1L462.4 428.1L462.9 428.1L463.4 428.1L463.9 428.1L464.4 428.1L464.9 428.1L465.4 428.1L465.9 428.1L466.4 428.1L466.9 428.1L467.4 428.1L467.9 428.1L468.4 428.1L468.9 428.1L469.4 428.1L469.9 428.2L470.4 428.2L470.9 428.2L471.4 428.2L471.9 428.2L472.4 428.2L472.9 428.2L473.4 428.2L473.9 428.2L474.4 428.2L474.9 428.2L475.4 428.2L475.9 428.2L476.4 428.2L476.9 428.2L477.4 428.2L477.9 428.2L478.4 428.2L478.9 428.2L479.4 428.2L479.9 428.2L480.4 428.2L480.9 428.2L481.4 428.2L481.9 428.2L482.4 428.2L482.9 428.2L483.4 428.2L483.9 428.3L484.4 428.3L484.9 428.3L485.4 428.3L485.9 428.2L486.4 428.2L486.9 428.2L487.4 428.2L487.9 428.2L488.4 428.2L488.9 428.2L489.4 428.2L489.9 428.1L490.4 428.1L490.9 428.0L491.4 428.0L491.9 427.9L492.4 427.9L492.9 427.8L493.4 427.7L493.9 427.6L494.4 427.4L494.9 427.3L495.4 427.1L495.9 426.9L496.4 426.7L496.9 426.4L497.4 426.1L497.9 425.8L498.4 425.4L498.9 425.0L499.4 424.6L499.9 424.1L500.4 423.5L500.9 422.9L501.4 422.3L501.9 421.6L502.4 420.9L502.9 420.1L503.4 419.2L503.9 418.3L504.4 417.3L504.9 416.3L505.4 415.2L505.9 414.1L506.4 412.9L506.9 411.7L507.4 410.5L507.9 409.2L508.4 407.9L508.9 406.6L509.4 405.3L509.9 404.0L510.4 402.6L510.9 401.3L511.4 400.1L511.9 398.8L512.4 397.6L512.9 396.5L513.4 395.4L513.9 394.4L514.4 393.5L514.9 392.7L515.4 392.0L515.9 391.3L516.4 390.8L516.9 390.5L517.4 390.2L517.9 390.1L518.4 390.0L518.9 390.2L519.4 390.4L519.9 390.8L520.4 391.3L520.9 391.9L521.4 392.6L521.9 393.4L522.4 394.3L522.9 395.3L523.4 396.4L523.9 397.6L524.4 398.8L524.9 400.1L525.4 401.5L525.9 402.8L526.4 404.2L526.9 405.6L527.4 407.1L527.9 408.5L528.4 409.9L528.9 411.3L529.4 412.6L529.9 413.9L530.4 415.2L530.9 416.5L531.4 417.7L531.9 418.9L532.4 420.0L532.9 421.0L533.4 422.0L533.9 422.9L534.4 423.8L534.9 424.7L535.4 425.4L535.9 426.1L536.4 426.8L536.9 427.4L537.4 428.0L537.9 428.5L538.4 429.0L538.9 429.4L539.4 429.8L539.9 430.2L540.4 430.5L540.9 430.8L541.4 431.1L541.9 431.3L542.4 431.6L542.9 431.8L543.4 431.9L543.9 432.1L544.4 432.3L544.9 432.4L545.4 432.5L545.9 432.6L546.4 432.7L546.9 432.8L547.4 432.8L547.9 432.9L548.4 433.0L548.9 433.0L549.4 433.1L549.9 433.1L550.4 433.1L550.9 433.2L551.4 433.2L551.9 433.2L552.4 433.3L552.9 433.3L553.4 433.3L553.9 433.3L554.4 433.3L554.9 433.3L555.4 433.4L555.9 433.4L556.4 433.4L556.9 433.4L557.4 433.4L557.9 433.4L558.4 433.4L558.9 433.4L559.4 433.4L559.9 433.4L560.4 433.4L560.9 433.4L561.4 433.4L561.9 433.4L562.4 433.5L562.9 433.5L563.4 433.5L563.9 433.5L564.4 433.5L564.9 433.5L565.4 433.5L565.9 433.5L566.4 433.5L566.9 433.5L567.4 433.5L567.9 433.5L568.4 433.5L568.9 433.5L569.4 433.5L569.9 433.5L570.4 433.5L570.9 433.5L571.4 433.5L571.9 433.5L572.4 433.5L572.9 433.5L573.4 433.5L573.9 433.5L574.4 433.5L574.9 433.5L575.4 433.5L575.9 433.5L576.4 433.5L576.9 433.5L577.4 433.5L577.9 433.5L578.4 433.5L578.9 433.5L579.4 433.5L579.9 433.5L580.4 433.5L580.9 433.5L581.4 433.5L581.9 433.5L582.4 433.5L582.9 433.5L583.4 433.5L583.9 433.5L584.4 433.5L584.9 433.5L585.4 433.5L585.9 433.5L586.4 433.5L586.9 433.5L587.4 433.5L587.9 433.5L588.4 433.5L588.9 433.5L589.4 433.5L589.9 433.5L590.4 433.5L590.9 433.5L591.4 433.5L591.9 433.5L592.4 433.5L592.9 433.5L593.4 433.5L593.9 433.6L594.4 433.6L594.9 433.6L595.4 433.6L595.9 433.6L596.4 433.6L596.9 433.6" stroke="#1a9a1a" stroke-width="1.2" fill="none"/>
<path d="M336.9 428.0L337.4 428.0L337.9 428.0L338.4 428.0L338.9 428.0L339.4 428.0L339.9 428.0L340.4 428.0L340.9 428.0L341.4 428.0L341.9 428.0L342.4 428.0L342.9 428.0L343.4 428.0L343.9 428.0L344.4 428.0L344.9 428.0L345.4 428.0L345.9 428.0L346.4 428.0L346.9 428.0L347.4 428.0L347.9 428.0L348.4 428.0L348.9 428.0L349.4 428.0L349.9 428.0L350.4 428.0L350.9 428.0L351.4 428.0L351.9 428.0L352.4 428.0L352.9 428.0L353.4 428.0L353.9 428.0L354.4 428.0L354.9 428.0L355.4 428.0L355.9 428.0L356.4 428.0L356.9 428.0L357.4 428.0L357.9 428.0L358.4 428.0L358.9 428.0L359.4 428.0L359.9 428.0L360.4 428.0L360.9 428.0L361.4 428.0L361.9 428.0L362.4 428.0L362.9 428.0L363.4 428.0L363.9 428.0L364.4 428.0L364.9 428.0L365.4 428.0L365.9 428.0L366.4 428.0L366.9 428.0L367.4 428.0L367.9 428.0L368.4 428.0L368.9 428.0L369.4 428.0L369.9 428.0L370.4 428.0L370.9 428.0L371.4 428.0L371.9 428.0L372.4 428.0L372.9 428.0L373.4 428.0L373.9 428.0L374.4 428.0L374.9 428.0L375.4 428.0L375.9 428.0L376.4 428.0L376.9 428.0L377.4 428.0L377.9 428.0L378.4 428.0L378.9 428.0L379.4 428.0L379.9 428.0L380.4 428.0L380.9 428.0L381.4 428.0L381.9 428.0L382.4 428.0L382.9 428.0L383.4 428.0L383.9 428.0L384.4 428.0L384.9 428.0L385.4 428.0L385.9 428.0L386.4 428.0L386.9 428.0L387.4 428.0L387.9 428.0L388.4 428.0L388.9 428.0L389.4 428.0L389.9 428.0L390.4 428.0L390.9 428.0L391.4 428.0L391.9 428.0L392.4 428.0L392.9 428.0L393.4 428.0L393.9 428.0L394.4 428.0L394.9 428.0L395.4 428.0L395.9 428.0L396.4 428.0L396.9 428.0L397.4 428.0L397.9 428.0L398.4 428.0L398.9 428.0L399.4 428.0L399.9 428.0L400.4 428.0L400.9 428.0L401.4 428.0L401.9 428.0L402.4 428.0L402.9 428.0L403.4 428.0L403.9 428.0L404.4 428.0L404.9 428.0L405.4 428.0L405.9 428.0L406.4 428.0L406.9 428.0L407.4 428.0L407.9 428.0L408.4 428.0L408.9 428.0L409.4 428.0L409.9 428.0L410.4 428.0L410.9 428.0L411.4 428.0L411.9 428.0L412.4 428.0L412.9 428.0L413.4 428.0L413.9 428.0L414.4 428.0L414.9 428.0L415.4 428.0L415.9 428.0L416.4 428.0L416.9 428.0L417.4 428.0L417.9 428.0L418.4 428.0L418.9 428.0L419.4 428.0L419.9 428.0L420.4 428.0L420.9 428.0L421.4 428.0L421.9 428.0L422.4 428.0L422.9 428.0L423.4 428.0L423.9 428.0L424.4 428.0L424.9 428.0L425.4 428.0L425.9 428.0L426.4 428.0L426.9 428.0L427.4 428.0L427.9 428.0L428.4 428.0L428.9 428.0L429.4 428.0L429.9 428.0L430.4 428.0L430.9 428.0L431.4 428.0L431.9 428.0L432.4 428.0L432.9 428.0L433.4 428.0L433.9 428.0L434.4 428.0L434.9 428.0L435.4 428.0L435.9 428.0L436.4 428.0L436.9 428.0L437.4 428.0L437.9 428.0L438.4 428.0L438.9 428.0L439.4 428.0L439.9 428.0L440.4 428.0L440.9 428.0L441.4 428.0L441.9 428.0L442.4 428.0L442.9 428.0L443.4 428.0L443.9 428.0L444.4 428.0L444.9 428.0L445.4 428.0L445.9 428.0L446.4 428.0L446.9 428.0L447.4 428.0L447.9 428.0L448.4 428.0L448.9 428.0L449.4 428.0L449.9 428.0L450.4 427.9L450.9 427.9L451.4 427.9L451.9 427.9L452.4 427.9L452.9 427.9L453.4 427.9L453.9 427.9L454.4 427.8L454.9 427.8L455.4 427.8L455.9 427.8L456.4 427.8L456.9 427.7L457.4 427.7L457.9 427.7L458.4 427.6L458.9 427.6L459.4 427.6L459.9 427.5L460.4 427.5L460.9 427.5L461.4 427.4L461.9 427.4L462.4 427.3L462.9 427.2L463.4 427.2L463.9 427.1L464.4 427.1L464.9 427.0L465.4 426.9L465.9 426.8L466.4 426.8L466.9 426.7L467.4 426.6L467.9 426.5L468.4 426.4L468.9 426.3L469.4 426.2L469.9 426.1L470.4 426.0L470.9 425.8L471.4 425.7L471.9 425.6L472.4 425.5L472.9 425.3L473.4 425.2L473.9 425.0L474.4 424.9L474.9 424.7L475.4 424.6L475.9 424.4L476.4 424.2L476.9 424.1L477.4 423.9L477.9 423.7L478.4 423.5L478.9 423.3L479.4 423.1L479.9 422.9L480.4 422.7L480.9 422.6L481.4 422.3L481.9 422.1L482.4 421.9L482.9 421.7L483.4 421.5L483.9 421.3L484.4 421.1L484.9 420.9L485.4 420.7L485.9 420.5L486.4 420.3L486.9 420.1L487.4 419.9L487.9 419.7L488.4 419.5L488.9 419.3L489.4 419.1L489.9 419.0L490.4 418.8L490.9 418.6L491.4 418.4L491.9 418.3L492.4 418.1L492.9 418.0L493.4 417.9L493.9 417.7L494.4 417.6L494.9 417.5L495.4 417.4L495.9 417.3L496.4 417.2L496.9 417.1L497.4 417.1L497.9 417.0L498.4 417.0L498.9 416.9L499.4 416.9L499.9 416.9L500.4 416.9L500.9 416.9L501.4 416.9L501.9 416.9L502.4 417.0L502.9 417.0L503.4 417.1L503.9 417.2L504.4 417.2L504.9 417.3L505.4 417.4L505.9 417.5L506.4 417.7L506.9 417.8L507.4 417.9L507.9 418.1L508.4 418.2L508.9 418.4L509.4 418.6L509.9 418.8L510.4 419.0L510.9 419.2L511.4 419.4L511.9 419.6L512.4 419.8L512.9 420.0L513.4 420.3L513.9 420.5L514.4 420.7L514.9 421.0L515.4 421.2L515.9 421.5L516.4 421.7L516.9 422.0L517.4 422.2L517.9 422.5L518.4 422.7L518.9 423.0L519.4 423.2L519.9 423.5L520.4 423.8L520.9 424.0L521.4 424.3L521.9 424.5L522.4 424.8L522.9 425.0L523.4 425.3L523.9 425.5L524.4 425.8L524.9 426.0L525.4 426.3L525.9 426.5L526.4 426.7L526.9 427.0L527.4 427.2L527.9 427.4L528.4 427.6L528.9 427.8L529.4 428.1L529.9 428.3L530.4 428.5L530.9 428.7L531.4 428.9L531.9 429.0L532.4 429.2L532.9 429.4L533.4 429.6L533.9 429.8L534.4 429.9L534.9 430.1L535.4 430.2L535.9 430.4L536.4 430.6L536.9 430.7L537.4 430.8L537.9 431.0L538.4 431.1L538.9 431.2L539.4 431.4L539.9 431.5L540.4 431.6L540.9 431.7L541.4 431.8L541.9 431.9L542.4 432.0L542.9 432.1L543.4 432.2L543.9 432.3L544.4 432.4L544.9 432.5L545.4 432.5L545.9 432.6L546.4 432.7L546.9 432.7L547.4 432.8L547.9 432.8L548.4 432.9L548.9 432.9L549.4 433.0L549.9 433.0L550.4 433.1L550.9 433.1L551.4 433.1L551.9 433.2L552.4 433.2L552.9 433.2L553.4 433.2L553.9 433.3L554.4 433.3L554.9 433.3L555.4 433.3L555.9 433.3L556.4 433.3L556.9 433.3L557.4 433.4L557.9 433.4L558.4 433.4L558.9 433.4L559.4 433.4L559.9 433.4L560.4 433.4L560.9 433.4L561.4 433.4L561.9 433.4L562.4 433.4L562.9 433.4L563.4 433.4L563.9 433.5L564.4 433.5L564.9 433.5L565.4 433.5L565.9 433.5L566.4 433.5L566.9 433.5L567.4 433.5L567.9 433.5L568.4 433.5L568.9 433.5L569.4 433.5L569.9 433.5L570.4 433.5L570.9 433.5L571.4 433.5L571.9 433.5L572.4 433.5L572.9 433.5L573.4 433.5L573.9 433.5L574.4 433.5L574.9 433.5L575.4 433.5L575.9 433.5L576.4 433.5L576.9 433.5L577.4 433.5L577.9 433.5L578.4 433.5L578.9 433.5L579.4 433.5L579.9 433.5L580.4 433.5L580.9 433.5L581.4 433.5L581.9 433.5L582.4 433.5L582.9 433.5L583.4 433.5L583.9 433.5L584.4 433.5L584.9 433.5L585.4 433.5L585.9 433.5L586.4 433.5L586.9 433.5L587.4 433.5L587.9 433.5L588.4 433.5L588.9 433.5L589.4 433.5L589.9 433.5L590.4 433.5L590.9 433.5L591.4 433.5L591.9 433.5L592.4 433.5L592.9 433.5L593.4 433.5L593.9 433.6L594.4 433.6L594.9 433.6L595.4 433.6L595.9 433.6L596.4 433.6L596.9 433.6" stroke="#ff8a60" stroke-width="1.2" fill="none"/>
<path d="M336.9 428.0L337.4 428.0L337.9 428.0L338.4 428.0L338.9 428.0L339.4 428.0L339.9 428.0L340.4 428.0L340.9 428.0L341.4 428.0L341.9 428.0L342.4 428.0L342.9 428.0L343.4 428.0L343.9 428.0L344.4 428.0L344.9 428.0L345.4 428.0L345.9 428.0L346.4 428.0L346.9 428.0L347.4 428.0L347.9 428.0L348.4 428.0L348.9 428.0L349.4 428.0L349.9 428.0L350.4 428.0L350.9 428.0L351.4 428.0L351.9 428.0L352.4 428.0L352.9 428.0L353.4 428.0L353.9 428.0L354.4 428.0L354.9 428.0L355.4 428.0L355.9 428.0L356.4 428.0L356.9 428.0L357.4 428.0L357.9 428.0L358.4 428.0L358.9 428.0L359.4 428.0L359.9 428.0L360.4 428.0L360.9 428.0L361.4 428.0L361.9 428.0L362.4 428.0L362.9 428.0L363.4 428.0L363.9 428.0L364.4 428.0L364.9 428.0L365.4 428.0L365.9 428.0L366.4 428.0L366.9 428.0L367.4 428.0L367.9 428.0L368.4 428.0L368.9 428.0L369.4 428.0L369.9 428.0L370.4 428.0L370.9 428.0L371.4 428.0L371.9 428.0L372.4 428.0L372.9 428.0L373.4 428.0L373.9 428.0L374.4 428.0L374.9 428.0L375.4 428.0L375.9 428.0L376.4 428.0L376.9 428.0L377.4 428.0L377.9 428.0L378.4 428.0L378.9 428.0L379.4 428.0L379.9 428.0L380.4 428.0L380.9 428.0L381.4 428.0L381.9 428.0L382.4 428.0L382.9 428.0L383.4 428.0L383.9 428.0L384.4 428.0L384.9 428.0L385.4 428.0L385.9 428.0L386.4 428.0L386.9 428.0L387.4 428.0L387.9 428.0L388.4 428.0L388.9 428.0L389.4 428.0L389.9 428.0L390.4 428.0L390.9 428.0L391.4 428.0L391.9 428.0L392.4 428.0L392.9 428.0L393.4 428.0L393.9 428.0L394.4 428.0L394.9 428.0L395.4 428.0L395.9 428.0L396.4 428.0L396.9 428.0L397.4 428.0L397.9 428.0L398.4 428.0L398.9 428.0L399.4 428.0L399.9 428.0L400.4 428.0L400.9 428.0L401.4 428.0L401.9 428.0L402.4 428.0L402.9 428.0L403.4 428.0L403.9 428.0L404.4 428.0L404.9 428.0L405.4 428.0L405.9 428.0L406.4 428.0L406.9 428.0L407.4 428.0L407.9 428.0L408.4 428.0L408.9 428.0L409.4 428.0L409.9 428.0L410.4 428.0L410.9 428.0L411.4 428.0L411.9 428.0L412.4 428.0L412.9 428.0L413.4 428.0L413.9 428.0L414.4 428.0L414.9 428.0L415.4 428.0L415.9 428.0L416.4 428.0L416.9 428.0L417.4 428.0L417.9 428.0L418.4 428.0L418.9 428.0L419.4 428.0L419.9 428.0L420.4 428.0L420.9 428.0L421.4 428.0L421.9 428.0L422.4 428.0L422.9 428.0L423.4 428.0L423.9 428.0L424.4 428.0L424.9 428.0L425.4 428.0L425.9 428.0L426.4 428.0L426.9 428.0L427.4 428.0L427.9 428.0L428.4 428.0L428.9 428.0L429.4 428.0L429.9 428.0L430.4 428.0L430.9 428.0L431.4 428.0L431.9 428.0L432.4 428.0L432.9 428.0L433.4 428.0L433.9 428.0L434.4 428.0L434.9 428.0L435.4 428.0L435.9 428.0L436.4 428.0L436.9 428.0L437.4 428.0L437.9 428.0L438.4 428.0L438.9 428.0L439.4 428.0L439.9 428.0L440.4 428.0L440.9 428.0L441.4 428.0L441.9 428.0L442.4 428.0L442.9 428.0L443.4 428.0L443.9 428.0L444.4 428.0L444.9 428.0L445.4 428.0L445.9 428.0L446.4 428.0L446.9 428.1L447.4 428.1L447.9 428.1L448.4 428.1L448.9 428.1L449.4 428.1L449.9 428.1L450.4 428.1L450.9 428.1L451.4 428.1L451.9 428.1L452.4 428.1L452.9 428.1L453.4 428.1L453.9 428.1L454.4 428.1L454.9 428.1L455.4 428.1L455.9 428.1L456.4 428.0L456.9 428.0L457.4 428.0L457.9 428.0L458.4 428.0L458.9 428.0L459.4 428.0L459.9 428.0L460.4 428.0L460.9 428.0L461.4 428.0L461.9 428.0L462.4 428.0L462.9 427.9L463.4 427.9L463.9 427.9L464.4 427.9L464.9 427.9L465.4 427.9L465.9 427.8L466.4 427.8L466.9 427.8L467.4 427.8L467.9 427.7L468.4 427.7L468.9 427.7L469.4 427.6L469.9 427.6L470.4 427.6L470.9 427.5L471.4 427.5L471.9 427.4L472.4 427.4L472.9 427.3L473.4 427.3L473.9 427.2L474.4 427.2L474.9 427.1L475.4 427.1L475.9 427.0L476.4 427.0L476.9 426.9L477.4 426.8L477.9 426.8L478.4 426.7L478.9 426.6L479.4 426.6L479.9 426.5L480.4 426.5L480.9 426.4L481.4 426.3L481.9 426.3L482.4 426.2L482.9 426.2L483.4 426.1L483.9 426.1L484.4 426.0L484.9 426.0L485.4 425.9L485.9 425.9L486.4 425.8L486.9 425.8L487.4 425.8L487.9 425.7L488.4 425.7L488.9 425.7L489.4 425.7L489.9 425.7L490.4 425.6L490.9 425.6L491.4 425.6L491.9 425.7L492.4 425.7L492.9 425.7L493.4 425.7L493.9 425.7L494.4 425.8L494.9 425.8L495.4 425.8L495.9 425.9L496.4 425.9L496.9 426.0L497.4 426.0L497.9 426.1L498.4 426.1L498.9 426.2L499.4 426.3L499.9 426.3L500.4 426.4L500.9 426.5L501.4 426.6L501.9 426.6L502.4 426.7L502.9 426.8L503.4 426.9L503.9 427.0L504.4 427.1L504.9 427.1L505.4 427.2L505.9 427.3L506.4 427.4L506.9 427.5L507.4 427.5L507.9 427.6L508.4 427.7L508.9 427.8L509.4 427.9L509.9 428.0L510.4 428.0L510.9 428.1L511.4 428.2L511.9 428.3L512.4 428.3L512.9 428.4L513.4 428.5L513.9 428.6L514.4 428.6L514.9 428.7L515.4 428.8L515.9 428.8L516.4 428.9L516.9 429.0L517.4 429.1L517.9 429.1L518.4 429.2L518.9 429.3L519.4 429.3L519.9 429.4L520.4 429.5L520.9 429.5L521.4 429.6L521.9 429.7L522.4 429.7L522.9 429.8L523.4 429.9L523.9 430.0L524.4 430.0L524.9 430.1L525.4 430.2L525.9 430.2L526.4 430.3L526.9 430.4L527.4 430.4L527.9 430.5L528.4 430.6L528.9 430.7L529.4 430.7L529.9 430.8L530.4 430.9L530.9 431.0L531.4 431.0L531.9 431.1L532.4 431.2L532.9 431.2L533.4 431.3L533.9 431.4L534.4 431.5L534.9 431.5L535.4 431.6L535.9 431.7L536.4 431.8L536.9 431.8L537.4 431.9L537.9 432.0L538.4 432.0L538.9 432.1L539.4 432.2L539.9 432.2L540.4 432.3L540.9 432.4L541.4 432.4L541.9 432.5L542.4 432.6L542.9 432.6L543.4 432.7L543.9 432.7L544.4 432.8L544.9 432.8L545.4 432.9L545.9 432.9L546.4 433.0L546.9 433.0L547.4 433.0L547.9 433.1L548.4 433.1L548.9 433.1L549.4 433.2L549.9 433.2L550.4 433.2L550.9 433.2L551.4 433.2L551.9 433.3L552.4 433.3L552.9 433.3L553.4 433.3L553.9 433.3L554.4 433.3L554.9 433.4L555.4 433.4L555.9 433.4L556.4 433.4L556.9 433.4L557.4 433.4L557.9 433.4L558.4 433.4L558.9 433.4L559.4 433.4L559.9 433.4L560.4 433.4L560.9 433.4L561.4 433.4L561.9 433.4L562.4 433.5L562.9 433.5L563.4 433.5L563.9 433.5L564.4 433.5L564.9 433.5L565.4 433.5L565.9 433.5L566.4 433.5L566.9 433.5L567.4 433.5L567.9 433.5L568.4 433.5L568.9 433.5L569.4 433.5L569.9 433.5L570.4 433.5L570.9 433.5L571.4 433.5L571.9 433.5L572.4 433.5L572.9 433.5L573.4 433.5L573.9 433.5L574.4 433.5L574.9 433.5L575.4 433.5L575.9 433.5L576.4 433.5L576.9 433.5L577.4 433.5L577.9 433.5L578.4 433.5L578.9 433.5L579.4 433.5L579.9 433.5L580.4 433.5L580.9 433.5L581.4 433.5L581.9 433.5L582.4 433.5L582.9 433.5L583.4 433.5L583.9 433.5L584.4 433.5L584.9 433.5L585.4 433.5L585.9 433.5L586.4 433.5L586.9 433.5L587.4 433.5L587.9 433.5L588.4 433.5L588.9 433.5L589.4 433.5L589.9 433.5L590.4 433.5L590.9 433.5L591.4 433.5L591.9 433.5L592.4 433.5L592.9 433.5L593.4 433.5L593.9 433.6L594.4 433.6L594.9 433.6L595.4 433.6L595.9 433.6L596.4 433.6L596.9 433.6" stroke="#3030d8" stroke-width="1.2" fill="none"/>
<path d="M336.9 428.0L337.4 428.0L337.9 428.0L338.4 428.0L338.9 428.0L339.4 428.0L339.9 428.0L340.4 428.0L340.9 428.0L341.4 428.0L341.9 428.0L342.4 428.0L342.9 428.0L343.4 428.0L343.9 428.0L344.4 428.0L344.9 428.0L345.4 428.0L345.9 428.0L346.4 428.0L346.9 428.0L347.4 428.0L347.9 428.0L348.4 428.0L348.9 428.0L349.4 428.0L349.9 428.0L350.4 428.0L350.9 428.0L351.4 428.0L351.9 428.0L352.4 428.0L352.9 428.0L353.4 428.0L353.9 428.0L354.4 428.0L354.9 428.0L355.4 428.0L355.9 428.0L356.4 428.0L356.9 428.0L357.4 428.0L357.9 428.0L358.4 428.0L358.9 428.0L359.4 428.0L359.9 428.0L360.4 428.0L360.9 428.0L361.4 428.0L361.9 428.0L362.4 428.0L362.9 428.0L363.4 428.0L363.9 428.0L364.4 428.0L364.9 428.0L365.4 428.0L365.9 428.0L366.4 428.0L366.9 428.0L367.4 428.0L367.9 428.0L368.4 428.0L368.9 428.0L369.4 428.0L369.9 428.0L370.4 428.0L370.9 428.0L371.4 428.0L371.9 428.0L372.4 428.0L372.9 428.0L373.4 428.0L373.9 428.0L374.4 428.0L374.9 428.0L375.4 428.0L375.9 428.0L376.4 428.0L376.9 428.0L377.4 428.0L377.9 428.0L378.4 427.9L378.9 427.9L379.4 427.9L379.9 427.9L380.4 427.9L380.9 427.9L381.4 427.9L381.9 427.9L382.4 427.9L382.9 427.9L383.4 427.9L383.9 427.9L384.4 427.9L384.9 427.9L385.4 427.9L385.9 427.9L386.4 427.9L386.9 427.9L387.4 427.9L387.9 427.9L388.4 427.9L388.9 427.9L389.4 427.9L389.9 427.9L390.4 427.9L390.9 427.9L391.4 427.9L391.9 427.9L392.4 427.9L392.9 427.9L393.4 427.9L393.9 427.9L394.4 427.9L394.9 427.9L395.4 427.8L395.9 427.8L396.4 427.8L396.9 427.8L397.4 427.8L397.9 427.8L398.4 427.8L398.9 427.8L399.4 427.8L399.9 427.8L400.4 427.8L400.9 427.8L401.4 427.7L401.9 427.7L402.4 427.7L402.9 427.7L403.4 427.7L403.9 427.7L404.4 427.7L404.9 427.7L405.4 427.6L405.9 427.6L406.4 427.6L406.9 427.6L407.4 427.6L407.9 427.5L408.4 427.5L408.9 427.5L409.4 427.5L409.9 427.5L410.4 427.4L410.9 427.4L411.4 427.4L411.9 427.4L412.4 427.4L412.9 427.3L413.4 427.3L413.9 427.3L414.4 427.3L414.9 427.2L415.4 427.2L415.9 427.2L416.4 427.1L416.9 427.1L417.4 427.1L417.9 427.1L418.4 427.0L418.9 427.0L419.4 427.0L419.9 426.9L420.4 426.9L420.9 426.9L421.4 426.8L421.9 426.8L422.4 426.7L422.9 426.7L423.4 426.7L423.9 426.6L424.4 426.6L424.9 426.6L425.4 426.5L425.9 426.5L426.4 426.4L426.9 426.4L427.4 426.4L427.9 426.3L428.4 426.3L428.9 426.2L429.4 426.2L429.9 426.2L430.4 426.1L430.9 426.1L431.4 426.0L431.9 426.0L432.4 426.0L432.9 425.9L433.4 425.9L433.9 425.9L434.4 425.8L434.9 425.8L435.4 425.7L435.9 425.7L436.4 425.7L436.9 425.6L437.4 425.6L437.9 425.6L438.4 425.5L438.9 425.5L439.4 425.5L439.9 425.4L440.4 425.4L440.9 425.4L441.4 425.4L441.9 425.3L442.4 425.3L442.9 425.3L443.4 425.3L443.9 425.2L444.4 425.2L444.9 425.2L445.4 425.2L445.9 425.2L446.4 425.1L446.9 425.1L447.4 425.1L447.9 425.1L448.4 425.1L448.9 425.1L449.4 425.1L449.9 425.1L450.4 425.1L450.9 425.1L451.4 425.1L451.9 425.1L452.4 425.1L452.9 425.1L453.4 425.1L453.9 425.1L454.4 425.1L454.9 425.1L455.4 425.1L455.9 425.1L456.4 425.1L456.9 425.2L457.4 425.2L457.9 425.2L458.4 425.2L458.9 425.2L459.4 425.3L459.9 425.3L460.4 425.3L460.9 425.3L461.4 425.4L461.9 425.4L462.4 425.4L462.9 425.5L463.4 425.5L463.9 425.5L464.4 425.6L464.9 425.6L465.4 425.6L465.9 425.7L466.4 425.7L466.9 425.7L467.4 425.8L467.9 425.8L468.4 425.9L468.9 425.9L469.4 425.9L469.9 426.0L470.4 426.0L470.9 426.1L471.4 426.1L471.9 426.2L472.4 426.2L472.9 426.2L473.4 426.3L473.9 426.3L474.4 426.4L474.9 426.4L475.4 426.5L475.9 426.5L476.4 426.6L476.9 426.6L477.4 426.6L477.9 426.7L478.4 426.7L478.9 426.8L479.4 426.8L479.9 426.9L480.4 426.9L480.9 427.0L481.4 427.0L481.9 427.0L482.4 427.1L482.9 427.1L483.4 427.2L483.9 427.2L484.4 427.2L484.9 427.3L485.4 427.3L485.9 427.4L486.4 427.4L486.9 427.4L487.4 427.5L487.9 427.5L488.4 427.5L488.9 427.6L489.4 427.6L489.9 427.7L490.4 427.7L490.9 427.7L491.4 427.8L491.9 427.8L492.4 427.8L492.9 427.8L493.4 427.9L493.9 427.9L494.4 427.9L494.9 428.0L495.4 428.0L495.9 428.0L496.4 428.1L496.9 428.1L497.4 428.1L497.9 428.1L498.4 428.2L498.9 428.2L499.4 428.2L499.9 428.2L500.4 428.3L500.9 428.3L501.4 428.3L501.9 428.3L502.4 428.4L502.9 428.4L503.4 428.4L503.9 428.4L504.4 428.5L504.9 428.5L505.4 428.5L505.9 428.5L506.4 428.6L506.9 428.6L507.4 428.6L507.9 428.6L508.4 428.7L508.9 428.7L509.4 428.7L509.9 428.8L510.4 428.8L510.9 428.8L511.4 428.9L511.9 428.9L512.4 428.9L512.9 429.0L513.4 429.0L513.9 429.0L514.4 429.1L514.9 429.1L515.4 429.1L515.9 429.2L516.4 429.2L516.9 429.3L517.4 429.3L517.9 429.4L518.4 429.4L518.9 429.5L519.4 429.5L519.9 429.6L520.4 429.6L520.9 429.7L521.4 429.7L521.9 429.8L522.4 429.8L522.9 429.9L523.4 430.0L523.9 430.0L524.4 430.1L524.9 430.1L525.4 430.2L525.9 430.3L526.4 430.3L526.9 430.4L527.4 430.5L527.9 430.5L528.4 430.6L528.9 430.7L529.4 430.7L529.9 430.8L530.4 430.9L530.9 431.0L531.4 431.0L531.9 431.1L532.4 431.2L532.9 431.3L533.4 431.3L533.9 431.4L534.4 431.5L534.9 431.5L535.4 431.6L535.9 431.7L536.4 431.8L536.9 431.8L537.4 431.9L537.9 432.0L538.4 432.0L538.9 432.1L539.4 432.2L539.9 432.2L540.4 432.3L540.9 432.4L541.4 432.4L541.9 432.5L542.4 432.6L542.9 432.6L543.4 432.7L543.9 432.7L544.4 432.8L544.9 432.8L545.4 432.9L545.9 432.9L546.4 433.0L546.9 433.0L547.4 433.0L547.9 433.1L548.4 433.1L548.9 433.1L549.4 433.2L549.9 433.2L550.4 433.2L550.9 433.2L551.4 433.2L551.9 433.3L552.4 433.3L552.9 433.3L553.4 433.3L553.9 433.3L554.4 433.3L554.9 433.4L555.4 433.4L555.9 433.4L556.4 433.4L556.9 433.4L557.4 433.4L557.9 433.4L558.4 433.4L558.9 433.4L559.4 433.4L559.9 433.4L560.4 433.4L560.9 433.4L561.4 433.4L561.9 433.4L562.4 433.5L562.9 433.5L563.4 433.5L563.9 433.5L564.4 433.5L564.9 433.5L565.4 433.5L565.9 433.5L566.4 433.5L566.9 433.5L567.4 433.5L567.9 433.5L568.4 433.5L568.9 433.5L569.4 433.5L569.9 433.5L570.4 433.5L570.9 433.5L571.4 433.5L571.9 433.5L572.4 433.5L572.9 433.5L573.4 433.5L573.9 433.5L574.4 433.5L574.9 433.5L575.4 433.5L575.9 433.5L576.4 433.5L576.9 433.5L577.4 433.5L577.9 433.5L578.4 433.5L578.9 433.5L579.4 433.5L579.9 433.5L580.4 433.5L580.9 433.5L581.4 433.5L581.9 433.5L582.4 433.5L582.9 433.5L583.4 433.5L583.9 433.5L584.4 433.5L584.9 433.5L585.4 433.5L585.9 433.5L586.4 433.5L586.9 433.5L587.4 433.5L587.9 433.5L588.4 433.5L588.9 433.5L589.4 433.5L589.9 433.5L590.4 433.5L590.9 433.5L591.4 433.5L591.9 433.5L592.4 433.5L592.9 433.5L593.4 433.5L593.9 433.6L594.4 433.6L594.9 433.6L595.4 433.6L595.9 433.6L596.4 433.6L596.9 433.6" stroke="#8a30e0" stroke-width="1.2" fill="none"/>
<path d="M336.9 428.0L337.4 428.0L337.9 428.0L338.4 428.0L338.9 428.0L339.4 428.0L339.9 428.0L340.4 428.0L340.9 428.0L341.4 428.0L341.9 428.0L342.4 428.0L342.9 428.0L343.4 428.0L343.9 428.0L344.4 428.0L344.9 428.0L345.4 428.0L345.9 428.0L346.4 428.0L346.9 428.0L347.4 428.0L347.9 428.0L348.4 428.0L348.9 428.0L349.4 428.0L349.9 428.0L350.4 428.0L350.9 428.0L351.4 428.0L351.9 428.0L352.4 428.0L352.9 428.0L353.4 428.0L353.9 428.0L354.4 428.0L354.9 428.0L355.4 428.0L355.9 428.0L356.4 428.0L356.9 428.0L357.4 428.0L357.9 428.0L358.4 428.0L358.9 428.0L359.4 428.0L359.9 428.0L360.4 428.0L360.9 428.0L361.4 428.0L361.9 428.0L362.4 428.0L362.9 428.0L363.4 428.0L363.9 428.0L364.4 428.0L364.9 428.0L365.4 428.0L365.9 428.0L366.4 428.0L366.9 428.0L367.4 428.0L367.9 428.0L368.4 428.0L368.9 428.0L369.4 428.0L369.9 428.0L370.4 428.0L370.9 428.0L371.4 428.0L371.9 428.0L372.4 428.0L372.9 428.0L373.4 428.0L373.9 428.0L374.4 428.0L374.9 428.0L375.4 428.0L375.9 428.0L376.4 428.0L376.9 428.0L377.4 428.0L377.9 428.0L378.4 428.0L378.9 428.0L379.4 428.0L379.9 428.0L380.4 428.0L380.9 428.0L381.4 428.0L381.9 428.0L382.4 428.0L382.9 428.0L383.4 428.0L383.9 428.0L384.4 428.0L384.9 428.0L385.4 428.0L385.9 428.0L386.4 428.0L386.9 428.0L387.4 428.0L387.9 428.0L388.4 428.0L388.9 428.0L389.4 428.0L389.9 428.0L390.4 428.0L390.9 428.0L391.4 428.0L391.9 428.0L392.4 428.0L392.9 428.0L393.4 428.0L393.9 428.0L394.4 428.0L394.9 428.0L395.4 428.0L395.9 428.0L396.4 428.0L396.9 428.0L397.4 428.0L397.9 428.0L398.4 428.0L398.9 428.0L399.4 428.0L399.9 428.0L400.4 428.0L400.9 428.0L401.4 428.0L401.9 428.0L402.4 428.0L402.9 428.0L403.4 428.0L403.9 428.0L404.4 428.0L404.9 428.0L405.4 428.0L405.9 428.0L406.4 428.0L406.9 428.0L407.4 428.0L407.9 428.0L408.4 428.0L408.9 428.0L409.4 428.0L409.9 428.0L410.4 428.0L410.9 428.0L411.4 428.0L411.9 428.0L412.4 428.0L412.9 428.0L413.4 428.0L413.9 428.0L414.4 428.0L414.9 428.0L415.4 428.0L415.9 428.0L416.4 428.0L416.9 428.0L417.4 428.0L417.9 428.0L418.4 428.0L418.9 428.0L419.4 428.0L419.9 428.0L420.4 428.0L420.9 428.0L421.4 428.0L421.9 428.0L422.4 428.0L422.9 428.0L423.4 428.0L423.9 428.0L424.4 428.0L424.9 428.0L425.4 428.0L425.9 428.0L426.4 428.0L426.9 428.0L427.4 428.0L427.9 428.0L428.4 428.0L428.9 428.0L429.4 428.0L429.9 428.0L430.4 428.0L430.9 428.0L431.4 428.0L431.9 428.0L432.4 428.0L432.9 428.0L433.4 428.0L433.9 428.0L434.4 428.0L434.9 428.0L435.4 428.0L435.9 428.0L436.4 428.0L436.9 428.0L437.4 428.0L437.9 428.0L438.4 428.0L438.9 428.0L439.4 428.0L439.9 428.0L440.4 428.0L440.9 428.0L441.4 428.0L441.9 428.0L442.4 428.0L442.9 428.0L443.4 428.0L443.9 428.0L444.4 428.0L444.9 428.0L445.4 428.0L445.9 428.0L446.4 428.1L446.9 428.1L447.4 428.1L447.9 428.1L448.4 428.1L448.9 428.1L449.4 428.1L449.9 428.1L450.4 428.1L450.9 428.1L451.4 428.1L451.9 428.1L452.4 428.1L452.9 428.1L453.4 428.1L453.9 428.1L454.4 428.1L454.9 428.1L455.4 428.1L455.9 428.1L456.4 428.1L456.9 428.1L457.4 428.1L457.9 428.1L458.4 428.1L458.9 428.1L459.4 428.1L459.9 428.1L460.4 428.1L460.9 428.1L461.4 428.1L461.9 428.1L462.4 428.1L462.9 428.1L463.4 428.1L463.9 428.1L464.4 428.1L464.9 428.1L465.4 428.1L465.9 428.1L466.4 428.1L466.9 428.1L467.4 428.1L467.9 428.1L468.4 428.1L468.9 428.1L469.4 428.1L469.9 428.2L470.4 428.2L470.9 428.2L471.4 428.2L471.9 428.2L472.4 428.2L472.9 428.2L473.4 428.2L473.9 428.2L474.4 428.2L474.9 428.2L475.4 428.2L475.9 428.2L476.4 428.2L476.9 428.2L477.4 428.2L477.9 428.2L478.4 428.2L478.9 428.2L479.4 428.2L479.9 428.2L480.4 428.2L480.9 428.2L481.4 428.2L481.9 428.2L482.4 428.3L482.9 428.3L483.4 428.3L483.9 428.3L484.4 428.3L484.9 428.3L485.4 428.3L485.9 428.3L486.4 428.3L486.9 428.3L487.4 428.3L487.9 428.3L488.4 428.3L488.9 428.3L489.4 428.3L489.9 428.4L490.4 428.4L490.9 428.4L491.4 428.4L491.9 428.4L492.4 428.4L492.9 428.4L493.4 428.4L493.9 428.4L494.4 428.4L494.9 428.4L495.4 428.4L495.9 428.5L496.4 428.5L496.9 428.5L497.4 428.5L497.9 428.5L498.4 428.5L498.9 428.5L499.4 428.5L499.9 428.5L500.4 428.5L500.9 428.6L501.4 428.6L501.9 428.6L502.4 428.6L502.9 428.6L503.4 428.6L503.9 428.6L504.4 428.6L504.9 428.7L505.4 428.7L505.9 428.7L506.4 428.7L506.9 428.7L507.4 428.7L507.9 428.8L508.4 428.8L508.9 428.8L509.4 428.8L509.9 428.9L510.4 428.9L510.9 428.9L511.4 428.9L511.9 429.0L512.4 429.0L512.9 429.0L513.4 429.1L513.9 429.1L514.4 429.1L514.9 429.2L515.4 429.2L515.9 429.2L516.4 429.3L516.9 429.3L517.4 429.4L517.9 429.4L518.4 429.5L518.9 429.5L519.4 429.5L519.9 429.6L520.4 429.6L520.9 429.7L521.4 429.8L521.9 429.8L522.4 429.9L522.9 429.9L523.4 430.0L523.9 430.0L524.4 430.1L524.9 430.2L525.4 430.2L525.9 430.3L526.4 430.4L526.9 430.4L527.4 430.5L527.9 430.6L528.4 430.6L528.9 430.7L529.4 430.8L529.9 430.8L530.4 430.9L530.9 431.0L531.4 431.0L531.9 431.1L532.4 431.2L532.9 431.3L533.4 431.3L533.9 431.4L534.4 431.5L534.9 431.5L535.4 431.6L535.9 431.7L536.4 431.8L536.9 431.8L537.4 431.9L537.9 432.0L538.4 432.0L538.9 432.1L539.4 432.2L539.9 432.2L540.4 432.3L540.9 432.4L541.4 432.4L541.9 432.5L542.4 432.6L542.9 432.6L543.4 432.7L543.9 432.7L544.4 432.8L544.9 432.8L545.4 432.9L545.9 432.9L546.4 433.0L546.9 433.0L547.4 433.0L547.9 433.1L548.4 433.1L548.9 433.1L549.4 433.2L549.9 433.2L550.4 433.2L550.9 433.2L551.4 433.2L551.9 433.3L552.4 433.3L552.9 433.3L553.4 433.3L553.9 433.3L554.4 433.3L554.9 433.4L555.4 433.4L555.9 433.4L556.4 433.4L556.9 433.4L557.4 433.4L557.9 433.4L558.4 433.4L558.9 433.4L559.4 433.4L559.9 433.4L560.4 433.4L560.9 433.4L561.4 433.4L561.9 433.4L562.4 433.5L562.9 433.5L563.4 433.5L563.9 433.5L564.4 433.5L564.9 433.5L565.4 433.5L565.9 433.5L566.4 433.5L566.9 433.5L567.4 433.5L567.9 433.5L568.4 433.5L568.9 433.5L569.4 433.5L569.9 433.5L570.4 433.5L570.9 433.5L571.4 433.5L571.9 433.5L572.4 433.5L572.9 433.5L573.4 433.5L573.9 433.5L574.4 433.5L574.9 433.5L575.4 433.5L575.9 433.5L576.4 433.5L576.9 433.5L577.4 433.5L577.9 433.5L578.4 433.5L578.9 433.5L579.4 433.5L579.9 433.5L580.4 433.5L580.9 433.5L581.4 433.5L581.9 433.5L582.4 433.5L582.9 433.5L583.4 433.5L583.9 433.5L584.4 433.5L584.9 433.5L585.4 433.5L585.9 433.5L586.4 433.5L586.9 433.5L587.4 433.5L587.9 433.5L588.4 433.5L588.9 433.5L589.4 433.5L589.9 433.5L590.4 433.5L590.9 433.5L591.4 433.5L591.9 433.5L592.4 433.5L592.9 433.5L593.4 433.5L593.9 433.6L594.4 433.6L594.9 433.6L595.4 433.6L595.9 433.6L596.4 433.6L596.9 433.6" stroke="#8418cc" stroke-width="1.25" fill="none"/>
<text x="551.67" y="315.30" font-size="11.20" textLength="22.11" lengthAdjust="spacingAndGlyphs" fill="#111">C-C</text>
<text x="555.37" y="351.90" font-size="11.20" textLength="25.10" lengthAdjust="spacingAndGlyphs" fill="#111">C=C</text>
<text x="476.76" y="362.40" font-size="11.20" textLength="32.06" lengthAdjust="spacingAndGlyphs" fill="#111">C-OH</text>
<text x="462.47" y="386.40" font-size="11.20" textLength="35.00" lengthAdjust="spacingAndGlyphs" fill="#111">C-N-C</text>
<text x="452.28" y="405.50" font-size="11.20" textLength="35.08" lengthAdjust="spacingAndGlyphs" fill="#111">C-O-C</text>
<text x="417.54" y="414.10" font-size="11.20" textLength="26.98" lengthAdjust="spacingAndGlyphs" fill="#111">C=O</text>
<path d="M534.00 331.30L550.59 319.98" stroke="#111" stroke-width="1.05" fill="none"/>
<path d="M554.80 317.10L551.13 321.66L549.22 318.85Z" fill="#111"/>
<path d="M542.60 362.50L552.48 356.84" stroke="#111" stroke-width="1.05" fill="none"/>
<path d="M556.90 354.30L552.89 358.56L551.20 355.61Z" fill="#111"/>
<path d="M514.40 393.70L503.63 370.33" stroke="#111" stroke-width="1.05" fill="none"/>
<path d="M501.50 365.70L505.39 370.07L502.30 371.50Z" fill="#111"/>
<path d="M503.40 417.30L493.41 392.63" stroke="#111" stroke-width="1.05" fill="none"/>
<path d="M491.50 387.90L495.18 392.45L492.03 393.73Z" fill="#111"/>
<path d="M486.50 423.80L476.74 411.32" stroke="#111" stroke-width="1.05" fill="none"/>
<path d="M473.60 407.30L478.39 410.66L475.71 412.76Z" fill="#111"/>
<path d="M446.80 424.30L441.93 420.26" stroke="#111" stroke-width="1.05" fill="none"/>
<path d="M438.00 417.00L443.40 419.27L441.22 421.88Z" fill="#111"/>
</svg>
</body></html>
